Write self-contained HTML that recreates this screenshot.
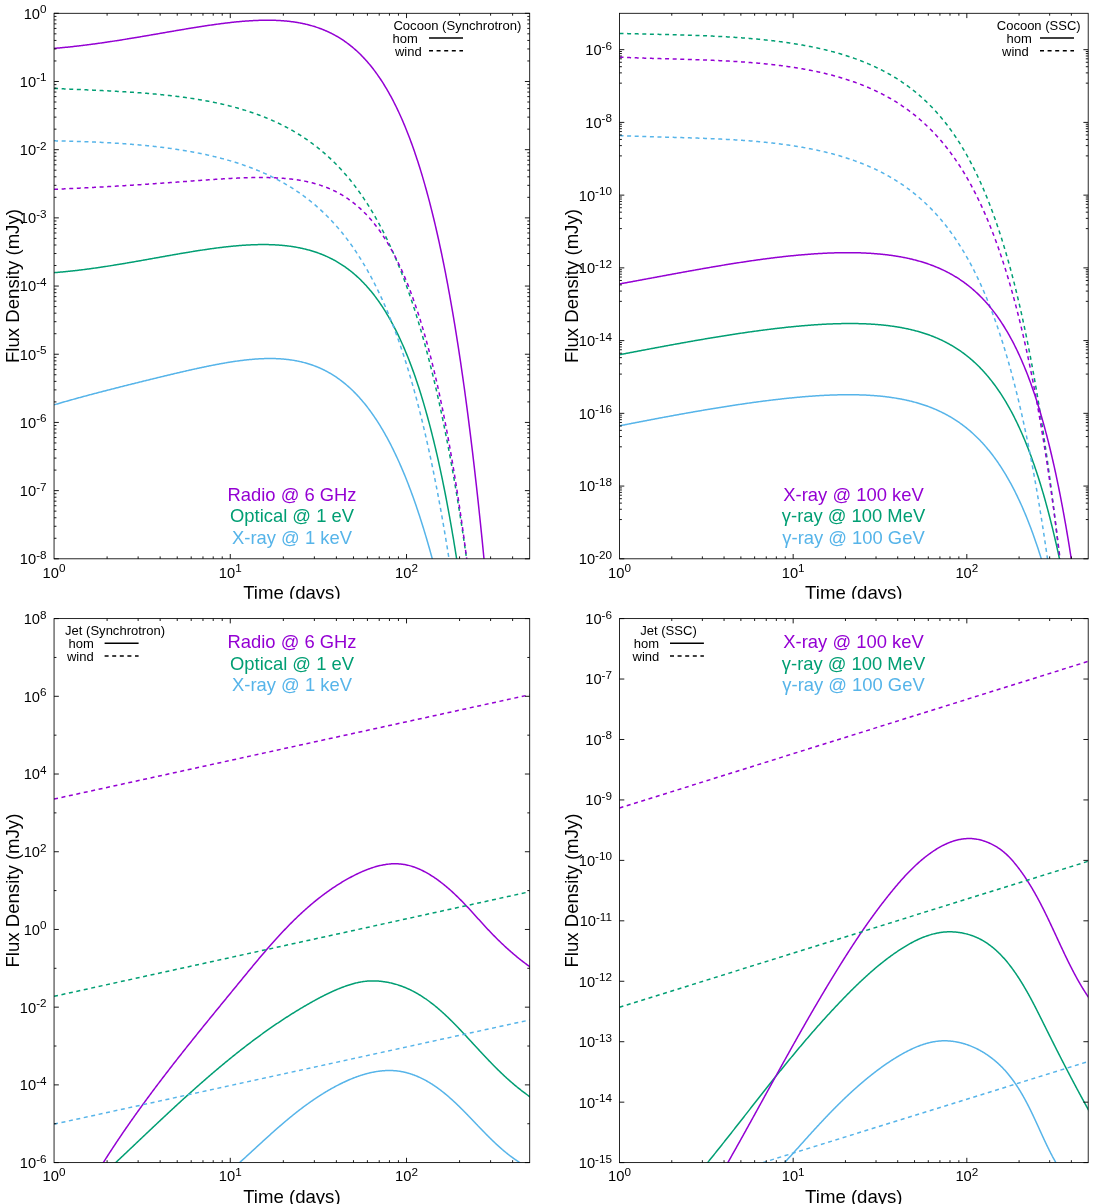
<!DOCTYPE html>
<html><head><meta charset="utf-8"><title>Light curves</title>
<style>
html,body{margin:0;padding:0;background:#fff;}
svg{display:block;font-family:"Liberation Sans",sans-serif;will-change:transform;}

</style></head><body>
<svg width="1110" height="1204" viewBox="0 0 1110 1204">
<rect width="1110" height="1204" fill="#fff"/>
<defs><clipPath id="top"><rect x="0" y="0" width="1110" height="601.5"/></clipPath></defs>
<clipPath id="clipTL"><rect x="54.05" y="13.3" width="475.65" height="545.5"/></clipPath>
<g clip-path="url(#clipTL)" fill="none" stroke-width="1.5" stroke-linejoin="round">
<path d="M54.05 404.86 L54.84 404.62 L55.64 404.39 L56.43 404.15 L57.23 403.92 L58.02 403.68 L58.81 403.45 L59.61 403.22 L60.4 402.99 L61.2 402.76 L61.99 402.53 L62.78 402.3 L63.58 402.07 L64.37 401.84 L65.17 401.61 L65.96 401.39 L66.76 401.16 L67.55 400.93 L68.34 400.71 L69.14 400.49 L69.93 400.26 L70.73 400.04 L71.52 399.82 L72.31 399.6 L73.11 399.37 L73.9 399.15 L74.7 398.93 L75.49 398.71 L76.28 398.49 L77.08 398.28 L77.87 398.06 L78.67 397.84 L79.46 397.62 L80.25 397.41 L81.05 397.19 L81.84 396.98 L82.64 396.76 L83.43 396.55 L84.22 396.33 L85.02 396.12 L85.81 395.91 L86.61 395.69 L87.4 395.48 L88.2 395.27 L88.99 395.06 L89.78 394.84 L90.58 394.63 L91.37 394.42 L92.17 394.21 L92.96 394 L93.75 393.79 L94.55 393.59 L95.34 393.38 L96.14 393.17 L96.93 392.96 L97.72 392.75 L98.52 392.54 L99.31 392.34 L100.11 392.13 L100.9 391.92 L101.69 391.72 L102.49 391.51 L103.28 391.31 L104.08 391.1 L104.87 390.9 L105.66 390.69 L106.46 390.49 L107.25 390.28 L108.05 390.08 L108.84 389.87 L109.64 389.67 L110.43 389.47 L111.22 389.26 L112.02 389.06 L112.81 388.86 L113.61 388.66 L114.4 388.45 L115.19 388.25 L115.99 388.05 L116.78 387.85 L117.58 387.65 L118.37 387.44 L119.16 387.24 L119.96 387.04 L120.75 386.84 L121.55 386.64 L122.34 386.44 L123.13 386.24 L123.93 386.04 L124.72 385.84 L125.52 385.64 L126.31 385.44 L127.1 385.24 L127.9 385.04 L128.69 384.84 L129.49 384.64 L130.28 384.44 L131.08 384.25 L131.87 384.05 L132.66 383.85 L133.46 383.65 L134.25 383.45 L135.05 383.25 L135.84 383.06 L136.63 382.86 L137.43 382.66 L138.22 382.46 L139.02 382.27 L139.81 382.07 L140.6 381.87 L141.4 381.68 L142.19 381.48 L142.99 381.28 L143.78 381.09 L144.57 380.89 L145.37 380.69 L146.16 380.5 L146.96 380.3 L147.75 380.11 L148.54 379.91 L149.34 379.72 L150.13 379.52 L150.93 379.33 L151.72 379.13 L152.52 378.94 L153.31 378.74 L154.1 378.55 L154.9 378.36 L155.69 378.16 L156.49 377.97 L157.28 377.77 L158.07 377.58 L158.87 377.39 L159.66 377.2 L160.46 377 L161.25 376.81 L162.04 376.62 L162.84 376.43 L163.63 376.24 L164.43 376.04 L165.22 375.85 L166.01 375.66 L166.81 375.47 L167.6 375.28 L168.4 375.09 L169.19 374.9 L169.98 374.71 L170.78 374.52 L171.57 374.33 L172.37 374.15 L173.16 373.96 L173.96 373.77 L174.75 373.58 L175.54 373.39 L176.34 373.21 L177.13 373.02 L177.93 372.84 L178.72 372.65 L179.51 372.46 L180.31 372.28 L181.1 372.09 L181.9 371.91 L182.69 371.73 L183.48 371.54 L184.28 371.36 L185.07 371.18 L185.87 371 L186.66 370.82 L187.45 370.64 L188.25 370.46 L189.04 370.28 L189.84 370.1 L190.63 369.92 L191.42 369.74 L192.22 369.56 L193.01 369.39 L193.81 369.21 L194.6 369.03 L195.4 368.86 L196.19 368.69 L196.98 368.51 L197.78 368.34 L198.57 368.17 L199.37 368 L200.16 367.83 L200.95 367.66 L201.75 367.49 L202.54 367.32 L203.34 367.15 L204.13 366.98 L204.92 366.82 L205.72 366.65 L206.51 366.49 L207.31 366.33 L208.1 366.16 L208.89 366 L209.69 365.84 L210.48 365.68 L211.28 365.53 L212.07 365.37 L212.86 365.21 L213.66 365.06 L214.45 364.9 L215.25 364.75 L216.04 364.6 L216.84 364.45 L217.63 364.3 L218.42 364.15 L219.22 364 L220.01 363.86 L220.81 363.71 L221.6 363.57 L222.39 363.43 L223.19 363.29 L223.98 363.15 L224.78 363.01 L225.57 362.87 L226.36 362.74 L227.16 362.61 L227.95 362.47 L228.75 362.34 L229.54 362.22 L230.33 362.09 L231.13 361.96 L231.92 361.84 L232.72 361.72 L233.51 361.6 L234.3 361.48 L235.1 361.36 L235.89 361.25 L236.69 361.13 L237.48 361.02 L238.28 360.91 L239.07 360.8 L239.86 360.7 L240.66 360.6 L241.45 360.49 L242.25 360.39 L243.04 360.3 L243.83 360.2 L244.63 360.11 L245.42 360.02 L246.22 359.93 L247.01 359.84 L247.8 359.76 L248.6 359.68 L249.39 359.6 L250.19 359.52 L250.98 359.45 L251.77 359.38 L252.57 359.31 L253.36 359.24 L254.16 359.18 L254.95 359.11 L255.74 359.06 L256.54 359 L257.33 358.95 L258.13 358.9 L258.92 358.85 L259.72 358.81 L260.51 358.76 L261.3 358.73 L262.1 358.69 L262.89 358.66 L263.69 358.63 L264.48 358.6 L265.27 358.58 L266.07 358.56 L266.86 358.55 L267.66 358.53 L268.45 358.53 L269.24 358.52 L270.04 358.52 L270.83 358.52 L271.63 358.52 L272.42 358.53 L273.21 358.55 L274.01 358.56 L274.8 358.58 L275.6 358.61 L276.39 358.64 L277.18 358.67 L277.98 358.71 L278.77 358.75 L279.57 358.79 L280.36 358.84 L281.16 358.89 L281.95 358.95 L282.74 359.01 L283.54 359.08 L284.33 359.15 L285.13 359.23 L285.92 359.31 L286.71 359.39 L287.51 359.48 L288.3 359.58 L289.1 359.68 L289.89 359.78 L290.68 359.89 L291.48 360.01 L292.27 360.13 L293.07 360.25 L293.86 360.38 L294.65 360.52 L295.45 360.66 L296.24 360.81 L297.04 360.96 L297.83 361.12 L298.62 361.28 L299.42 361.45 L300.21 361.63 L301.01 361.81 L301.8 362 L302.59 362.19 L303.39 362.39 L304.18 362.6 L304.98 362.81 L305.77 363.03 L306.57 363.25 L307.36 363.49 L308.15 363.72 L308.95 363.97 L309.74 364.22 L310.54 364.48 L311.33 364.75 L312.12 365.02 L312.92 365.3 L313.71 365.59 L314.51 365.88 L315.3 366.19 L316.09 366.5 L316.89 366.81 L317.68 367.14 L318.48 367.47 L319.27 367.81 L320.06 368.16 L320.86 368.52 L321.65 368.88 L322.45 369.25 L323.24 369.64 L324.03 370.03 L324.83 370.42 L325.62 370.83 L326.42 371.25 L327.21 371.67 L328.01 372.1 L328.8 372.55 L329.59 373 L330.39 373.46 L331.18 373.93 L331.98 374.41 L332.77 374.9 L333.56 375.39 L334.36 375.9 L335.15 376.42 L335.95 376.95 L336.74 377.49 L337.53 378.03 L338.33 378.59 L339.12 379.16 L339.92 379.74 L340.71 380.33 L341.5 380.93 L342.3 381.54 L343.09 382.17 L343.89 382.8 L344.68 383.44 L345.47 384.1 L346.27 384.77 L347.06 385.45 L347.86 386.14 L348.65 386.84 L349.45 387.56 L350.24 388.28 L351.03 389.02 L351.83 389.77 L352.62 390.54 L353.42 391.31 L354.21 392.1 L355 392.9 L355.8 393.72 L356.59 394.55 L357.39 395.39 L358.18 396.24 L358.97 397.11 L359.77 397.99 L360.56 398.89 L361.36 399.8 L362.15 400.72 L362.94 401.66 L363.74 402.62 L364.53 403.58 L365.33 404.56 L366.12 405.56 L366.91 406.57 L367.71 407.6 L368.5 408.64 L369.3 409.7 L370.09 410.77 L370.89 411.86 L371.68 412.97 L372.47 414.09 L373.27 415.23 L374.06 416.38 L374.86 417.55 L375.65 418.74 L376.44 419.94 L377.24 421.16 L378.03 422.4 L378.83 423.66 L379.62 424.93 L380.41 426.22 L381.21 427.53 L382 428.86 L382.8 430.21 L383.59 431.57 L384.38 432.95 L385.18 434.35 L385.97 435.78 L386.77 437.22 L387.56 438.67 L388.35 440.15 L389.15 441.65 L389.94 443.17 L390.74 444.71 L391.53 446.27 L392.33 447.85 L393.12 449.45 L393.91 451.07 L394.71 452.71 L395.5 454.38 L396.3 456.06 L397.09 457.77 L397.88 459.5 L398.68 461.25 L399.47 463.03 L400.27 464.82 L401.06 466.64 L401.85 468.48 L402.65 470.35 L403.44 472.24 L404.24 474.15 L405.03 476.09 L405.82 478.05 L406.62 480.04 L407.41 482.04 L408.21 484.08 L409 486.14 L409.79 488.22 L410.59 490.33 L411.38 492.47 L412.18 494.63 L412.97 496.82 L413.77 499.04 L414.56 501.28 L415.35 503.55 L416.15 505.84 L416.94 508.17 L417.74 510.52 L418.53 512.9 L419.32 515.3 L420.12 517.74 L420.91 520.2 L421.71 522.7 L422.5 525.22 L423.29 527.77 L424.09 530.35 L424.88 532.97 L425.68 535.61 L426.47 538.28 L427.26 540.99 L428.06 543.72 L428.85 546.49 L429.65 549.29 L430.44 552.12 L431.23 554.98 L432.03 557.88 L432.82 560.8 L433.62 563.76 L434.41 566.76 L435.21 569.79 L436 572.85 L436.79 575.95 L437.59 579.08 L438.38 582.25 L439.18 585.45 L439.97 588.69 L440.76 591.96 L441.56 595.27 L442.35 598.62 L443.15 602 L443.94 605.42 L444.73 608.88 L445.53 612.38 L446.32 615.91 L447.12 619.48 L447.91 623.1 L448.7 626.75 L449.5 630.44 L450.29 634.17 L451.09 637.94 L451.88 641.75 L452.67 645.6 L453.47 649.5 L454.26 653.43 L455.06 657.41 L455.85 661.43 L456.65 665.49 L457.44 669.6 L458.23 673.75 L459.03 677.94 L459.82 682.18 L460.62 686.46 L461.41 690.79 L462.2 695.16 L463 699.58 L463.79 704.05 L464.59 708.56 L465.38 713.12 L466.17 717.72 L466.97 722.38 L467.76 727.08 L468.56 731.83 L469.35 736.63 L470.14 741.48 L470.94 746.38 L471.73 751.32 L472.53 756.32 L473.32 761.38 L474.11 766.48 L474.91 771.63 L475.7 776.84 L476.5 782.1 L477.29 787.42 L478.09 792.78 L478.88 798.2 L479.67 803.68 L480.47 809.21 L481.26 814.8 L482.06 820.44 L482.85 826.14 L483.64 831.9 L484.44 837.72 L485.23 843.59 L486.03 849.52 L486.82 855.51 L487.61 861.56 L488.41 867.67 L489.2 873.84 L490 880.07 L490.79 886.36 L491.58 892.72 L492.38 899.14 L493.17 905.62 L493.97 912.16 L494.76 918.77 L495.55 925.44 L496.35 932.18 L497.14 938.98 L497.94 945.85 L498.73 952.79 L499.53 959.8 L500.32 966.87 L501.11 974.01 L501.91 981.22 L502.7 988.5 L503.5 995.85 L504.29 1003.27 L505.08 1010.76 L505.88 1018.32 L506.67 1025.96 L507.47 1033.67 L508.26 1041.45 L509.05 1049.31 L509.85 1057.24 L510.64 1065.25 L511.44 1073.33 L512.23 1081.49 L513.02 1089.73 L513.82 1098.04 L514.61 1106.44 L515.41 1114.91 L516.2 1123.47 L516.99 1132.1 L517.79 1140.81 L518.58 1149.61 L519.38 1158.49 L520.17 1167.46 L520.97 1176.5 L521.76 1185.63 L522.55 1194.85 L523.35 1204.15 L524.14 1213.54 L524.94 1223.02 L525.73 1232.59 L526.52 1242.24 L527.32 1251.98 L528.11 1261.82 L528.91 1271.74 L529.7 1281.76" stroke="#56b4e9"/>
<path d="M54.05 272.65 L54.84 272.59 L55.64 272.53 L56.43 272.46 L57.23 272.4 L58.02 272.33 L58.81 272.26 L59.61 272.19 L60.4 272.12 L61.2 272.05 L61.99 271.98 L62.78 271.9 L63.58 271.83 L64.37 271.75 L65.17 271.68 L65.96 271.6 L66.76 271.52 L67.55 271.44 L68.34 271.36 L69.14 271.28 L69.93 271.19 L70.73 271.11 L71.52 271.02 L72.31 270.93 L73.11 270.85 L73.9 270.76 L74.7 270.67 L75.49 270.58 L76.28 270.49 L77.08 270.39 L77.87 270.3 L78.67 270.21 L79.46 270.11 L80.25 270.01 L81.05 269.92 L81.84 269.82 L82.64 269.72 L83.43 269.62 L84.22 269.52 L85.02 269.42 L85.81 269.31 L86.61 269.21 L87.4 269.11 L88.2 269 L88.99 268.89 L89.78 268.79 L90.58 268.68 L91.37 268.57 L92.17 268.46 L92.96 268.35 L93.75 268.24 L94.55 268.13 L95.34 268.02 L96.14 267.9 L96.93 267.79 L97.72 267.67 L98.52 267.56 L99.31 267.44 L100.11 267.33 L100.9 267.21 L101.69 267.09 L102.49 266.97 L103.28 266.85 L104.08 266.73 L104.87 266.61 L105.66 266.49 L106.46 266.37 L107.25 266.24 L108.05 266.12 L108.84 266 L109.64 265.87 L110.43 265.75 L111.22 265.62 L112.02 265.49 L112.81 265.37 L113.61 265.24 L114.4 265.11 L115.19 264.98 L115.99 264.85 L116.78 264.72 L117.58 264.59 L118.37 264.46 L119.16 264.33 L119.96 264.2 L120.75 264.07 L121.55 263.94 L122.34 263.8 L123.13 263.67 L123.93 263.54 L124.72 263.4 L125.52 263.27 L126.31 263.13 L127.1 263 L127.9 262.86 L128.69 262.73 L129.49 262.59 L130.28 262.45 L131.08 262.32 L131.87 262.18 L132.66 262.04 L133.46 261.9 L134.25 261.76 L135.05 261.62 L135.84 261.49 L136.63 261.35 L137.43 261.21 L138.22 261.07 L139.02 260.93 L139.81 260.79 L140.6 260.65 L141.4 260.51 L142.19 260.37 L142.99 260.23 L143.78 260.08 L144.57 259.94 L145.37 259.8 L146.16 259.66 L146.96 259.52 L147.75 259.38 L148.54 259.24 L149.34 259.09 L150.13 258.95 L150.93 258.81 L151.72 258.67 L152.52 258.53 L153.31 258.38 L154.1 258.24 L154.9 258.1 L155.69 257.96 L156.49 257.81 L157.28 257.67 L158.07 257.53 L158.87 257.39 L159.66 257.25 L160.46 257.1 L161.25 256.96 L162.04 256.82 L162.84 256.68 L163.63 256.54 L164.43 256.39 L165.22 256.25 L166.01 256.11 L166.81 255.97 L167.6 255.83 L168.4 255.69 L169.19 255.55 L169.98 255.41 L170.78 255.27 L171.57 255.13 L172.37 254.99 L173.16 254.85 L173.96 254.71 L174.75 254.57 L175.54 254.43 L176.34 254.3 L177.13 254.16 L177.93 254.02 L178.72 253.88 L179.51 253.75 L180.31 253.61 L181.1 253.47 L181.9 253.34 L182.69 253.2 L183.48 253.07 L184.28 252.93 L185.07 252.8 L185.87 252.67 L186.66 252.53 L187.45 252.4 L188.25 252.27 L189.04 252.14 L189.84 252.01 L190.63 251.88 L191.42 251.75 L192.22 251.62 L193.01 251.49 L193.81 251.36 L194.6 251.23 L195.4 251.11 L196.19 250.98 L196.98 250.86 L197.78 250.73 L198.57 250.61 L199.37 250.48 L200.16 250.36 L200.95 250.24 L201.75 250.12 L202.54 250 L203.34 249.88 L204.13 249.76 L204.92 249.64 L205.72 249.53 L206.51 249.41 L207.31 249.29 L208.1 249.18 L208.89 249.07 L209.69 248.95 L210.48 248.84 L211.28 248.73 L212.07 248.62 L212.86 248.51 L213.66 248.41 L214.45 248.3 L215.25 248.19 L216.04 248.09 L216.84 247.99 L217.63 247.88 L218.42 247.78 L219.22 247.68 L220.01 247.58 L220.81 247.49 L221.6 247.39 L222.39 247.29 L223.19 247.2 L223.98 247.11 L224.78 247.01 L225.57 246.92 L226.36 246.84 L227.16 246.75 L227.95 246.66 L228.75 246.58 L229.54 246.49 L230.33 246.41 L231.13 246.33 L231.92 246.25 L232.72 246.17 L233.51 246.1 L234.3 246.02 L235.1 245.95 L235.89 245.88 L236.69 245.81 L237.48 245.74 L238.28 245.67 L239.07 245.61 L239.86 245.55 L240.66 245.48 L241.45 245.42 L242.25 245.37 L243.04 245.31 L243.83 245.26 L244.63 245.2 L245.42 245.15 L246.22 245.1 L247.01 245.06 L247.8 245.01 L248.6 244.97 L249.39 244.93 L250.19 244.89 L250.98 244.85 L251.77 244.82 L252.57 244.78 L253.36 244.75 L254.16 244.72 L254.95 244.7 L255.74 244.67 L256.54 244.65 L257.33 244.63 L258.13 244.62 L258.92 244.6 L259.72 244.59 L260.51 244.58 L261.3 244.57 L262.1 244.57 L262.89 244.56 L263.69 244.56 L264.48 244.57 L265.27 244.57 L266.07 244.58 L266.86 244.59 L267.66 244.6 L268.45 244.62 L269.24 244.64 L270.04 244.66 L270.83 244.68 L271.63 244.71 L272.42 244.74 L273.21 244.77 L274.01 244.81 L274.8 244.85 L275.6 244.89 L276.39 244.94 L277.18 244.99 L277.98 245.04 L278.77 245.09 L279.57 245.15 L280.36 245.21 L281.16 245.28 L281.95 245.35 L282.74 245.42 L283.54 245.5 L284.33 245.57 L285.13 245.66 L285.92 245.74 L286.71 245.83 L287.51 245.93 L288.3 246.03 L289.1 246.13 L289.89 246.23 L290.68 246.34 L291.48 246.46 L292.27 246.57 L293.07 246.7 L293.86 246.82 L294.65 246.95 L295.45 247.09 L296.24 247.22 L297.04 247.37 L297.83 247.51 L298.62 247.67 L299.42 247.82 L300.21 247.98 L301.01 248.15 L301.8 248.32 L302.59 248.5 L303.39 248.68 L304.18 248.86 L304.98 249.05 L305.77 249.25 L306.57 249.45 L307.36 249.65 L308.15 249.86 L308.95 250.08 L309.74 250.3 L310.54 250.53 L311.33 250.76 L312.12 251 L312.92 251.24 L313.71 251.49 L314.51 251.75 L315.3 252.01 L316.09 252.27 L316.89 252.55 L317.68 252.83 L318.48 253.11 L319.27 253.41 L320.06 253.7 L320.86 254.01 L321.65 254.32 L322.45 254.64 L323.24 254.96 L324.03 255.3 L324.83 255.63 L325.62 255.98 L326.42 256.33 L327.21 256.69 L328.01 257.06 L328.8 257.44 L329.59 257.82 L330.39 258.21 L331.18 258.61 L331.98 259.01 L332.77 259.42 L333.56 259.85 L334.36 260.28 L335.15 260.71 L335.95 261.16 L336.74 261.61 L337.53 262.08 L338.33 262.55 L339.12 263.03 L339.92 263.52 L340.71 264.02 L341.5 264.53 L342.3 265.04 L343.09 265.57 L343.89 266.11 L344.68 266.65 L345.47 267.21 L346.27 267.78 L347.06 268.35 L347.86 268.94 L348.65 269.53 L349.45 270.14 L350.24 270.76 L351.03 271.39 L351.83 272.03 L352.62 272.68 L353.42 273.34 L354.21 274.01 L355 274.7 L355.8 275.4 L356.59 276.1 L357.39 276.83 L358.18 277.56 L358.97 278.3 L359.77 279.06 L360.56 279.83 L361.36 280.62 L362.15 281.41 L362.94 282.22 L363.74 283.05 L364.53 283.89 L365.33 284.74 L366.12 285.6 L366.91 286.48 L367.71 287.38 L368.5 288.29 L369.3 289.21 L370.09 290.15 L370.89 291.1 L371.68 292.07 L372.47 293.06 L373.27 294.06 L374.06 295.08 L374.86 296.11 L375.65 297.16 L376.44 298.23 L377.24 299.32 L378.03 300.42 L378.83 301.54 L379.62 302.68 L380.41 303.83 L381.21 305.01 L382 306.2 L382.8 307.41 L383.59 308.64 L384.38 309.89 L385.18 311.16 L385.97 312.45 L386.77 313.77 L387.56 315.1 L388.35 316.45 L389.15 317.82 L389.94 319.22 L390.74 320.64 L391.53 322.08 L392.33 323.54 L393.12 325.02 L393.91 326.53 L394.71 328.06 L395.5 329.62 L396.3 331.2 L397.09 332.8 L397.88 334.43 L398.68 336.08 L399.47 337.76 L400.27 339.47 L401.06 341.2 L401.85 342.96 L402.65 344.75 L403.44 346.56 L404.24 348.4 L405.03 350.27 L405.82 352.17 L406.62 354.1 L407.41 356.06 L408.21 358.04 L409 360.06 L409.79 362.11 L410.59 364.19 L411.38 366.31 L412.18 368.45 L412.97 370.63 L413.77 372.84 L414.56 375.09 L415.35 377.36 L416.15 379.68 L416.94 382.03 L417.74 384.41 L418.53 386.84 L419.32 389.29 L420.12 391.79 L420.91 394.33 L421.71 396.9 L422.5 399.51 L423.29 402.16 L424.09 404.86 L424.88 407.59 L425.68 410.36 L426.47 413.18 L427.26 416.04 L428.06 418.94 L428.85 421.89 L429.65 424.89 L430.44 427.92 L431.23 431.01 L432.03 434.14 L432.82 437.32 L433.62 440.54 L434.41 443.82 L435.21 447.15 L436 450.52 L436.79 453.95 L437.59 457.43 L438.38 460.96 L439.18 464.55 L439.97 468.19 L440.76 471.88 L441.56 475.63 L442.35 479.44 L443.15 483.31 L443.94 487.23 L444.73 491.22 L445.53 495.26 L446.32 499.37 L447.12 503.54 L447.91 507.77 L448.7 512.06 L449.5 516.42 L450.29 520.85 L451.09 525.34 L451.88 529.91 L452.67 534.54 L453.47 539.24 L454.26 544.01 L455.06 548.86 L455.85 553.78 L456.65 558.77 L457.44 563.84 L458.23 568.98 L459.03 574.21 L459.82 579.51 L460.62 584.89 L461.41 590.36 L462.2 595.91 L463 601.54 L463.79 607.26 L464.59 613.06 L465.38 618.96 L466.17 624.94 L466.97 631.01 L467.76 637.18 L468.56 643.44 L469.35 649.79 L470.14 656.24 L470.94 662.79 L471.73 669.44 L472.53 676.19 L473.32 683.04 L474.11 690 L474.91 697.06 L475.7 704.23 L476.5 711.51 L477.29 718.89 L478.09 726.4 L478.88 734.01 L479.67 741.74 L480.47 749.59 L481.26 757.56 L482.06 765.65 L482.85 773.86 L483.64 782.2 L484.44 790.66 L485.23 799.26 L486.03 807.98 L486.82 816.84 L487.61 825.83 L488.41 834.96 L489.2 844.23 L490 853.64 L490.79 863.2 L491.58 872.9 L492.38 882.75 L493.17 892.74 L493.97 902.89 L494.76 913.2 L495.55 923.66 L496.35 934.28 L497.14 945.07 L497.94 956.02 L498.73 967.14 L499.53 978.42 L500.32 989.88 L501.11 1001.52 L501.91 1013.33 L502.7 1025.32 L503.5 1037.5 L504.29 1049.86 L505.08 1062.41 L505.88 1075.16 L506.67 1088.1 L507.47 1101.23 L508.26 1114.57 L509.05 1128.12 L509.85 1141.87 L510.64 1155.83 L511.44 1170 L512.23 1184.39 L513.02 1199.01 L513.82 1213.84 L514.61 1228.91 L515.41 1244.2 L516.2 1259.73 L516.99 1275.5 L517.79 1291.51 L518.58 1307.77 L519.38 1324.27 L520.17 1341.03 L520.97 1358.05 L521.76 1375.33 L522.55 1392.87 L523.35 1410.68 L524.14 1428.77 L524.94 1447.14 L525.73 1465.78 L526.52 1484.72 L527.32 1503.94 L528.11 1523.46 L528.91 1543.29 L529.7 1563.41" stroke="#009e73"/>
<path d="M54.05 140.84 L54.84 140.86 L55.64 140.87 L56.43 140.89 L57.23 140.91 L58.02 140.93 L58.81 140.94 L59.61 140.96 L60.4 140.98 L61.2 141 L61.99 141.02 L62.78 141.04 L63.58 141.06 L64.37 141.08 L65.17 141.1 L65.96 141.12 L66.76 141.14 L67.55 141.16 L68.34 141.18 L69.14 141.2 L69.93 141.22 L70.73 141.24 L71.52 141.27 L72.31 141.29 L73.11 141.31 L73.9 141.34 L74.7 141.36 L75.49 141.38 L76.28 141.41 L77.08 141.43 L77.87 141.46 L78.67 141.48 L79.46 141.51 L80.25 141.54 L81.05 141.56 L81.84 141.59 L82.64 141.62 L83.43 141.65 L84.22 141.67 L85.02 141.7 L85.81 141.73 L86.61 141.76 L87.4 141.79 L88.2 141.82 L88.99 141.85 L89.78 141.88 L90.58 141.92 L91.37 141.95 L92.17 141.98 L92.96 142.01 L93.75 142.05 L94.55 142.08 L95.34 142.12 L96.14 142.15 L96.93 142.19 L97.72 142.22 L98.52 142.26 L99.31 142.3 L100.11 142.33 L100.9 142.37 L101.69 142.41 L102.49 142.45 L103.28 142.49 L104.08 142.53 L104.87 142.57 L105.66 142.61 L106.46 142.65 L107.25 142.69 L108.05 142.74 L108.84 142.78 L109.64 142.83 L110.43 142.87 L111.22 142.92 L112.02 142.96 L112.81 143.01 L113.61 143.05 L114.4 143.1 L115.19 143.15 L115.99 143.2 L116.78 143.25 L117.58 143.3 L118.37 143.35 L119.16 143.4 L119.96 143.45 L120.75 143.51 L121.55 143.56 L122.34 143.61 L123.13 143.67 L123.93 143.72 L124.72 143.78 L125.52 143.84 L126.31 143.9 L127.1 143.95 L127.9 144.01 L128.69 144.07 L129.49 144.13 L130.28 144.19 L131.08 144.26 L131.87 144.32 L132.66 144.38 L133.46 144.45 L134.25 144.51 L135.05 144.58 L135.84 144.65 L136.63 144.71 L137.43 144.78 L138.22 144.85 L139.02 144.92 L139.81 144.99 L140.6 145.06 L141.4 145.13 L142.19 145.21 L142.99 145.28 L143.78 145.36 L144.57 145.43 L145.37 145.51 L146.16 145.59 L146.96 145.67 L147.75 145.75 L148.54 145.83 L149.34 145.91 L150.13 145.99 L150.93 146.07 L151.72 146.16 L152.52 146.24 L153.31 146.33 L154.1 146.41 L154.9 146.5 L155.69 146.59 L156.49 146.68 L157.28 146.77 L158.07 146.86 L158.87 146.96 L159.66 147.05 L160.46 147.15 L161.25 147.24 L162.04 147.34 L162.84 147.44 L163.63 147.54 L164.43 147.64 L165.22 147.74 L166.01 147.84 L166.81 147.95 L167.6 148.05 L168.4 148.16 L169.19 148.26 L169.98 148.37 L170.78 148.48 L171.57 148.59 L172.37 148.7 L173.16 148.82 L173.96 148.93 L174.75 149.04 L175.54 149.16 L176.34 149.28 L177.13 149.4 L177.93 149.52 L178.72 149.64 L179.51 149.76 L180.31 149.89 L181.1 150.01 L181.9 150.14 L182.69 150.27 L183.48 150.4 L184.28 150.53 L185.07 150.66 L185.87 150.79 L186.66 150.93 L187.45 151.06 L188.25 151.2 L189.04 151.34 L189.84 151.48 L190.63 151.62 L191.42 151.76 L192.22 151.91 L193.01 152.06 L193.81 152.2 L194.6 152.35 L195.4 152.5 L196.19 152.65 L196.98 152.81 L197.78 152.96 L198.57 153.12 L199.37 153.28 L200.16 153.44 L200.95 153.6 L201.75 153.76 L202.54 153.93 L203.34 154.09 L204.13 154.26 L204.92 154.43 L205.72 154.6 L206.51 154.78 L207.31 154.95 L208.1 155.13 L208.89 155.31 L209.69 155.49 L210.48 155.67 L211.28 155.85 L212.07 156.04 L212.86 156.23 L213.66 156.42 L214.45 156.61 L215.25 156.8 L216.04 157 L216.84 157.19 L217.63 157.39 L218.42 157.59 L219.22 157.8 L220.01 158 L220.81 158.21 L221.6 158.42 L222.39 158.63 L223.19 158.84 L223.98 159.05 L224.78 159.27 L225.57 159.49 L226.36 159.71 L227.16 159.94 L227.95 160.16 L228.75 160.39 L229.54 160.62 L230.33 160.85 L231.13 161.09 L231.92 161.32 L232.72 161.56 L233.51 161.81 L234.3 162.05 L235.1 162.3 L235.89 162.54 L236.69 162.8 L237.48 163.05 L238.28 163.31 L239.07 163.56 L239.86 163.83 L240.66 164.09 L241.45 164.36 L242.25 164.62 L243.04 164.9 L243.83 165.17 L244.63 165.45 L245.42 165.73 L246.22 166.01 L247.01 166.29 L247.8 166.58 L248.6 166.87 L249.39 167.17 L250.19 167.46 L250.98 167.76 L251.77 168.06 L252.57 168.37 L253.36 168.68 L254.16 168.99 L254.95 169.3 L255.74 169.62 L256.54 169.94 L257.33 170.27 L258.13 170.59 L258.92 170.92 L259.72 171.26 L260.51 171.59 L261.3 171.93 L262.1 172.27 L262.89 172.62 L263.69 172.97 L264.48 173.32 L265.27 173.68 L266.07 174.04 L266.86 174.41 L267.66 174.77 L268.45 175.14 L269.24 175.52 L270.04 175.9 L270.83 176.28 L271.63 176.67 L272.42 177.06 L273.21 177.45 L274.01 177.85 L274.8 178.25 L275.6 178.66 L276.39 179.07 L277.18 179.48 L277.98 179.9 L278.77 180.32 L279.57 180.75 L280.36 181.18 L281.16 181.61 L281.95 182.05 L282.74 182.5 L283.54 182.94 L284.33 183.4 L285.13 183.85 L285.92 184.32 L286.71 184.78 L287.51 185.25 L288.3 185.73 L289.1 186.21 L289.89 186.7 L290.68 187.19 L291.48 187.68 L292.27 188.19 L293.07 188.69 L293.86 189.2 L294.65 189.72 L295.45 190.24 L296.24 190.77 L297.04 191.3 L297.83 191.84 L298.62 192.38 L299.42 192.93 L300.21 193.49 L301.01 194.05 L301.8 194.61 L302.59 195.18 L303.39 195.76 L304.18 196.35 L304.98 196.94 L305.77 197.53 L306.57 198.14 L307.36 198.74 L308.15 199.36 L308.95 199.98 L309.74 200.61 L310.54 201.24 L311.33 201.88 L312.12 202.53 L312.92 203.19 L313.71 203.85 L314.51 204.52 L315.3 205.19 L316.09 205.88 L316.89 206.57 L317.68 207.27 L318.48 207.97 L319.27 208.68 L320.06 209.4 L320.86 210.13 L321.65 210.87 L322.45 211.61 L323.24 212.36 L324.03 213.12 L324.83 213.89 L325.62 214.67 L326.42 215.45 L327.21 216.24 L328.01 217.04 L328.8 217.85 L329.59 218.67 L330.39 219.5 L331.18 220.34 L331.98 221.18 L332.77 222.04 L333.56 222.9 L334.36 223.78 L335.15 224.66 L335.95 225.56 L336.74 226.46 L337.53 227.37 L338.33 228.3 L339.12 229.23 L339.92 230.17 L340.71 231.13 L341.5 232.09 L342.3 233.07 L343.09 234.05 L343.89 235.05 L344.68 236.06 L345.47 237.08 L346.27 238.11 L347.06 239.16 L347.86 240.21 L348.65 241.28 L349.45 242.36 L350.24 243.45 L351.03 244.55 L351.83 245.67 L352.62 246.79 L353.42 247.94 L354.21 249.09 L355 250.26 L355.8 251.44 L356.59 252.63 L357.39 253.84 L358.18 255.06 L358.97 256.3 L359.77 257.55 L360.56 258.81 L361.36 260.09 L362.15 261.38 L362.94 262.69 L363.74 264.02 L364.53 265.36 L365.33 266.71 L366.12 268.08 L366.91 269.47 L367.71 270.87 L368.5 272.29 L369.3 273.73 L370.09 275.18 L370.89 276.65 L371.68 278.14 L372.47 279.64 L373.27 281.16 L374.06 282.7 L374.86 284.26 L375.65 285.84 L376.44 287.43 L377.24 289.05 L378.03 290.68 L378.83 292.34 L379.62 294.01 L380.41 295.7 L381.21 297.42 L382 299.15 L382.8 300.9 L383.59 302.68 L384.38 304.48 L385.18 306.3 L385.97 308.14 L386.77 310 L387.56 311.88 L388.35 313.79 L389.15 315.72 L389.94 317.68 L390.74 319.66 L391.53 321.66 L392.33 323.69 L393.12 325.74 L393.91 327.81 L394.71 329.92 L395.5 332.04 L396.3 334.2 L397.09 336.38 L397.88 338.59 L398.68 340.82 L399.47 343.08 L400.27 345.37 L401.06 347.69 L401.85 350.04 L402.65 352.42 L403.44 354.82 L404.24 357.26 L405.03 359.72 L405.82 362.22 L406.62 364.75 L407.41 367.31 L408.21 369.9 L409 372.52 L409.79 375.18 L410.59 377.87 L411.38 380.59 L412.18 383.35 L412.97 386.14 L413.77 388.97 L414.56 391.83 L415.35 394.73 L416.15 397.67 L416.94 400.64 L417.74 403.65 L418.53 406.7 L419.32 409.79 L420.12 412.92 L420.91 416.08 L421.71 419.29 L422.5 422.54 L423.29 425.83 L424.09 429.16 L424.88 432.54 L425.68 435.95 L426.47 439.41 L427.26 442.92 L428.06 446.47 L428.85 450.07 L429.65 453.71 L430.44 457.4 L431.23 461.14 L432.03 464.92 L432.82 468.76 L433.62 472.64 L434.41 476.58 L435.21 480.56 L436 484.6 L436.79 488.69 L437.59 492.83 L438.38 497.03 L439.18 501.28 L439.97 505.59 L440.76 509.95 L441.56 514.37 L442.35 518.85 L443.15 523.39 L443.94 527.98 L444.73 532.64 L445.53 537.36 L446.32 542.14 L447.12 546.98 L447.91 551.89 L448.7 556.86 L449.5 561.89 L450.29 566.99 L451.09 572.16 L451.88 577.4 L452.67 582.71 L453.47 588.09 L454.26 593.54 L455.06 599.06 L455.85 604.65 L456.65 610.32 L457.44 616.06 L458.23 621.88 L459.03 627.78 L459.82 633.76 L460.62 639.81 L461.41 645.95 L462.2 652.17 L463 658.47 L463.79 664.86 L464.59 671.33 L465.38 677.88 L466.17 684.53 L466.97 691.27 L467.76 698.09 L468.56 705.01 L469.35 712.02 L470.14 719.12 L470.94 726.32 L471.73 733.62 L472.53 741.01 L473.32 748.51 L474.11 756.1 L474.91 763.8 L475.7 771.6 L476.5 779.51 L477.29 787.52 L478.09 795.65 L478.88 803.88 L479.67 812.22 L480.47 820.68 L481.26 829.25 L482.06 837.94 L482.85 846.75 L483.64 855.67 L484.44 864.72 L485.23 873.89 L486.03 883.19 L486.82 892.61 L487.61 902.16 L488.41 911.84 L489.2 921.66 L490 931.6 L490.79 941.69 L491.58 951.91 L492.38 962.27 L493.17 972.77 L493.97 983.42 L494.76 994.21 L495.55 1005.15 L496.35 1016.24 L497.14 1027.48 L497.94 1038.88 L498.73 1050.43 L499.53 1062.15 L500.32 1074.02 L501.11 1086.06 L501.91 1098.26 L502.7 1110.63 L503.5 1123.17 L504.29 1135.88 L505.08 1148.77 L505.88 1161.84 L506.67 1175.09 L507.47 1188.52 L508.26 1202.13 L509.05 1215.94 L509.85 1229.93 L510.64 1244.12 L511.44 1258.5 L512.23 1273.09 L513.02 1287.87 L513.82 1302.86 L514.61 1318.06 L515.41 1333.47 L516.2 1349.09 L516.99 1364.93 L517.79 1380.99 L518.58 1397.28 L519.38 1413.79 L520.17 1430.53 L520.97 1447.5 L521.76 1464.71 L522.55 1482.15 L523.35 1499.85 L524.14 1517.78 L524.94 1535.97 L525.73 1554.41 L526.52 1573.11 L527.32 1592.07 L528.11 1611.29 L528.91 1630.78 L529.7 1650.54" stroke="#56b4e9" stroke-dasharray="4 3.6"/>
<path d="M54.05 88.42 L54.84 88.45 L55.64 88.49 L56.43 88.53 L57.23 88.56 L58.02 88.6 L58.81 88.64 L59.61 88.67 L60.4 88.71 L61.2 88.74 L61.99 88.78 L62.78 88.82 L63.58 88.85 L64.37 88.89 L65.17 88.92 L65.96 88.96 L66.76 88.99 L67.55 89.03 L68.34 89.06 L69.14 89.1 L69.93 89.13 L70.73 89.17 L71.52 89.2 L72.31 89.24 L73.11 89.27 L73.9 89.31 L74.7 89.34 L75.49 89.38 L76.28 89.41 L77.08 89.44 L77.87 89.48 L78.67 89.51 L79.46 89.55 L80.25 89.58 L81.05 89.62 L81.84 89.65 L82.64 89.69 L83.43 89.72 L84.22 89.76 L85.02 89.79 L85.81 89.83 L86.61 89.86 L87.4 89.9 L88.2 89.93 L88.99 89.97 L89.78 90 L90.58 90.04 L91.37 90.08 L92.17 90.11 L92.96 90.15 L93.75 90.18 L94.55 90.22 L95.34 90.26 L96.14 90.29 L96.93 90.33 L97.72 90.37 L98.52 90.41 L99.31 90.44 L100.11 90.48 L100.9 90.52 L101.69 90.56 L102.49 90.6 L103.28 90.63 L104.08 90.67 L104.87 90.71 L105.66 90.75 L106.46 90.79 L107.25 90.83 L108.05 90.87 L108.84 90.91 L109.64 90.95 L110.43 90.99 L111.22 91.04 L112.02 91.08 L112.81 91.12 L113.61 91.16 L114.4 91.2 L115.19 91.25 L115.99 91.29 L116.78 91.33 L117.58 91.38 L118.37 91.42 L119.16 91.47 L119.96 91.51 L120.75 91.56 L121.55 91.61 L122.34 91.65 L123.13 91.7 L123.93 91.75 L124.72 91.8 L125.52 91.84 L126.31 91.89 L127.1 91.94 L127.9 91.99 L128.69 92.04 L129.49 92.09 L130.28 92.14 L131.08 92.2 L131.87 92.25 L132.66 92.3 L133.46 92.36 L134.25 92.41 L135.05 92.46 L135.84 92.52 L136.63 92.58 L137.43 92.63 L138.22 92.69 L139.02 92.75 L139.81 92.8 L140.6 92.86 L141.4 92.92 L142.19 92.98 L142.99 93.04 L143.78 93.1 L144.57 93.17 L145.37 93.23 L146.16 93.29 L146.96 93.36 L147.75 93.42 L148.54 93.49 L149.34 93.55 L150.13 93.62 L150.93 93.69 L151.72 93.76 L152.52 93.83 L153.31 93.9 L154.1 93.97 L154.9 94.04 L155.69 94.11 L156.49 94.18 L157.28 94.26 L158.07 94.33 L158.87 94.41 L159.66 94.48 L160.46 94.56 L161.25 94.64 L162.04 94.72 L162.84 94.8 L163.63 94.88 L164.43 94.96 L165.22 95.04 L166.01 95.13 L166.81 95.21 L167.6 95.3 L168.4 95.39 L169.19 95.47 L169.98 95.56 L170.78 95.65 L171.57 95.74 L172.37 95.83 L173.16 95.93 L173.96 96.02 L174.75 96.11 L175.54 96.21 L176.34 96.31 L177.13 96.4 L177.93 96.5 L178.72 96.6 L179.51 96.7 L180.31 96.81 L181.1 96.91 L181.9 97.01 L182.69 97.12 L183.48 97.23 L184.28 97.34 L185.07 97.45 L185.87 97.56 L186.66 97.67 L187.45 97.78 L188.25 97.89 L189.04 98.01 L189.84 98.13 L190.63 98.25 L191.42 98.37 L192.22 98.49 L193.01 98.61 L193.81 98.73 L194.6 98.86 L195.4 98.98 L196.19 99.11 L196.98 99.24 L197.78 99.37 L198.57 99.5 L199.37 99.64 L200.16 99.77 L200.95 99.91 L201.75 100.04 L202.54 100.18 L203.34 100.32 L204.13 100.47 L204.92 100.61 L205.72 100.76 L206.51 100.9 L207.31 101.05 L208.1 101.2 L208.89 101.35 L209.69 101.51 L210.48 101.66 L211.28 101.82 L212.07 101.98 L212.86 102.14 L213.66 102.3 L214.45 102.46 L215.25 102.63 L216.04 102.8 L216.84 102.96 L217.63 103.13 L218.42 103.31 L219.22 103.48 L220.01 103.66 L220.81 103.84 L221.6 104.02 L222.39 104.2 L223.19 104.38 L223.98 104.57 L224.78 104.76 L225.57 104.95 L226.36 105.14 L227.16 105.33 L227.95 105.53 L228.75 105.73 L229.54 105.93 L230.33 106.13 L231.13 106.33 L231.92 106.54 L232.72 106.75 L233.51 106.96 L234.3 107.17 L235.1 107.39 L235.89 107.6 L236.69 107.82 L237.48 108.05 L238.28 108.27 L239.07 108.5 L239.86 108.73 L240.66 108.96 L241.45 109.19 L242.25 109.43 L243.04 109.67 L243.83 109.91 L244.63 110.15 L245.42 110.4 L246.22 110.65 L247.01 110.9 L247.8 111.15 L248.6 111.41 L249.39 111.67 L250.19 111.93 L250.98 112.2 L251.77 112.46 L252.57 112.73 L253.36 113.01 L254.16 113.28 L254.95 113.56 L255.74 113.84 L256.54 114.13 L257.33 114.41 L258.13 114.7 L258.92 115 L259.72 115.29 L260.51 115.59 L261.3 115.9 L262.1 116.2 L262.89 116.51 L263.69 116.82 L264.48 117.14 L265.27 117.46 L266.07 117.78 L266.86 118.1 L267.66 118.43 L268.45 118.76 L269.24 119.1 L270.04 119.44 L270.83 119.78 L271.63 120.12 L272.42 120.47 L273.21 120.83 L274.01 121.18 L274.8 121.54 L275.6 121.91 L276.39 122.27 L277.18 122.64 L277.98 123.02 L278.77 123.4 L279.57 123.78 L280.36 124.17 L281.16 124.56 L281.95 124.95 L282.74 125.35 L283.54 125.76 L284.33 126.16 L285.13 126.57 L285.92 126.99 L286.71 127.41 L287.51 127.83 L288.3 128.26 L289.1 128.69 L289.89 129.13 L290.68 129.57 L291.48 130.02 L292.27 130.47 L293.07 130.93 L293.86 131.39 L294.65 131.85 L295.45 132.32 L296.24 132.8 L297.04 133.27 L297.83 133.76 L298.62 134.25 L299.42 134.74 L300.21 135.24 L301.01 135.75 L301.8 136.26 L302.59 136.77 L303.39 137.29 L304.18 137.82 L304.98 138.35 L305.77 138.89 L306.57 139.43 L307.36 139.98 L308.15 140.54 L308.95 141.1 L309.74 141.66 L310.54 142.23 L311.33 142.81 L312.12 143.39 L312.92 143.98 L313.71 144.58 L314.51 145.18 L315.3 145.79 L316.09 146.41 L316.89 147.03 L317.68 147.66 L318.48 148.29 L319.27 148.93 L320.06 149.58 L320.86 150.23 L321.65 150.9 L322.45 151.56 L323.24 152.24 L324.03 152.92 L324.83 153.61 L325.62 154.31 L326.42 155.02 L327.21 155.73 L328.01 156.45 L328.8 157.18 L329.59 157.91 L330.39 158.66 L331.18 159.41 L331.98 160.17 L332.77 160.93 L333.56 161.71 L334.36 162.49 L335.15 163.29 L335.95 164.09 L336.74 164.9 L337.53 165.71 L338.33 166.54 L339.12 167.38 L339.92 168.22 L340.71 169.08 L341.5 169.94 L342.3 170.81 L343.09 171.69 L343.89 172.58 L344.68 173.49 L345.47 174.4 L346.27 175.32 L347.06 176.25 L347.86 177.19 L348.65 178.14 L349.45 179.1 L350.24 180.08 L351.03 181.06 L351.83 182.05 L352.62 183.06 L353.42 184.07 L354.21 185.1 L355 186.14 L355.8 187.19 L356.59 188.25 L357.39 189.32 L358.18 190.41 L358.97 191.51 L359.77 192.62 L360.56 193.74 L361.36 194.87 L362.15 196.02 L362.94 197.18 L363.74 198.35 L364.53 199.54 L365.33 200.73 L366.12 201.95 L366.91 203.17 L367.71 204.41 L368.5 205.67 L369.3 206.93 L370.09 208.22 L370.89 209.51 L371.68 210.82 L372.47 212.15 L373.27 213.49 L374.06 214.85 L374.86 216.22 L375.65 217.61 L376.44 219.01 L377.24 220.43 L378.03 221.87 L378.83 223.32 L379.62 224.79 L380.41 226.27 L381.21 227.77 L382 229.29 L382.8 230.83 L383.59 232.38 L384.38 233.96 L385.18 235.55 L385.97 237.16 L386.77 238.79 L387.56 240.43 L388.35 242.1 L389.15 243.78 L389.94 245.49 L390.74 247.21 L391.53 248.96 L392.33 250.72 L393.12 252.51 L393.91 254.32 L394.71 256.14 L395.5 257.99 L396.3 259.87 L397.09 261.76 L397.88 263.67 L398.68 265.61 L399.47 267.57 L400.27 269.56 L401.06 271.57 L401.85 273.6 L402.65 275.65 L403.44 277.73 L404.24 279.84 L405.03 281.97 L405.82 284.12 L406.62 286.3 L407.41 288.51 L408.21 290.74 L409 293 L409.79 295.29 L410.59 297.61 L411.38 299.95 L412.18 302.32 L412.97 304.72 L413.77 307.15 L414.56 309.6 L415.35 312.09 L416.15 314.61 L416.94 317.16 L417.74 319.74 L418.53 322.35 L419.32 324.99 L420.12 327.66 L420.91 330.37 L421.71 333.11 L422.5 335.88 L423.29 338.69 L424.09 341.53 L424.88 344.41 L425.68 347.32 L426.47 350.27 L427.26 353.25 L428.06 356.27 L428.85 359.33 L429.65 362.42 L430.44 365.56 L431.23 368.73 L432.03 371.94 L432.82 375.19 L433.62 378.49 L434.41 381.82 L435.21 385.19 L436 388.61 L436.79 392.07 L437.59 395.57 L438.38 399.12 L439.18 402.71 L439.97 406.34 L440.76 410.02 L441.56 413.75 L442.35 417.52 L443.15 421.34 L443.94 425.21 L444.73 429.13 L445.53 433.1 L446.32 437.11 L447.12 441.18 L447.91 445.3 L448.7 449.47 L449.5 453.69 L450.29 457.97 L451.09 462.3 L451.88 466.69 L452.67 471.13 L453.47 475.63 L454.26 480.19 L455.06 484.8 L455.85 489.48 L456.65 494.21 L457.44 499 L458.23 503.86 L459.03 508.77 L459.82 513.75 L460.62 518.8 L461.41 523.91 L462.2 529.08 L463 534.32 L463.79 539.63 L464.59 545 L465.38 550.45 L466.17 555.97 L466.97 561.55 L467.76 567.21 L468.56 572.95 L469.35 578.75 L470.14 584.64 L470.94 590.59 L471.73 596.63 L472.53 602.74 L473.32 608.94 L474.11 615.21 L474.91 621.57 L475.7 628.01 L476.5 634.53 L477.29 641.14 L478.09 647.83 L478.88 654.62 L479.67 661.49 L480.47 668.45 L481.26 675.5 L482.06 682.64 L482.85 689.88 L483.64 697.21 L484.44 704.64 L485.23 712.17 L486.03 719.8 L486.82 727.52 L487.61 735.35 L488.41 743.29 L489.2 751.32 L490 759.46 L490.79 767.72 L491.58 776.07 L492.38 784.54 L493.17 793.13 L493.97 801.82 L494.76 810.63 L495.55 819.56 L496.35 828.61 L497.14 837.78 L497.94 847.07 L498.73 856.48 L499.53 866.02 L500.32 875.68 L501.11 885.48 L501.91 895.4 L502.7 905.46 L503.5 915.65 L504.29 925.98 L505.08 936.44 L505.88 947.05 L506.67 957.8 L507.47 968.69 L508.26 979.72 L509.05 990.91 L509.85 1002.25 L510.64 1013.73 L511.44 1025.38 L512.23 1037.18 L513.02 1049.13 L513.82 1061.25 L514.61 1073.53 L515.41 1085.98 L516.2 1098.6 L516.99 1111.38 L517.79 1124.34 L518.58 1137.47 L519.38 1150.78 L520.17 1164.27 L520.97 1177.94 L521.76 1191.8 L522.55 1205.85 L523.35 1220.08 L524.14 1234.51 L524.94 1249.13 L525.73 1263.96 L526.52 1278.98 L527.32 1294.21 L528.11 1309.64 L528.91 1325.28 L529.7 1341.14" stroke="#009e73" stroke-dasharray="4 3.6"/>
<path d="M54.05 189.34 L54.84 189.31 L55.64 189.27 L56.43 189.23 L57.23 189.19 L58.02 189.16 L58.81 189.12 L59.61 189.08 L60.4 189.04 L61.2 189.01 L61.99 188.97 L62.78 188.93 L63.58 188.89 L64.37 188.86 L65.17 188.82 L65.96 188.78 L66.76 188.74 L67.55 188.71 L68.34 188.67 L69.14 188.63 L69.93 188.59 L70.73 188.55 L71.52 188.52 L72.31 188.48 L73.11 188.44 L73.9 188.4 L74.7 188.36 L75.49 188.32 L76.28 188.28 L77.08 188.24 L77.87 188.2 L78.67 188.17 L79.46 188.13 L80.25 188.09 L81.05 188.05 L81.84 188.01 L82.64 187.97 L83.43 187.93 L84.22 187.89 L85.02 187.85 L85.81 187.81 L86.61 187.77 L87.4 187.73 L88.2 187.69 L88.99 187.64 L89.78 187.6 L90.58 187.56 L91.37 187.52 L92.17 187.48 L92.96 187.44 L93.75 187.4 L94.55 187.35 L95.34 187.31 L96.14 187.27 L96.93 187.23 L97.72 187.19 L98.52 187.14 L99.31 187.1 L100.11 187.06 L100.9 187.01 L101.69 186.97 L102.49 186.93 L103.28 186.88 L104.08 186.84 L104.87 186.8 L105.66 186.75 L106.46 186.71 L107.25 186.66 L108.05 186.62 L108.84 186.57 L109.64 186.53 L110.43 186.48 L111.22 186.44 L112.02 186.39 L112.81 186.35 L113.61 186.3 L114.4 186.26 L115.19 186.21 L115.99 186.16 L116.78 186.12 L117.58 186.07 L118.37 186.02 L119.16 185.98 L119.96 185.93 L120.75 185.88 L121.55 185.83 L122.34 185.79 L123.13 185.74 L123.93 185.69 L124.72 185.64 L125.52 185.59 L126.31 185.54 L127.1 185.49 L127.9 185.45 L128.69 185.4 L129.49 185.35 L130.28 185.3 L131.08 185.25 L131.87 185.2 L132.66 185.15 L133.46 185.1 L134.25 185.05 L135.05 184.99 L135.84 184.94 L136.63 184.89 L137.43 184.84 L138.22 184.79 L139.02 184.74 L139.81 184.69 L140.6 184.63 L141.4 184.58 L142.19 184.53 L142.99 184.48 L143.78 184.42 L144.57 184.37 L145.37 184.32 L146.16 184.26 L146.96 184.21 L147.75 184.16 L148.54 184.1 L149.34 184.05 L150.13 184 L150.93 183.94 L151.72 183.89 L152.52 183.83 L153.31 183.78 L154.1 183.72 L154.9 183.67 L155.69 183.61 L156.49 183.56 L157.28 183.5 L158.07 183.45 L158.87 183.39 L159.66 183.33 L160.46 183.28 L161.25 183.22 L162.04 183.17 L162.84 183.11 L163.63 183.05 L164.43 183 L165.22 182.94 L166.01 182.88 L166.81 182.83 L167.6 182.77 L168.4 182.71 L169.19 182.65 L169.98 182.6 L170.78 182.54 L171.57 182.48 L172.37 182.42 L173.16 182.37 L173.96 182.31 L174.75 182.25 L175.54 182.19 L176.34 182.13 L177.13 182.08 L177.93 182.02 L178.72 181.96 L179.51 181.9 L180.31 181.84 L181.1 181.79 L181.9 181.73 L182.69 181.67 L183.48 181.61 L184.28 181.55 L185.07 181.49 L185.87 181.44 L186.66 181.38 L187.45 181.32 L188.25 181.26 L189.04 181.2 L189.84 181.14 L190.63 181.09 L191.42 181.03 L192.22 180.97 L193.01 180.91 L193.81 180.86 L194.6 180.8 L195.4 180.74 L196.19 180.68 L196.98 180.62 L197.78 180.57 L198.57 180.51 L199.37 180.45 L200.16 180.4 L200.95 180.34 L201.75 180.28 L202.54 180.23 L203.34 180.17 L204.13 180.11 L204.92 180.06 L205.72 180 L206.51 179.95 L207.31 179.89 L208.1 179.84 L208.89 179.78 L209.69 179.73 L210.48 179.68 L211.28 179.62 L212.07 179.57 L212.86 179.51 L213.66 179.46 L214.45 179.41 L215.25 179.36 L216.04 179.31 L216.84 179.25 L217.63 179.2 L218.42 179.15 L219.22 179.1 L220.01 179.05 L220.81 179 L221.6 178.96 L222.39 178.91 L223.19 178.86 L223.98 178.81 L224.78 178.77 L225.57 178.72 L226.36 178.67 L227.16 178.63 L227.95 178.58 L228.75 178.54 L229.54 178.5 L230.33 178.45 L231.13 178.41 L231.92 178.37 L232.72 178.33 L233.51 178.29 L234.3 178.25 L235.1 178.21 L235.89 178.18 L236.69 178.14 L237.48 178.1 L238.28 178.07 L239.07 178.03 L239.86 178 L240.66 177.97 L241.45 177.94 L242.25 177.91 L243.04 177.88 L243.83 177.85 L244.63 177.82 L245.42 177.8 L246.22 177.77 L247.01 177.75 L247.8 177.72 L248.6 177.7 L249.39 177.68 L250.19 177.66 L250.98 177.64 L251.77 177.62 L252.57 177.61 L253.36 177.59 L254.16 177.58 L254.95 177.57 L255.74 177.56 L256.54 177.55 L257.33 177.54 L258.13 177.54 L258.92 177.53 L259.72 177.53 L260.51 177.53 L261.3 177.53 L262.1 177.53 L262.89 177.53 L263.69 177.54 L264.48 177.54 L265.27 177.55 L266.07 177.56 L266.86 177.58 L267.66 177.59 L268.45 177.61 L269.24 177.63 L270.04 177.65 L270.83 177.67 L271.63 177.69 L272.42 177.72 L273.21 177.75 L274.01 177.78 L274.8 177.81 L275.6 177.85 L276.39 177.88 L277.18 177.92 L277.98 177.97 L278.77 178.01 L279.57 178.06 L280.36 178.11 L281.16 178.16 L281.95 178.22 L282.74 178.28 L283.54 178.34 L284.33 178.4 L285.13 178.47 L285.92 178.54 L286.71 178.61 L287.51 178.68 L288.3 178.76 L289.1 178.84 L289.89 178.93 L290.68 179.02 L291.48 179.11 L292.27 179.2 L293.07 179.3 L293.86 179.4 L294.65 179.51 L295.45 179.62 L296.24 179.73 L297.04 179.85 L297.83 179.97 L298.62 180.09 L299.42 180.22 L300.21 180.35 L301.01 180.48 L301.8 180.62 L302.59 180.77 L303.39 180.92 L304.18 181.07 L304.98 181.22 L305.77 181.39 L306.57 181.55 L307.36 181.72 L308.15 181.9 L308.95 182.08 L309.74 182.26 L310.54 182.45 L311.33 182.65 L312.12 182.85 L312.92 183.05 L313.71 183.26 L314.51 183.48 L315.3 183.7 L316.09 183.93 L316.89 184.16 L317.68 184.4 L318.48 184.64 L319.27 184.89 L320.06 185.15 L320.86 185.41 L321.65 185.68 L322.45 185.95 L323.24 186.23 L324.03 186.52 L324.83 186.81 L325.62 187.11 L326.42 187.42 L327.21 187.74 L328.01 188.06 L328.8 188.39 L329.59 188.72 L330.39 189.07 L331.18 189.42 L331.98 189.77 L332.77 190.14 L333.56 190.51 L334.36 190.9 L335.15 191.29 L335.95 191.68 L336.74 192.09 L337.53 192.51 L338.33 192.93 L339.12 193.36 L339.92 193.8 L340.71 194.25 L341.5 194.71 L342.3 195.18 L343.09 195.66 L343.89 196.15 L344.68 196.64 L345.47 197.15 L346.27 197.67 L347.06 198.19 L347.86 198.73 L348.65 199.28 L349.45 199.84 L350.24 200.41 L351.03 200.99 L351.83 201.58 L352.62 202.18 L353.42 202.8 L354.21 203.42 L355 204.06 L355.8 204.71 L356.59 205.37 L357.39 206.05 L358.18 206.74 L358.97 207.44 L359.77 208.15 L360.56 208.87 L361.36 209.61 L362.15 210.37 L362.94 211.13 L363.74 211.91 L364.53 212.71 L365.33 213.52 L366.12 214.34 L366.91 215.18 L367.71 216.03 L368.5 216.9 L369.3 217.78 L370.09 218.68 L370.89 219.6 L371.68 220.53 L372.47 221.48 L373.27 222.44 L374.06 223.42 L374.86 224.42 L375.65 225.44 L376.44 226.47 L377.24 227.52 L378.03 228.59 L378.83 229.68 L379.62 230.79 L380.41 231.91 L381.21 233.06 L382 234.22 L382.8 235.4 L383.59 236.61 L384.38 237.83 L385.18 239.08 L385.97 240.34 L386.77 241.63 L387.56 242.94 L388.35 244.27 L389.15 245.62 L389.94 247 L390.74 248.39 L391.53 249.82 L392.33 251.26 L393.12 252.73 L393.91 254.22 L394.71 255.74 L395.5 257.28 L396.3 258.85 L397.09 260.44 L397.88 262.06 L398.68 263.71 L399.47 265.38 L400.27 267.08 L401.06 268.8 L401.85 270.56 L402.65 272.34 L403.44 274.15 L404.24 275.99 L405.03 277.86 L405.82 279.76 L406.62 281.69 L407.41 283.65 L408.21 285.65 L409 287.67 L409.79 289.73 L410.59 291.81 L411.38 293.94 L412.18 296.09 L412.97 298.28 L413.77 300.51 L414.56 302.76 L415.35 305.06 L416.15 307.39 L416.94 309.76 L417.74 312.16 L418.53 314.6 L419.32 317.08 L420.12 319.6 L420.91 322.15 L421.71 324.75 L422.5 327.39 L423.29 330.07 L424.09 332.79 L424.88 335.55 L425.68 338.35 L426.47 341.2 L427.26 344.09 L428.06 347.02 L428.85 350 L429.65 353.03 L430.44 356.1 L431.23 359.22 L432.03 362.39 L432.82 365.6 L433.62 368.87 L434.41 372.18 L435.21 375.54 L436 378.96 L436.79 382.43 L437.59 385.95 L438.38 389.52 L439.18 393.14 L439.97 396.83 L440.76 400.56 L441.56 404.36 L442.35 408.21 L443.15 412.11 L443.94 416.08 L444.73 420.11 L445.53 424.19 L446.32 428.34 L447.12 432.55 L447.91 436.82 L448.7 441.16 L449.5 445.56 L450.29 450.03 L451.09 454.56 L451.88 459.16 L452.67 463.83 L453.47 468.57 L454.26 473.37 L455.06 478.25 L455.85 483.2 L456.65 488.23 L457.44 493.33 L458.23 498.5 L459.03 503.75 L459.82 509.08 L460.62 514.49 L461.41 519.97 L462.2 525.54 L463 531.19 L463.79 536.92 L464.59 542.74 L465.38 548.64 L466.17 554.62 L466.97 560.7 L467.76 566.86 L468.56 573.12 L469.35 579.46 L470.14 585.9 L470.94 592.43 L471.73 599.05 L472.53 605.78 L473.32 612.6 L474.11 619.52 L474.91 626.54 L475.7 633.66 L476.5 640.89 L477.29 648.22 L478.09 655.65 L478.88 663.2 L479.67 670.85 L480.47 678.61 L481.26 686.49 L482.06 694.48 L482.85 702.59 L483.64 710.81 L484.44 719.15 L485.23 727.61 L486.03 736.19 L486.82 744.9 L487.61 753.73 L488.41 762.69 L489.2 771.77 L490 780.99 L490.79 790.34 L491.58 799.83 L492.38 809.44 L493.17 819.2 L493.97 829.1 L494.76 839.14 L495.55 849.32 L496.35 859.65 L497.14 870.12 L497.94 880.75 L498.73 891.52 L499.53 902.45 L500.32 913.54 L501.11 924.78 L501.91 936.19 L502.7 947.75 L503.5 959.49 L504.29 971.38 L505.08 983.45 L505.88 995.69 L506.67 1008.1 L507.47 1020.69 L508.26 1033.46 L509.05 1046.41 L509.85 1059.54 L510.64 1072.85 L511.44 1086.36 L512.23 1100.06 L513.02 1113.95 L513.82 1128.04 L514.61 1142.33 L515.41 1156.81 L516.2 1171.51 L516.99 1186.41 L517.79 1201.52 L518.58 1216.85 L519.38 1232.39 L520.17 1248.15 L520.97 1264.13 L521.76 1280.34 L522.55 1296.77 L523.35 1313.44 L524.14 1330.34 L524.94 1347.48 L525.73 1364.86 L526.52 1382.49 L527.32 1400.36 L528.11 1418.49 L528.91 1436.87 L529.7 1455.5" stroke="#9400d3" stroke-dasharray="4 3.6"/>
<path d="M54.05 48.4 L54.84 48.33 L55.64 48.26 L56.43 48.19 L57.23 48.12 L58.02 48.05 L58.81 47.98 L59.61 47.91 L60.4 47.83 L61.2 47.76 L61.99 47.69 L62.78 47.61 L63.58 47.53 L64.37 47.45 L65.17 47.37 L65.96 47.29 L66.76 47.21 L67.55 47.13 L68.34 47.05 L69.14 46.97 L69.93 46.88 L70.73 46.8 L71.52 46.71 L72.31 46.63 L73.11 46.54 L73.9 46.45 L74.7 46.36 L75.49 46.27 L76.28 46.18 L77.08 46.09 L77.87 46 L78.67 45.9 L79.46 45.81 L80.25 45.72 L81.05 45.62 L81.84 45.52 L82.64 45.43 L83.43 45.33 L84.22 45.23 L85.02 45.13 L85.81 45.03 L86.61 44.93 L87.4 44.83 L88.2 44.73 L88.99 44.63 L89.78 44.52 L90.58 44.42 L91.37 44.31 L92.17 44.21 L92.96 44.1 L93.75 44 L94.55 43.89 L95.34 43.78 L96.14 43.67 L96.93 43.56 L97.72 43.45 L98.52 43.34 L99.31 43.23 L100.11 43.12 L100.9 43.01 L101.69 42.89 L102.49 42.78 L103.28 42.66 L104.08 42.55 L104.87 42.43 L105.66 42.32 L106.46 42.2 L107.25 42.08 L108.05 41.97 L108.84 41.85 L109.64 41.73 L110.43 41.61 L111.22 41.49 L112.02 41.37 L112.81 41.25 L113.61 41.13 L114.4 41.01 L115.19 40.88 L115.99 40.76 L116.78 40.64 L117.58 40.51 L118.37 40.39 L119.16 40.26 L119.96 40.14 L120.75 40.01 L121.55 39.89 L122.34 39.76 L123.13 39.63 L123.93 39.51 L124.72 39.38 L125.52 39.25 L126.31 39.12 L127.1 38.99 L127.9 38.86 L128.69 38.73 L129.49 38.6 L130.28 38.47 L131.08 38.34 L131.87 38.21 L132.66 38.08 L133.46 37.95 L134.25 37.82 L135.05 37.69 L135.84 37.55 L136.63 37.42 L137.43 37.29 L138.22 37.15 L139.02 37.02 L139.81 36.89 L140.6 36.75 L141.4 36.62 L142.19 36.48 L142.99 36.35 L143.78 36.21 L144.57 36.08 L145.37 35.94 L146.16 35.81 L146.96 35.67 L147.75 35.54 L148.54 35.4 L149.34 35.26 L150.13 35.13 L150.93 34.99 L151.72 34.85 L152.52 34.72 L153.31 34.58 L154.1 34.44 L154.9 34.31 L155.69 34.17 L156.49 34.03 L157.28 33.89 L158.07 33.76 L158.87 33.62 L159.66 33.48 L160.46 33.34 L161.25 33.21 L162.04 33.07 L162.84 32.93 L163.63 32.79 L164.43 32.66 L165.22 32.52 L166.01 32.38 L166.81 32.24 L167.6 32.11 L168.4 31.97 L169.19 31.83 L169.98 31.7 L170.78 31.56 L171.57 31.42 L172.37 31.29 L173.16 31.15 L173.96 31.01 L174.75 30.88 L175.54 30.74 L176.34 30.61 L177.13 30.47 L177.93 30.33 L178.72 30.2 L179.51 30.06 L180.31 29.93 L181.1 29.8 L181.9 29.66 L182.69 29.53 L183.48 29.39 L184.28 29.26 L185.07 29.13 L185.87 28.99 L186.66 28.86 L187.45 28.73 L188.25 28.6 L189.04 28.47 L189.84 28.34 L190.63 28.21 L191.42 28.08 L192.22 27.95 L193.01 27.82 L193.81 27.69 L194.6 27.56 L195.4 27.43 L196.19 27.31 L196.98 27.18 L197.78 27.05 L198.57 26.93 L199.37 26.8 L200.16 26.68 L200.95 26.56 L201.75 26.43 L202.54 26.31 L203.34 26.19 L204.13 26.07 L204.92 25.95 L205.72 25.83 L206.51 25.71 L207.31 25.59 L208.1 25.47 L208.89 25.35 L209.69 25.24 L210.48 25.12 L211.28 25.01 L212.07 24.89 L212.86 24.78 L213.66 24.67 L214.45 24.56 L215.25 24.45 L216.04 24.34 L216.84 24.23 L217.63 24.12 L218.42 24.01 L219.22 23.91 L220.01 23.8 L220.81 23.7 L221.6 23.6 L222.39 23.5 L223.19 23.4 L223.98 23.3 L224.78 23.2 L225.57 23.1 L226.36 23 L227.16 22.91 L227.95 22.82 L228.75 22.72 L229.54 22.63 L230.33 22.54 L231.13 22.45 L231.92 22.37 L232.72 22.28 L233.51 22.2 L234.3 22.11 L235.1 22.03 L235.89 21.95 L236.69 21.87 L237.48 21.8 L238.28 21.72 L239.07 21.64 L239.86 21.57 L240.66 21.5 L241.45 21.43 L242.25 21.36 L243.04 21.3 L243.83 21.23 L244.63 21.17 L245.42 21.11 L246.22 21.05 L247.01 20.99 L247.8 20.93 L248.6 20.88 L249.39 20.83 L250.19 20.78 L250.98 20.73 L251.77 20.68 L252.57 20.64 L253.36 20.6 L254.16 20.56 L254.95 20.52 L255.74 20.48 L256.54 20.45 L257.33 20.42 L258.13 20.39 L258.92 20.36 L259.72 20.33 L260.51 20.31 L261.3 20.29 L262.1 20.27 L262.89 20.26 L263.69 20.24 L264.48 20.23 L265.27 20.23 L266.07 20.22 L266.86 20.22 L267.66 20.22 L268.45 20.22 L269.24 20.22 L270.04 20.23 L270.83 20.24 L271.63 20.26 L272.42 20.27 L273.21 20.29 L274.01 20.32 L274.8 20.34 L275.6 20.37 L276.39 20.4 L277.18 20.44 L277.98 20.47 L278.77 20.51 L279.57 20.56 L280.36 20.61 L281.16 20.66 L281.95 20.71 L282.74 20.77 L283.54 20.83 L284.33 20.9 L285.13 20.97 L285.92 21.04 L286.71 21.11 L287.51 21.19 L288.3 21.28 L289.1 21.36 L289.89 21.46 L290.68 21.55 L291.48 21.65 L292.27 21.76 L293.07 21.86 L293.86 21.98 L294.65 22.09 L295.45 22.21 L296.24 22.34 L297.04 22.47 L297.83 22.6 L298.62 22.74 L299.42 22.88 L300.21 23.03 L301.01 23.18 L301.8 23.34 L302.59 23.5 L303.39 23.67 L304.18 23.84 L304.98 24.02 L305.77 24.2 L306.57 24.39 L307.36 24.59 L308.15 24.78 L308.95 24.99 L309.74 25.2 L310.54 25.41 L311.33 25.64 L312.12 25.86 L312.92 26.1 L313.71 26.33 L314.51 26.58 L315.3 26.83 L316.09 27.09 L316.89 27.35 L317.68 27.62 L318.48 27.9 L319.27 28.18 L320.06 28.47 L320.86 28.77 L321.65 29.07 L322.45 29.38 L323.24 29.7 L324.03 30.02 L324.83 30.35 L325.62 30.69 L326.42 31.04 L327.21 31.39 L328.01 31.75 L328.8 32.12 L329.59 32.5 L330.39 32.88 L331.18 33.27 L331.98 33.67 L332.77 34.08 L333.56 34.5 L334.36 34.93 L335.15 35.36 L335.95 35.8 L336.74 36.26 L337.53 36.72 L338.33 37.19 L339.12 37.67 L339.92 38.15 L340.71 38.65 L341.5 39.16 L342.3 39.68 L343.09 40.21 L343.89 40.74 L344.68 41.29 L345.47 41.85 L346.27 42.42 L347.06 42.99 L347.86 43.58 L348.65 44.18 L349.45 44.79 L350.24 45.42 L351.03 46.05 L351.83 46.7 L352.62 47.35 L353.42 48.02 L354.21 48.7 L355 49.39 L355.8 50.1 L356.59 50.81 L357.39 51.54 L358.18 52.29 L358.97 53.04 L359.77 53.81 L360.56 54.59 L361.36 55.39 L362.15 56.2 L362.94 57.02 L363.74 57.86 L364.53 58.71 L365.33 59.57 L366.12 60.45 L366.91 61.35 L367.71 62.26 L368.5 63.18 L369.3 64.12 L370.09 65.08 L370.89 66.05 L371.68 67.04 L372.47 68.05 L373.27 69.07 L374.06 70.11 L374.86 71.16 L375.65 72.23 L376.44 73.32 L377.24 74.43 L378.03 75.56 L378.83 76.7 L379.62 77.86 L380.41 79.04 L381.21 80.24 L382 81.46 L382.8 82.7 L383.59 83.96 L384.38 85.24 L385.18 86.54 L385.97 87.86 L386.77 89.2 L387.56 90.56 L388.35 91.94 L389.15 93.35 L389.94 94.77 L390.74 96.22 L391.53 97.7 L392.33 99.19 L393.12 100.71 L393.91 102.25 L394.71 103.82 L395.5 105.41 L396.3 107.02 L397.09 108.66 L397.88 110.33 L398.68 112.02 L399.47 113.74 L400.27 115.48 L401.06 117.25 L401.85 119.05 L402.65 120.87 L403.44 122.73 L404.24 124.61 L405.03 126.52 L405.82 128.46 L406.62 130.42 L407.41 132.42 L408.21 134.45 L409 136.51 L409.79 138.6 L410.59 140.72 L411.38 142.88 L412.18 145.06 L412.97 147.28 L413.77 149.54 L414.56 151.82 L415.35 154.15 L416.15 156.5 L416.94 158.89 L417.74 161.32 L418.53 163.78 L419.32 166.28 L420.12 168.82 L420.91 171.4 L421.71 174.01 L422.5 176.66 L423.29 179.36 L424.09 182.09 L424.88 184.86 L425.68 187.67 L426.47 190.53 L427.26 193.43 L428.06 196.37 L428.85 199.35 L429.65 202.38 L430.44 205.45 L431.23 208.57 L432.03 211.74 L432.82 214.95 L433.62 218.2 L434.41 221.51 L435.21 224.86 L436 228.27 L436.79 231.72 L437.59 235.23 L438.38 238.78 L439.18 242.39 L439.97 246.05 L440.76 249.76 L441.56 253.53 L442.35 257.36 L443.15 261.23 L443.94 265.17 L444.73 269.16 L445.53 273.21 L446.32 277.33 L447.12 281.5 L447.91 285.73 L448.7 290.02 L449.5 294.37 L450.29 298.79 L451.09 303.27 L451.88 307.82 L452.67 312.44 L453.47 317.12 L454.26 321.86 L455.06 326.68 L455.85 331.57 L456.65 336.53 L457.44 341.55 L458.23 346.66 L459.03 351.83 L459.82 357.08 L460.62 362.41 L461.41 367.81 L462.2 373.3 L463 378.86 L463.79 384.5 L464.59 390.22 L465.38 396.02 L466.17 401.91 L466.97 407.89 L467.76 413.95 L468.56 420.09 L469.35 426.33 L470.14 432.65 L470.94 439.07 L471.73 445.58 L472.53 452.18 L473.32 458.88 L474.11 465.67 L474.91 472.56 L475.7 479.55 L476.5 486.64 L477.29 493.83 L478.09 501.13 L478.88 508.53 L479.67 516.03 L480.47 523.65 L481.26 531.37 L482.06 539.2 L482.85 547.15 L483.64 555.21 L484.44 563.38 L485.23 571.68 L486.03 580.09 L486.82 588.62 L487.61 597.27 L488.41 606.05 L489.2 614.95 L490 623.98 L490.79 633.14 L491.58 642.44 L492.38 651.86 L493.17 661.42 L493.97 671.11 L494.76 680.95 L495.55 690.92 L496.35 701.04 L497.14 711.3 L497.94 721.71 L498.73 732.27 L499.53 742.97 L500.32 753.84 L501.11 764.85 L501.91 776.02 L502.7 787.36 L503.5 798.85 L504.29 810.51 L505.08 822.34 L505.88 834.33 L506.67 846.5 L507.47 858.83 L508.26 871.35 L509.05 884.04 L509.85 896.92 L510.64 909.97 L511.44 923.22 L512.23 936.65 L513.02 950.28 L513.82 964.09 L514.61 978.11 L515.41 992.33 L516.2 1006.74 L516.99 1021.37 L517.79 1036.2 L518.58 1051.24 L519.38 1066.5 L520.17 1081.98 L520.97 1097.67 L521.76 1113.59 L522.55 1129.74 L523.35 1146.12 L524.14 1162.73 L524.94 1179.57 L525.73 1196.66 L526.52 1213.99 L527.32 1231.57 L528.11 1249.39 L528.91 1267.47 L529.7 1285.81" stroke="#9400d3"/>
</g>
<path d="M107.1 558.8 v-2.4 M107.1 13.3 v2.4 M138.13 558.8 v-2.4 M138.13 13.3 v2.4 M160.15 558.8 v-2.4 M160.15 13.3 v2.4 M177.23 558.8 v-2.4 M177.23 13.3 v2.4 M191.19 558.8 v-2.4 M191.19 13.3 v2.4 M202.98 558.8 v-2.4 M202.98 13.3 v2.4 M213.21 558.8 v-2.4 M213.21 13.3 v2.4 M222.22 558.8 v-2.4 M222.22 13.3 v2.4 M230.28 558.8 v-4.8 M230.28 13.3 v4.8 M283.34 558.8 v-2.4 M283.34 13.3 v2.4 M314.37 558.8 v-2.4 M314.37 13.3 v2.4 M336.39 558.8 v-2.4 M336.39 13.3 v2.4 M353.47 558.8 v-2.4 M353.47 13.3 v2.4 M367.42 558.8 v-2.4 M367.42 13.3 v2.4 M379.22 558.8 v-2.4 M379.22 13.3 v2.4 M389.44 558.8 v-2.4 M389.44 13.3 v2.4 M398.45 558.8 v-2.4 M398.45 13.3 v2.4 M406.52 558.8 v-4.8 M406.52 13.3 v4.8 M459.57 558.8 v-2.4 M459.57 13.3 v2.4 M490.6 558.8 v-2.4 M490.6 13.3 v2.4 M512.62 558.8 v-2.4 M512.62 13.3 v2.4 M54.05 558.8 h4.8 M529.7 558.8 h-4.8 M54.05 490.61 h4.8 M529.7 490.61 h-4.8 M54.05 422.43 h4.8 M529.7 422.43 h-4.8 M54.05 354.24 h4.8 M529.7 354.24 h-4.8 M54.05 286.05 h4.8 M529.7 286.05 h-4.8 M54.05 217.86 h4.8 M529.7 217.86 h-4.8 M54.05 149.68 h4.8 M529.7 149.68 h-4.8 M54.05 81.49 h4.8 M529.7 81.49 h-4.8 M54.05 13.3 h4.8 M529.7 13.3 h-4.8 M54.05 538.27 h2.4 M529.7 538.27 h-2.4 M54.05 526.27 h2.4 M529.7 526.27 h-2.4 M54.05 517.75 h2.4 M529.7 517.75 h-2.4 M54.05 511.14 h2.4 M529.7 511.14 h-2.4 M54.05 505.74 h2.4 M529.7 505.74 h-2.4 M54.05 501.17 h2.4 M529.7 501.17 h-2.4 M54.05 497.22 h2.4 M529.7 497.22 h-2.4 M54.05 493.73 h2.4 M529.7 493.73 h-2.4 M54.05 470.09 h2.4 M529.7 470.09 h-2.4 M54.05 458.08 h2.4 M529.7 458.08 h-2.4 M54.05 449.56 h2.4 M529.7 449.56 h-2.4 M54.05 442.95 h2.4 M529.7 442.95 h-2.4 M54.05 437.55 h2.4 M529.7 437.55 h-2.4 M54.05 432.99 h2.4 M529.7 432.99 h-2.4 M54.05 429.03 h2.4 M529.7 429.03 h-2.4 M54.05 425.55 h2.4 M529.7 425.55 h-2.4 M54.05 401.9 h2.4 M529.7 401.9 h-2.4 M54.05 389.89 h2.4 M529.7 389.89 h-2.4 M54.05 381.37 h2.4 M529.7 381.37 h-2.4 M54.05 374.76 h2.4 M529.7 374.76 h-2.4 M54.05 369.36 h2.4 M529.7 369.36 h-2.4 M54.05 364.8 h2.4 M529.7 364.8 h-2.4 M54.05 360.85 h2.4 M529.7 360.85 h-2.4 M54.05 357.36 h2.4 M529.7 357.36 h-2.4 M54.05 333.71 h2.4 M529.7 333.71 h-2.4 M54.05 321.7 h2.4 M529.7 321.7 h-2.4 M54.05 313.18 h2.4 M529.7 313.18 h-2.4 M54.05 306.58 h2.4 M529.7 306.58 h-2.4 M54.05 301.18 h2.4 M529.7 301.18 h-2.4 M54.05 296.61 h2.4 M529.7 296.61 h-2.4 M54.05 292.66 h2.4 M529.7 292.66 h-2.4 M54.05 289.17 h2.4 M529.7 289.17 h-2.4 M54.05 265.52 h2.4 M529.7 265.52 h-2.4 M54.05 253.52 h2.4 M529.7 253.52 h-2.4 M54.05 245 h2.4 M529.7 245 h-2.4 M54.05 238.39 h2.4 M529.7 238.39 h-2.4 M54.05 232.99 h2.4 M529.7 232.99 h-2.4 M54.05 228.42 h2.4 M529.7 228.42 h-2.4 M54.05 224.47 h2.4 M529.7 224.47 h-2.4 M54.05 220.98 h2.4 M529.7 220.98 h-2.4 M54.05 197.34 h2.4 M529.7 197.34 h-2.4 M54.05 185.33 h2.4 M529.7 185.33 h-2.4 M54.05 176.81 h2.4 M529.7 176.81 h-2.4 M54.05 170.2 h2.4 M529.7 170.2 h-2.4 M54.05 164.8 h2.4 M529.7 164.8 h-2.4 M54.05 160.24 h2.4 M529.7 160.24 h-2.4 M54.05 156.28 h2.4 M529.7 156.28 h-2.4 M54.05 152.8 h2.4 M529.7 152.8 h-2.4 M54.05 129.15 h2.4 M529.7 129.15 h-2.4 M54.05 117.14 h2.4 M529.7 117.14 h-2.4 M54.05 108.62 h2.4 M529.7 108.62 h-2.4 M54.05 102.01 h2.4 M529.7 102.01 h-2.4 M54.05 96.61 h2.4 M529.7 96.61 h-2.4 M54.05 92.05 h2.4 M529.7 92.05 h-2.4 M54.05 88.1 h2.4 M529.7 88.1 h-2.4 M54.05 84.61 h2.4 M529.7 84.61 h-2.4 M54.05 60.96 h2.4 M529.7 60.96 h-2.4 M54.05 48.95 h2.4 M529.7 48.95 h-2.4 M54.05 40.43 h2.4 M529.7 40.43 h-2.4 M54.05 33.83 h2.4 M529.7 33.83 h-2.4 M54.05 28.43 h2.4 M529.7 28.43 h-2.4 M54.05 23.86 h2.4 M529.7 23.86 h-2.4 M54.05 19.91 h2.4 M529.7 19.91 h-2.4 M54.05 16.42 h2.4 M529.7 16.42 h-2.4" stroke="#000" stroke-width="0.9" fill="none"/>
<rect x="54.05" y="13.3" width="475.65" height="545.5" fill="none" stroke="#000" stroke-width="0.85"/>
<text x="46.55" y="564.2" text-anchor="end" font-size="14.7">10<tspan dy="-5.4" font-size="11.7">-8</tspan></text>
<text x="46.55" y="496.01" text-anchor="end" font-size="14.7">10<tspan dy="-5.4" font-size="11.7">-7</tspan></text>
<text x="46.55" y="427.82" text-anchor="end" font-size="14.7">10<tspan dy="-5.4" font-size="11.7">-6</tspan></text>
<text x="46.55" y="359.64" text-anchor="end" font-size="14.7">10<tspan dy="-5.4" font-size="11.7">-5</tspan></text>
<text x="46.55" y="291.45" text-anchor="end" font-size="14.7">10<tspan dy="-5.4" font-size="11.7">-4</tspan></text>
<text x="46.55" y="223.26" text-anchor="end" font-size="14.7">10<tspan dy="-5.4" font-size="11.7">-3</tspan></text>
<text x="46.55" y="155.08" text-anchor="end" font-size="14.7">10<tspan dy="-5.4" font-size="11.7">-2</tspan></text>
<text x="46.55" y="86.89" text-anchor="end" font-size="14.7">10<tspan dy="-5.4" font-size="11.7">-1</tspan></text>
<text x="46.55" y="18.7" text-anchor="end" font-size="14.7">10<tspan dy="-5.4" font-size="11.7">0</tspan></text>
<text x="54.05" y="577.6" text-anchor="middle" font-size="14.7">10<tspan dy="-5.4" font-size="11.7">0</tspan></text>
<text x="230.28" y="577.6" text-anchor="middle" font-size="14.7">10<tspan dy="-5.4" font-size="11.7">1</tspan></text>
<text x="406.52" y="577.6" text-anchor="middle" font-size="14.7">10<tspan dy="-5.4" font-size="11.7">2</tspan></text>
<text x="291.88" y="599.2" text-anchor="middle" font-size="18.6">Time (days)</text>
<text transform="translate(18.75 286.05) rotate(-90)" text-anchor="middle" font-size="18.6">Flux Density (mJy)</text>
<text x="457.35" y="29.7" text-anchor="middle" font-size="13.0" textLength="127.9" lengthAdjust="spacingAndGlyphs">Cocoon (Synchrotron)</text>
<text x="405.1" y="42.9" text-anchor="middle" font-size="13.0">hom</text>
<text x="408.25" y="55.5" text-anchor="middle" font-size="13.0">wind</text>
<path d="M429 37.9 H463" stroke="#000" stroke-width="1.5"/>
<path d="M429 50.7 H463" stroke="#000" stroke-width="1.5" stroke-dasharray="4 3.6"/>
<text x="292" y="500.5" text-anchor="middle" font-size="18.4" fill="#9400d3">Radio @ 6 GHz</text>
<text x="292" y="522.15" text-anchor="middle" font-size="18.4" fill="#009e73">Optical @ 1 eV</text>
<text x="292" y="543.8" text-anchor="middle" font-size="18.4" fill="#56b4e9">X-ray @ 1 keV</text>
<clipPath id="clipTR"><rect x="619.5" y="13.3" width="468.7" height="545.5"/></clipPath>
<g clip-path="url(#clipTR)" fill="none" stroke-width="1.5" stroke-linejoin="round">
<path d="M619.5 425.81 L620.28 425.66 L621.06 425.5 L621.85 425.35 L622.63 425.2 L623.41 425.04 L624.19 424.89 L624.98 424.73 L625.76 424.58 L626.54 424.43 L627.32 424.27 L628.11 424.12 L628.89 423.97 L629.67 423.82 L630.45 423.66 L631.24 423.51 L632.02 423.36 L632.8 423.21 L633.58 423.05 L634.37 422.9 L635.15 422.75 L635.93 422.6 L636.71 422.45 L637.5 422.29 L638.28 422.14 L639.06 421.99 L639.84 421.84 L640.63 421.69 L641.41 421.54 L642.19 421.39 L642.97 421.24 L643.76 421.09 L644.54 420.94 L645.32 420.79 L646.1 420.64 L646.89 420.49 L647.67 420.34 L648.45 420.19 L649.23 420.04 L650.02 419.89 L650.8 419.74 L651.58 419.59 L652.36 419.44 L653.15 419.3 L653.93 419.15 L654.71 419 L655.49 418.85 L656.28 418.7 L657.06 418.56 L657.84 418.41 L658.62 418.26 L659.41 418.11 L660.19 417.97 L660.97 417.82 L661.75 417.67 L662.54 417.53 L663.32 417.38 L664.1 417.24 L664.88 417.09 L665.67 416.95 L666.45 416.8 L667.23 416.66 L668.01 416.51 L668.8 416.37 L669.58 416.22 L670.36 416.08 L671.14 415.93 L671.93 415.79 L672.71 415.65 L673.49 415.5 L674.27 415.36 L675.06 415.22 L675.84 415.07 L676.62 414.93 L677.4 414.79 L678.19 414.65 L678.97 414.51 L679.75 414.36 L680.53 414.22 L681.32 414.08 L682.1 413.94 L682.88 413.8 L683.66 413.66 L684.45 413.52 L685.23 413.38 L686.01 413.24 L686.79 413.1 L687.57 412.96 L688.36 412.83 L689.14 412.69 L689.92 412.55 L690.7 412.41 L691.49 412.27 L692.27 412.14 L693.05 412 L693.83 411.86 L694.62 411.73 L695.4 411.59 L696.18 411.45 L696.96 411.32 L697.75 411.18 L698.53 411.05 L699.31 410.91 L700.09 410.78 L700.88 410.64 L701.66 410.51 L702.44 410.38 L703.22 410.24 L704.01 410.11 L704.79 409.98 L705.57 409.85 L706.35 409.71 L707.14 409.58 L707.92 409.45 L708.7 409.32 L709.48 409.19 L710.27 409.06 L711.05 408.93 L711.83 408.8 L712.61 408.67 L713.4 408.54 L714.18 408.41 L714.96 408.28 L715.74 408.15 L716.53 408.03 L717.31 407.9 L718.09 407.77 L718.87 407.65 L719.66 407.52 L720.44 407.39 L721.22 407.27 L722 407.14 L722.79 407.02 L723.57 406.89 L724.35 406.77 L725.13 406.65 L725.92 406.52 L726.7 406.4 L727.48 406.28 L728.26 406.16 L729.05 406.03 L729.83 405.91 L730.61 405.79 L731.39 405.67 L732.18 405.55 L732.96 405.43 L733.74 405.31 L734.52 405.19 L735.31 405.07 L736.09 404.96 L736.87 404.84 L737.65 404.72 L738.44 404.6 L739.22 404.49 L740 404.37 L740.78 404.26 L741.57 404.14 L742.35 404.03 L743.13 403.91 L743.91 403.8 L744.7 403.69 L745.48 403.57 L746.26 403.46 L747.04 403.35 L747.83 403.24 L748.61 403.13 L749.39 403.02 L750.17 402.91 L750.96 402.8 L751.74 402.69 L752.52 402.58 L753.3 402.47 L754.08 402.36 L754.87 402.26 L755.65 402.15 L756.43 402.04 L757.21 401.94 L758 401.83 L758.78 401.73 L759.56 401.63 L760.34 401.52 L761.13 401.42 L761.91 401.32 L762.69 401.22 L763.47 401.11 L764.26 401.01 L765.04 400.91 L765.82 400.81 L766.6 400.72 L767.39 400.62 L768.17 400.52 L768.95 400.42 L769.73 400.33 L770.52 400.23 L771.3 400.13 L772.08 400.04 L772.86 399.95 L773.65 399.85 L774.43 399.76 L775.21 399.67 L775.99 399.57 L776.78 399.48 L777.56 399.39 L778.34 399.3 L779.12 399.21 L779.91 399.13 L780.69 399.04 L781.47 398.95 L782.25 398.86 L783.04 398.78 L783.82 398.69 L784.6 398.61 L785.38 398.53 L786.17 398.44 L786.95 398.36 L787.73 398.28 L788.51 398.2 L789.3 398.12 L790.08 398.04 L790.86 397.96 L791.64 397.88 L792.43 397.8 L793.21 397.73 L793.99 397.65 L794.77 397.58 L795.56 397.5 L796.34 397.43 L797.12 397.36 L797.9 397.28 L798.69 397.21 L799.47 397.14 L800.25 397.07 L801.03 397 L801.82 396.94 L802.6 396.87 L803.38 396.8 L804.16 396.74 L804.95 396.67 L805.73 396.61 L806.51 396.55 L807.29 396.49 L808.08 396.43 L808.86 396.37 L809.64 396.31 L810.42 396.25 L811.21 396.19 L811.99 396.13 L812.77 396.08 L813.55 396.02 L814.34 395.97 L815.12 395.92 L815.9 395.87 L816.68 395.82 L817.47 395.77 L818.25 395.72 L819.03 395.67 L819.81 395.62 L820.59 395.58 L821.38 395.53 L822.16 395.49 L822.94 395.45 L823.72 395.41 L824.51 395.37 L825.29 395.33 L826.07 395.29 L826.85 395.25 L827.64 395.22 L828.42 395.18 L829.2 395.15 L829.98 395.12 L830.77 395.09 L831.55 395.06 L832.33 395.03 L833.11 395 L833.9 394.97 L834.68 394.95 L835.46 394.93 L836.24 394.9 L837.03 394.88 L837.81 394.86 L838.59 394.84 L839.37 394.83 L840.16 394.81 L840.94 394.8 L841.72 394.78 L842.5 394.77 L843.29 394.76 L844.07 394.75 L844.85 394.74 L845.63 394.74 L846.42 394.73 L847.2 394.73 L847.98 394.72 L848.76 394.72 L849.55 394.73 L850.33 394.73 L851.11 394.73 L851.89 394.74 L852.68 394.74 L853.46 394.75 L854.24 394.76 L855.02 394.77 L855.81 394.79 L856.59 394.8 L857.37 394.82 L858.15 394.84 L858.94 394.86 L859.72 394.88 L860.5 394.9 L861.28 394.93 L862.07 394.96 L862.85 394.99 L863.63 395.02 L864.41 395.05 L865.2 395.08 L865.98 395.12 L866.76 395.16 L867.54 395.2 L868.33 395.24 L869.11 395.28 L869.89 395.33 L870.67 395.38 L871.46 395.43 L872.24 395.48 L873.02 395.53 L873.8 395.59 L874.59 395.65 L875.37 395.71 L876.15 395.77 L876.93 395.84 L877.72 395.91 L878.5 395.97 L879.28 396.05 L880.06 396.12 L880.85 396.2 L881.63 396.28 L882.41 396.36 L883.19 396.44 L883.98 396.53 L884.76 396.61 L885.54 396.71 L886.32 396.8 L887.11 396.89 L887.89 396.99 L888.67 397.09 L889.45 397.2 L890.23 397.31 L891.02 397.41 L891.8 397.53 L892.58 397.64 L893.36 397.76 L894.15 397.88 L894.93 398 L895.71 398.13 L896.49 398.26 L897.28 398.39 L898.06 398.53 L898.84 398.66 L899.62 398.81 L900.41 398.95 L901.19 399.1 L901.97 399.25 L902.75 399.4 L903.54 399.56 L904.32 399.72 L905.1 399.89 L905.88 400.05 L906.67 400.22 L907.45 400.4 L908.23 400.58 L909.01 400.76 L909.8 400.94 L910.58 401.13 L911.36 401.33 L912.14 401.52 L912.93 401.72 L913.71 401.93 L914.49 402.13 L915.27 402.35 L916.06 402.56 L916.84 402.78 L917.62 403.01 L918.4 403.24 L919.19 403.47 L919.97 403.71 L920.75 403.95 L921.53 404.19 L922.32 404.44 L923.1 404.7 L923.88 404.96 L924.66 405.22 L925.45 405.49 L926.23 405.76 L927.01 406.04 L927.79 406.32 L928.58 406.61 L929.36 406.9 L930.14 407.2 L930.92 407.5 L931.71 407.81 L932.49 408.13 L933.27 408.44 L934.05 408.77 L934.84 409.1 L935.62 409.43 L936.4 409.77 L937.18 410.12 L937.97 410.47 L938.75 410.83 L939.53 411.2 L940.31 411.56 L941.1 411.94 L941.88 412.32 L942.66 412.71 L943.44 413.11 L944.23 413.51 L945.01 413.91 L945.79 414.33 L946.57 414.75 L947.36 415.18 L948.14 415.61 L948.92 416.05 L949.7 416.5 L950.49 416.96 L951.27 417.42 L952.05 417.89 L952.83 418.37 L953.62 418.85 L954.4 419.34 L955.18 419.84 L955.96 420.35 L956.74 420.87 L957.53 421.39 L958.31 421.92 L959.09 422.46 L959.87 423.01 L960.66 423.57 L961.44 424.13 L962.22 424.71 L963 425.29 L963.79 425.88 L964.57 426.48 L965.35 427.09 L966.13 427.71 L966.92 428.34 L967.7 428.98 L968.48 429.63 L969.26 430.29 L970.05 430.95 L970.83 431.63 L971.61 432.32 L972.39 433.02 L973.18 433.73 L973.96 434.45 L974.74 435.18 L975.52 435.92 L976.31 436.67 L977.09 437.43 L977.87 438.21 L978.65 439 L979.44 439.79 L980.22 440.6 L981 441.43 L981.78 442.26 L982.57 443.11 L983.35 443.97 L984.13 444.84 L984.91 445.72 L985.7 446.62 L986.48 447.53 L987.26 448.46 L988.04 449.4 L988.83 450.35 L989.61 451.32 L990.39 452.3 L991.17 453.29 L991.96 454.3 L992.74 455.32 L993.52 456.36 L994.3 457.42 L995.09 458.49 L995.87 459.57 L996.65 460.67 L997.43 461.79 L998.22 462.93 L999 464.08 L999.78 465.24 L1000.56 466.43 L1001.35 467.63 L1002.13 468.85 L1002.91 470.08 L1003.69 471.34 L1004.48 472.61 L1005.26 473.9 L1006.04 475.21 L1006.82 476.54 L1007.61 477.89 L1008.39 479.26 L1009.17 480.65 L1009.95 482.05 L1010.74 483.48 L1011.52 484.93 L1012.3 486.4 L1013.08 487.89 L1013.87 489.4 L1014.65 490.94 L1015.43 492.5 L1016.21 494.08 L1017 495.68 L1017.78 497.3 L1018.56 498.95 L1019.34 500.62 L1020.13 502.32 L1020.91 504.04 L1021.69 505.79 L1022.47 507.56 L1023.25 509.35 L1024.04 511.18 L1024.82 513.03 L1025.6 514.9 L1026.38 516.8 L1027.17 518.73 L1027.95 520.69 L1028.73 522.68 L1029.51 524.69 L1030.3 526.74 L1031.08 528.81 L1031.86 530.91 L1032.64 533.04 L1033.43 535.21 L1034.21 537.4 L1034.99 539.63 L1035.77 541.89 L1036.56 544.18 L1037.34 546.5 L1038.12 548.86 L1038.9 551.25 L1039.69 553.67 L1040.47 556.13 L1041.25 558.63 L1042.03 561.16 L1042.82 563.73 L1043.6 566.33 L1044.38 568.97 L1045.16 571.65 L1045.95 574.37 L1046.73 577.13 L1047.51 579.93 L1048.29 582.76 L1049.08 585.64 L1049.86 588.56 L1050.64 591.52 L1051.42 594.53 L1052.21 597.57 L1052.99 600.66 L1053.77 603.8 L1054.55 606.98 L1055.34 610.21 L1056.12 613.48 L1056.9 616.8 L1057.68 620.16 L1058.47 623.58 L1059.25 627.04 L1060.03 630.56 L1060.81 634.12 L1061.6 637.74 L1062.38 641.4 L1063.16 645.12 L1063.94 648.9 L1064.73 652.72 L1065.51 656.61 L1066.29 660.55 L1067.07 664.54 L1067.86 668.59 L1068.64 672.7 L1069.42 676.87 L1070.2 681.1 L1070.99 685.39 L1071.77 689.74 L1072.55 694.16 L1073.33 698.64 L1074.12 703.18 L1074.9 707.79 L1075.68 712.46 L1076.46 717.2 L1077.25 722.01 L1078.03 726.89 L1078.81 731.84 L1079.59 736.86 L1080.38 741.95 L1081.16 747.11 L1081.94 752.35 L1082.72 757.67 L1083.51 763.06 L1084.29 768.53 L1085.07 774.07 L1085.85 779.7 L1086.64 785.41 L1087.42 791.2 L1088.2 797.07" stroke="#56b4e9"/>
<path d="M619.5 354.7 L620.28 354.55 L621.06 354.4 L621.85 354.25 L622.63 354.1 L623.41 353.95 L624.19 353.8 L624.98 353.65 L625.76 353.5 L626.54 353.35 L627.32 353.2 L628.11 353.05 L628.89 352.9 L629.67 352.75 L630.45 352.6 L631.24 352.45 L632.02 352.3 L632.8 352.15 L633.58 352 L634.37 351.85 L635.15 351.7 L635.93 351.55 L636.71 351.4 L637.5 351.25 L638.28 351.1 L639.06 350.95 L639.84 350.8 L640.63 350.66 L641.41 350.51 L642.19 350.36 L642.97 350.21 L643.76 350.06 L644.54 349.91 L645.32 349.76 L646.1 349.62 L646.89 349.47 L647.67 349.32 L648.45 349.17 L649.23 349.03 L650.02 348.88 L650.8 348.73 L651.58 348.58 L652.36 348.44 L653.15 348.29 L653.93 348.14 L654.71 348 L655.49 347.85 L656.28 347.7 L657.06 347.56 L657.84 347.41 L658.62 347.26 L659.41 347.12 L660.19 346.97 L660.97 346.83 L661.75 346.68 L662.54 346.54 L663.32 346.39 L664.1 346.25 L664.88 346.1 L665.67 345.96 L666.45 345.81 L667.23 345.67 L668.01 345.52 L668.8 345.38 L669.58 345.24 L670.36 345.09 L671.14 344.95 L671.93 344.81 L672.71 344.66 L673.49 344.52 L674.27 344.38 L675.06 344.24 L675.84 344.09 L676.62 343.95 L677.4 343.81 L678.19 343.67 L678.97 343.53 L679.75 343.39 L680.53 343.25 L681.32 343.1 L682.1 342.96 L682.88 342.82 L683.66 342.68 L684.45 342.54 L685.23 342.4 L686.01 342.26 L686.79 342.13 L687.57 341.99 L688.36 341.85 L689.14 341.71 L689.92 341.57 L690.7 341.43 L691.49 341.3 L692.27 341.16 L693.05 341.02 L693.83 340.88 L694.62 340.75 L695.4 340.61 L696.18 340.47 L696.96 340.34 L697.75 340.2 L698.53 340.07 L699.31 339.93 L700.09 339.8 L700.88 339.66 L701.66 339.53 L702.44 339.4 L703.22 339.26 L704.01 339.13 L704.79 338.99 L705.57 338.86 L706.35 338.73 L707.14 338.6 L707.92 338.47 L708.7 338.33 L709.48 338.2 L710.27 338.07 L711.05 337.94 L711.83 337.81 L712.61 337.68 L713.4 337.55 L714.18 337.42 L714.96 337.29 L715.74 337.16 L716.53 337.04 L717.31 336.91 L718.09 336.78 L718.87 336.65 L719.66 336.53 L720.44 336.4 L721.22 336.27 L722 336.15 L722.79 336.02 L723.57 335.9 L724.35 335.77 L725.13 335.65 L725.92 335.52 L726.7 335.4 L727.48 335.28 L728.26 335.15 L729.05 335.03 L729.83 334.91 L730.61 334.79 L731.39 334.67 L732.18 334.54 L732.96 334.42 L733.74 334.3 L734.52 334.18 L735.31 334.06 L736.09 333.95 L736.87 333.83 L737.65 333.71 L738.44 333.59 L739.22 333.47 L740 333.36 L740.78 333.24 L741.57 333.12 L742.35 333.01 L743.13 332.89 L743.91 332.78 L744.7 332.67 L745.48 332.55 L746.26 332.44 L747.04 332.33 L747.83 332.21 L748.61 332.1 L749.39 331.99 L750.17 331.88 L750.96 331.77 L751.74 331.66 L752.52 331.55 L753.3 331.44 L754.08 331.33 L754.87 331.22 L755.65 331.12 L756.43 331.01 L757.21 330.9 L758 330.8 L758.78 330.69 L759.56 330.59 L760.34 330.48 L761.13 330.38 L761.91 330.28 L762.69 330.17 L763.47 330.07 L764.26 329.97 L765.04 329.87 L765.82 329.77 L766.6 329.67 L767.39 329.57 L768.17 329.47 L768.95 329.37 L769.73 329.28 L770.52 329.18 L771.3 329.08 L772.08 328.99 L772.86 328.89 L773.65 328.8 L774.43 328.7 L775.21 328.61 L775.99 328.52 L776.78 328.43 L777.56 328.33 L778.34 328.24 L779.12 328.15 L779.91 328.06 L780.69 327.97 L781.47 327.89 L782.25 327.8 L783.04 327.71 L783.82 327.63 L784.6 327.54 L785.38 327.46 L786.17 327.37 L786.95 327.29 L787.73 327.21 L788.51 327.12 L789.3 327.04 L790.08 326.96 L790.86 326.88 L791.64 326.8 L792.43 326.72 L793.21 326.65 L793.99 326.57 L794.77 326.49 L795.56 326.42 L796.34 326.34 L797.12 326.27 L797.9 326.2 L798.69 326.13 L799.47 326.05 L800.25 325.98 L801.03 325.91 L801.82 325.84 L802.6 325.78 L803.38 325.71 L804.16 325.64 L804.95 325.58 L805.73 325.51 L806.51 325.45 L807.29 325.39 L808.08 325.32 L808.86 325.26 L809.64 325.2 L810.42 325.14 L811.21 325.08 L811.99 325.03 L812.77 324.97 L813.55 324.91 L814.34 324.86 L815.12 324.81 L815.9 324.75 L816.68 324.7 L817.47 324.65 L818.25 324.6 L819.03 324.55 L819.81 324.5 L820.59 324.46 L821.38 324.41 L822.16 324.37 L822.94 324.32 L823.72 324.28 L824.51 324.24 L825.29 324.2 L826.07 324.16 L826.85 324.12 L827.64 324.08 L828.42 324.05 L829.2 324.01 L829.98 323.98 L830.77 323.94 L831.55 323.91 L832.33 323.88 L833.11 323.85 L833.9 323.83 L834.68 323.8 L835.46 323.77 L836.24 323.75 L837.03 323.73 L837.81 323.7 L838.59 323.68 L839.37 323.66 L840.16 323.65 L840.94 323.63 L841.72 323.61 L842.5 323.6 L843.29 323.59 L844.07 323.57 L844.85 323.56 L845.63 323.56 L846.42 323.55 L847.2 323.54 L847.98 323.54 L848.76 323.53 L849.55 323.53 L850.33 323.53 L851.11 323.53 L851.89 323.54 L852.68 323.54 L853.46 323.55 L854.24 323.56 L855.02 323.56 L855.81 323.57 L856.59 323.59 L857.37 323.6 L858.15 323.62 L858.94 323.63 L859.72 323.65 L860.5 323.67 L861.28 323.7 L862.07 323.72 L862.85 323.74 L863.63 323.77 L864.41 323.8 L865.2 323.83 L865.98 323.86 L866.76 323.9 L867.54 323.94 L868.33 323.97 L869.11 324.01 L869.89 324.06 L870.67 324.1 L871.46 324.15 L872.24 324.2 L873.02 324.25 L873.8 324.3 L874.59 324.35 L875.37 324.41 L876.15 324.47 L876.93 324.53 L877.72 324.59 L878.5 324.65 L879.28 324.72 L880.06 324.79 L880.85 324.86 L881.63 324.94 L882.41 325.01 L883.19 325.09 L883.98 325.17 L884.76 325.25 L885.54 325.34 L886.32 325.43 L887.11 325.52 L887.89 325.61 L888.67 325.71 L889.45 325.81 L890.23 325.91 L891.02 326.01 L891.8 326.12 L892.58 326.22 L893.36 326.34 L894.15 326.45 L894.93 326.57 L895.71 326.69 L896.49 326.81 L897.28 326.93 L898.06 327.06 L898.84 327.19 L899.62 327.33 L900.41 327.47 L901.19 327.61 L901.97 327.75 L902.75 327.9 L903.54 328.05 L904.32 328.2 L905.1 328.36 L905.88 328.52 L906.67 328.68 L907.45 328.85 L908.23 329.02 L909.01 329.19 L909.8 329.37 L910.58 329.55 L911.36 329.73 L912.14 329.92 L912.93 330.11 L913.71 330.31 L914.49 330.5 L915.27 330.71 L916.06 330.91 L916.84 331.12 L917.62 331.34 L918.4 331.56 L919.19 331.78 L919.97 332.01 L920.75 332.24 L921.53 332.48 L922.32 332.72 L923.1 332.96 L923.88 333.21 L924.66 333.46 L925.45 333.72 L926.23 333.98 L927.01 334.25 L927.79 334.52 L928.58 334.8 L929.36 335.08 L930.14 335.37 L930.92 335.66 L931.71 335.95 L932.49 336.26 L933.27 336.56 L934.05 336.88 L934.84 337.19 L935.62 337.52 L936.4 337.84 L937.18 338.18 L937.97 338.52 L938.75 338.86 L939.53 339.22 L940.31 339.57 L941.1 339.94 L941.88 340.3 L942.66 340.68 L943.44 341.06 L944.23 341.45 L945.01 341.84 L945.79 342.24 L946.57 342.65 L947.36 343.07 L948.14 343.49 L948.92 343.91 L949.7 344.35 L950.49 344.79 L951.27 345.24 L952.05 345.69 L952.83 346.16 L953.62 346.63 L954.4 347.1 L955.18 347.59 L955.96 348.08 L956.74 348.59 L957.53 349.09 L958.31 349.61 L959.09 350.14 L959.87 350.67 L960.66 351.21 L961.44 351.76 L962.22 352.32 L963 352.89 L963.79 353.47 L964.57 354.06 L965.35 354.65 L966.13 355.26 L966.92 355.87 L967.7 356.49 L968.48 357.13 L969.26 357.77 L970.05 358.42 L970.83 359.09 L971.61 359.76 L972.39 360.44 L973.18 361.14 L973.96 361.84 L974.74 362.56 L975.52 363.29 L976.31 364.03 L977.09 364.77 L977.87 365.54 L978.65 366.31 L979.44 367.09 L980.22 367.89 L981 368.7 L981.78 369.52 L982.57 370.35 L983.35 371.2 L984.13 372.06 L984.91 372.93 L985.7 373.82 L986.48 374.72 L987.26 375.63 L988.04 376.56 L988.83 377.5 L989.61 378.46 L990.39 379.42 L991.17 380.41 L991.96 381.41 L992.74 382.42 L993.52 383.45 L994.3 384.5 L995.09 385.56 L995.87 386.64 L996.65 387.73 L997.43 388.84 L998.22 389.97 L999 391.11 L999.78 392.28 L1000.56 393.46 L1001.35 394.65 L1002.13 395.87 L1002.91 397.1 L1003.69 398.35 L1004.48 399.62 L1005.26 400.91 L1006.04 402.22 L1006.82 403.55 L1007.61 404.9 L1008.39 406.27 L1009.17 407.66 L1009.95 409.07 L1010.74 410.5 L1011.52 411.96 L1012.3 413.43 L1013.08 414.93 L1013.87 416.45 L1014.65 418 L1015.43 419.56 L1016.21 421.15 L1017 422.77 L1017.78 424.41 L1018.56 426.07 L1019.34 427.76 L1020.13 429.47 L1020.91 431.21 L1021.69 432.97 L1022.47 434.77 L1023.25 436.59 L1024.04 438.43 L1024.82 440.31 L1025.6 442.21 L1026.38 444.14 L1027.17 446.1 L1027.95 448.09 L1028.73 450.11 L1029.51 452.16 L1030.3 454.24 L1031.08 456.35 L1031.86 458.49 L1032.64 460.67 L1033.43 462.88 L1034.21 465.12 L1034.99 467.4 L1035.77 469.71 L1036.56 472.05 L1037.34 474.43 L1038.12 476.85 L1038.9 479.3 L1039.69 481.79 L1040.47 484.31 L1041.25 486.88 L1042.03 489.48 L1042.82 492.12 L1043.6 494.81 L1044.38 497.53 L1045.16 500.29 L1045.95 503.1 L1046.73 505.95 L1047.51 508.84 L1048.29 511.77 L1049.08 514.75 L1049.86 517.77 L1050.64 520.84 L1051.42 523.96 L1052.21 527.12 L1052.99 530.33 L1053.77 533.59 L1054.55 536.89 L1055.34 540.25 L1056.12 543.66 L1056.9 547.12 L1057.68 550.63 L1058.47 554.2 L1059.25 557.82 L1060.03 561.49 L1060.81 565.22 L1061.6 569 L1062.38 572.85 L1063.16 576.75 L1063.94 580.71 L1064.73 584.73 L1065.51 588.81 L1066.29 592.95 L1067.07 597.15 L1067.86 601.42 L1068.64 605.75 L1069.42 610.15 L1070.2 614.62 L1070.99 619.15 L1071.77 623.75 L1072.55 628.43 L1073.33 633.17 L1074.12 637.98 L1074.9 642.87 L1075.68 647.83 L1076.46 652.87 L1077.25 657.98 L1078.03 663.17 L1078.81 668.44 L1079.59 673.79 L1080.38 679.22 L1081.16 684.73 L1081.94 690.33 L1082.72 696.01 L1083.51 701.78 L1084.29 707.63 L1085.07 713.58 L1085.85 719.61 L1086.64 725.74 L1087.42 731.96 L1088.2 738.27" stroke="#009e73"/>
<path d="M619.5 135.58 L620.28 135.61 L621.06 135.65 L621.85 135.68 L622.63 135.71 L623.41 135.75 L624.19 135.78 L624.98 135.81 L625.76 135.84 L626.54 135.87 L627.32 135.9 L628.11 135.93 L628.89 135.96 L629.67 135.99 L630.45 136.02 L631.24 136.05 L632.02 136.08 L632.8 136.11 L633.58 136.14 L634.37 136.16 L635.15 136.19 L635.93 136.22 L636.71 136.25 L637.5 136.27 L638.28 136.3 L639.06 136.33 L639.84 136.35 L640.63 136.38 L641.41 136.4 L642.19 136.43 L642.97 136.46 L643.76 136.48 L644.54 136.51 L645.32 136.53 L646.1 136.56 L646.89 136.58 L647.67 136.6 L648.45 136.63 L649.23 136.65 L650.02 136.68 L650.8 136.7 L651.58 136.72 L652.36 136.75 L653.15 136.77 L653.93 136.79 L654.71 136.82 L655.49 136.84 L656.28 136.86 L657.06 136.89 L657.84 136.91 L658.62 136.93 L659.41 136.95 L660.19 136.98 L660.97 137 L661.75 137.02 L662.54 137.04 L663.32 137.07 L664.1 137.09 L664.88 137.11 L665.67 137.13 L666.45 137.16 L667.23 137.18 L668.01 137.2 L668.8 137.22 L669.58 137.25 L670.36 137.27 L671.14 137.29 L671.93 137.31 L672.71 137.33 L673.49 137.36 L674.27 137.38 L675.06 137.4 L675.84 137.43 L676.62 137.45 L677.4 137.47 L678.19 137.49 L678.97 137.52 L679.75 137.54 L680.53 137.56 L681.32 137.59 L682.1 137.61 L682.88 137.63 L683.66 137.66 L684.45 137.68 L685.23 137.71 L686.01 137.73 L686.79 137.75 L687.57 137.78 L688.36 137.8 L689.14 137.83 L689.92 137.85 L690.7 137.88 L691.49 137.9 L692.27 137.93 L693.05 137.96 L693.83 137.98 L694.62 138.01 L695.4 138.04 L696.18 138.06 L696.96 138.09 L697.75 138.12 L698.53 138.15 L699.31 138.17 L700.09 138.2 L700.88 138.23 L701.66 138.26 L702.44 138.29 L703.22 138.32 L704.01 138.35 L704.79 138.38 L705.57 138.41 L706.35 138.44 L707.14 138.47 L707.92 138.5 L708.7 138.53 L709.48 138.56 L710.27 138.6 L711.05 138.63 L711.83 138.66 L712.61 138.7 L713.4 138.73 L714.18 138.77 L714.96 138.8 L715.74 138.84 L716.53 138.87 L717.31 138.91 L718.09 138.94 L718.87 138.98 L719.66 139.02 L720.44 139.06 L721.22 139.1 L722 139.13 L722.79 139.17 L723.57 139.21 L724.35 139.25 L725.13 139.3 L725.92 139.34 L726.7 139.38 L727.48 139.42 L728.26 139.47 L729.05 139.51 L729.83 139.55 L730.61 139.6 L731.39 139.64 L732.18 139.69 L732.96 139.74 L733.74 139.78 L734.52 139.83 L735.31 139.88 L736.09 139.93 L736.87 139.98 L737.65 140.03 L738.44 140.08 L739.22 140.13 L740 140.18 L740.78 140.24 L741.57 140.29 L742.35 140.34 L743.13 140.4 L743.91 140.46 L744.7 140.51 L745.48 140.57 L746.26 140.63 L747.04 140.69 L747.83 140.75 L748.61 140.81 L749.39 140.87 L750.17 140.93 L750.96 140.99 L751.74 141.05 L752.52 141.12 L753.3 141.18 L754.08 141.25 L754.87 141.32 L755.65 141.38 L756.43 141.45 L757.21 141.52 L758 141.59 L758.78 141.66 L759.56 141.73 L760.34 141.81 L761.13 141.88 L761.91 141.95 L762.69 142.03 L763.47 142.11 L764.26 142.18 L765.04 142.26 L765.82 142.34 L766.6 142.42 L767.39 142.5 L768.17 142.58 L768.95 142.67 L769.73 142.75 L770.52 142.84 L771.3 142.92 L772.08 143.01 L772.86 143.1 L773.65 143.19 L774.43 143.28 L775.21 143.37 L775.99 143.46 L776.78 143.56 L777.56 143.65 L778.34 143.75 L779.12 143.85 L779.91 143.94 L780.69 144.04 L781.47 144.14 L782.25 144.25 L783.04 144.35 L783.82 144.45 L784.6 144.56 L785.38 144.67 L786.17 144.77 L786.95 144.88 L787.73 144.99 L788.51 145.11 L789.3 145.22 L790.08 145.33 L790.86 145.45 L791.64 145.57 L792.43 145.68 L793.21 145.8 L793.99 145.92 L794.77 146.05 L795.56 146.17 L796.34 146.3 L797.12 146.42 L797.9 146.55 L798.69 146.68 L799.47 146.81 L800.25 146.94 L801.03 147.08 L801.82 147.21 L802.6 147.35 L803.38 147.49 L804.16 147.63 L804.95 147.77 L805.73 147.92 L806.51 148.06 L807.29 148.21 L808.08 148.35 L808.86 148.5 L809.64 148.66 L810.42 148.81 L811.21 148.96 L811.99 149.12 L812.77 149.28 L813.55 149.44 L814.34 149.6 L815.12 149.76 L815.9 149.93 L816.68 150.1 L817.47 150.26 L818.25 150.44 L819.03 150.61 L819.81 150.78 L820.59 150.96 L821.38 151.14 L822.16 151.32 L822.94 151.5 L823.72 151.68 L824.51 151.87 L825.29 152.06 L826.07 152.25 L826.85 152.44 L827.64 152.63 L828.42 152.83 L829.2 153.03 L829.98 153.23 L830.77 153.43 L831.55 153.63 L832.33 153.84 L833.11 154.05 L833.9 154.26 L834.68 154.47 L835.46 154.69 L836.24 154.91 L837.03 155.13 L837.81 155.35 L838.59 155.58 L839.37 155.8 L840.16 156.03 L840.94 156.27 L841.72 156.5 L842.5 156.74 L843.29 156.98 L844.07 157.22 L844.85 157.46 L845.63 157.71 L846.42 157.96 L847.2 158.21 L847.98 158.47 L848.76 158.73 L849.55 158.99 L850.33 159.25 L851.11 159.52 L851.89 159.78 L852.68 160.06 L853.46 160.33 L854.24 160.61 L855.02 160.89 L855.81 161.17 L856.59 161.46 L857.37 161.75 L858.15 162.04 L858.94 162.33 L859.72 162.63 L860.5 162.93 L861.28 163.24 L862.07 163.55 L862.85 163.86 L863.63 164.17 L864.41 164.49 L865.2 164.81 L865.98 165.13 L866.76 165.46 L867.54 165.79 L868.33 166.13 L869.11 166.46 L869.89 166.81 L870.67 167.15 L871.46 167.5 L872.24 167.85 L873.02 168.21 L873.8 168.57 L874.59 168.93 L875.37 169.3 L876.15 169.67 L876.93 170.04 L877.72 170.42 L878.5 170.81 L879.28 171.19 L880.06 171.59 L880.85 171.98 L881.63 172.38 L882.41 172.78 L883.19 173.19 L883.98 173.6 L884.76 174.02 L885.54 174.44 L886.32 174.87 L887.11 175.3 L887.89 175.73 L888.67 176.17 L889.45 176.62 L890.23 177.07 L891.02 177.52 L891.8 177.98 L892.58 178.44 L893.36 178.91 L894.15 179.38 L894.93 179.86 L895.71 180.35 L896.49 180.83 L897.28 181.33 L898.06 181.83 L898.84 182.33 L899.62 182.84 L900.41 183.36 L901.19 183.88 L901.97 184.41 L902.75 184.94 L903.54 185.48 L904.32 186.02 L905.1 186.57 L905.88 187.13 L906.67 187.69 L907.45 188.26 L908.23 188.84 L909.01 189.42 L909.8 190 L910.58 190.6 L911.36 191.2 L912.14 191.81 L912.93 192.42 L913.71 193.04 L914.49 193.67 L915.27 194.3 L916.06 194.94 L916.84 195.59 L917.62 196.25 L918.4 196.91 L919.19 197.58 L919.97 198.26 L920.75 198.95 L921.53 199.64 L922.32 200.34 L923.1 201.05 L923.88 201.77 L924.66 202.49 L925.45 203.23 L926.23 203.97 L927.01 204.72 L927.79 205.48 L928.58 206.24 L929.36 207.02 L930.14 207.81 L930.92 208.6 L931.71 209.4 L932.49 210.21 L933.27 211.04 L934.05 211.87 L934.84 212.71 L935.62 213.56 L936.4 214.42 L937.18 215.29 L937.97 216.17 L938.75 217.06 L939.53 217.96 L940.31 218.87 L941.1 219.8 L941.88 220.73 L942.66 221.67 L943.44 222.63 L944.23 223.59 L945.01 224.57 L945.79 225.56 L946.57 226.56 L947.36 227.58 L948.14 228.6 L948.92 229.64 L949.7 230.69 L950.49 231.75 L951.27 232.83 L952.05 233.91 L952.83 235.02 L953.62 236.13 L954.4 237.26 L955.18 238.4 L955.96 239.55 L956.74 240.72 L957.53 241.91 L958.31 243.1 L959.09 244.32 L959.87 245.54 L960.66 246.79 L961.44 248.04 L962.22 249.32 L963 250.61 L963.79 251.91 L964.57 253.23 L965.35 254.57 L966.13 255.92 L966.92 257.29 L967.7 258.68 L968.48 260.09 L969.26 261.51 L970.05 262.95 L970.83 264.41 L971.61 265.88 L972.39 267.38 L973.18 268.89 L973.96 270.42 L974.74 271.98 L975.52 273.55 L976.31 275.14 L977.09 276.75 L977.87 278.39 L978.65 280.04 L979.44 281.71 L980.22 283.41 L981 285.13 L981.78 286.87 L982.57 288.63 L983.35 290.42 L984.13 292.22 L984.91 294.05 L985.7 295.91 L986.48 297.79 L987.26 299.69 L988.04 301.62 L988.83 303.57 L989.61 305.55 L990.39 307.56 L991.17 309.59 L991.96 311.65 L992.74 313.73 L993.52 315.84 L994.3 317.98 L995.09 320.15 L995.87 322.35 L996.65 324.58 L997.43 326.83 L998.22 329.12 L999 331.43 L999.78 333.78 L1000.56 336.16 L1001.35 338.57 L1002.13 341.01 L1002.91 343.49 L1003.69 346 L1004.48 348.54 L1005.26 351.11 L1006.04 353.73 L1006.82 356.37 L1007.61 359.06 L1008.39 361.77 L1009.17 364.53 L1009.95 367.32 L1010.74 370.15 L1011.52 373.02 L1012.3 375.93 L1013.08 378.88 L1013.87 381.87 L1014.65 384.9 L1015.43 387.97 L1016.21 391.09 L1017 394.24 L1017.78 397.44 L1018.56 400.69 L1019.34 403.98 L1020.13 407.31 L1020.91 410.7 L1021.69 414.12 L1022.47 417.6 L1023.25 421.12 L1024.04 424.7 L1024.82 428.32 L1025.6 431.99 L1026.38 435.72 L1027.17 439.5 L1027.95 443.33 L1028.73 447.21 L1029.51 451.15 L1030.3 455.15 L1031.08 459.2 L1031.86 463.31 L1032.64 467.47 L1033.43 471.7 L1034.21 475.98 L1034.99 480.33 L1035.77 484.73 L1036.56 489.2 L1037.34 493.74 L1038.12 498.34 L1038.9 503 L1039.69 507.73 L1040.47 512.53 L1041.25 517.4 L1042.03 522.33 L1042.82 527.34 L1043.6 532.42 L1044.38 537.57 L1045.16 542.8 L1045.95 548.1 L1046.73 553.48 L1047.51 558.94 L1048.29 564.47 L1049.08 570.09 L1049.86 575.78 L1050.64 581.56 L1051.42 587.42 L1052.21 593.37 L1052.99 599.41 L1053.77 605.53 L1054.55 611.74 L1055.34 618.04 L1056.12 624.44 L1056.9 630.93 L1057.68 637.51 L1058.47 644.19 L1059.25 650.97 L1060.03 657.84 L1060.81 664.82 L1061.6 671.9 L1062.38 679.08 L1063.16 686.37 L1063.94 693.77 L1064.73 701.28 L1065.51 708.89 L1066.29 716.62 L1067.07 724.47 L1067.86 732.43 L1068.64 740.51 L1069.42 748.71 L1070.2 757.02 L1070.99 765.47 L1071.77 774.04 L1072.55 782.73 L1073.33 791.56 L1074.12 800.52 L1074.9 809.61 L1075.68 818.83 L1076.46 828.2 L1077.25 837.7 L1078.03 847.35 L1078.81 857.14 L1079.59 867.07 L1080.38 877.16 L1081.16 887.4 L1081.94 897.79 L1082.72 908.33 L1083.51 919.04 L1084.29 929.91 L1085.07 940.94 L1085.85 952.13 L1086.64 963.5 L1087.42 975.03 L1088.2 986.74" stroke="#56b4e9" stroke-dasharray="4 3.6"/>
<path d="M619.5 33.4 L620.28 33.42 L621.06 33.45 L621.85 33.47 L622.63 33.49 L623.41 33.51 L624.19 33.53 L624.98 33.55 L625.76 33.57 L626.54 33.59 L627.32 33.61 L628.11 33.63 L628.89 33.65 L629.67 33.67 L630.45 33.69 L631.24 33.71 L632.02 33.73 L632.8 33.75 L633.58 33.77 L634.37 33.79 L635.15 33.81 L635.93 33.83 L636.71 33.85 L637.5 33.87 L638.28 33.88 L639.06 33.9 L639.84 33.92 L640.63 33.94 L641.41 33.96 L642.19 33.98 L642.97 34 L643.76 34.02 L644.54 34.03 L645.32 34.05 L646.1 34.07 L646.89 34.09 L647.67 34.11 L648.45 34.13 L649.23 34.14 L650.02 34.16 L650.8 34.18 L651.58 34.2 L652.36 34.22 L653.15 34.24 L653.93 34.25 L654.71 34.27 L655.49 34.29 L656.28 34.31 L657.06 34.33 L657.84 34.35 L658.62 34.37 L659.41 34.39 L660.19 34.4 L660.97 34.42 L661.75 34.44 L662.54 34.46 L663.32 34.48 L664.1 34.5 L664.88 34.52 L665.67 34.54 L666.45 34.56 L667.23 34.58 L668.01 34.6 L668.8 34.62 L669.58 34.64 L670.36 34.66 L671.14 34.68 L671.93 34.7 L672.71 34.72 L673.49 34.74 L674.27 34.76 L675.06 34.79 L675.84 34.81 L676.62 34.83 L677.4 34.85 L678.19 34.87 L678.97 34.89 L679.75 34.92 L680.53 34.94 L681.32 34.96 L682.1 34.99 L682.88 35.01 L683.66 35.03 L684.45 35.06 L685.23 35.08 L686.01 35.1 L686.79 35.13 L687.57 35.15 L688.36 35.18 L689.14 35.2 L689.92 35.23 L690.7 35.25 L691.49 35.28 L692.27 35.31 L693.05 35.33 L693.83 35.36 L694.62 35.39 L695.4 35.42 L696.18 35.44 L696.96 35.47 L697.75 35.5 L698.53 35.53 L699.31 35.56 L700.09 35.59 L700.88 35.62 L701.66 35.65 L702.44 35.68 L703.22 35.71 L704.01 35.74 L704.79 35.77 L705.57 35.81 L706.35 35.84 L707.14 35.87 L707.92 35.91 L708.7 35.94 L709.48 35.97 L710.27 36.01 L711.05 36.04 L711.83 36.08 L712.61 36.12 L713.4 36.15 L714.18 36.19 L714.96 36.23 L715.74 36.26 L716.53 36.3 L717.31 36.34 L718.09 36.38 L718.87 36.42 L719.66 36.46 L720.44 36.5 L721.22 36.54 L722 36.59 L722.79 36.63 L723.57 36.67 L724.35 36.71 L725.13 36.76 L725.92 36.8 L726.7 36.85 L727.48 36.89 L728.26 36.94 L729.05 36.99 L729.83 37.03 L730.61 37.08 L731.39 37.13 L732.18 37.18 L732.96 37.23 L733.74 37.28 L734.52 37.33 L735.31 37.38 L736.09 37.44 L736.87 37.49 L737.65 37.54 L738.44 37.6 L739.22 37.65 L740 37.71 L740.78 37.76 L741.57 37.82 L742.35 37.88 L743.13 37.94 L743.91 38 L744.7 38.06 L745.48 38.12 L746.26 38.18 L747.04 38.24 L747.83 38.3 L748.61 38.37 L749.39 38.43 L750.17 38.5 L750.96 38.56 L751.74 38.63 L752.52 38.7 L753.3 38.77 L754.08 38.83 L754.87 38.9 L755.65 38.98 L756.43 39.05 L757.21 39.12 L758 39.19 L758.78 39.27 L759.56 39.34 L760.34 39.42 L761.13 39.5 L761.91 39.57 L762.69 39.65 L763.47 39.73 L764.26 39.81 L765.04 39.89 L765.82 39.98 L766.6 40.06 L767.39 40.14 L768.17 40.23 L768.95 40.32 L769.73 40.4 L770.52 40.49 L771.3 40.58 L772.08 40.67 L772.86 40.76 L773.65 40.86 L774.43 40.95 L775.21 41.04 L775.99 41.14 L776.78 41.24 L777.56 41.33 L778.34 41.43 L779.12 41.53 L779.91 41.63 L780.69 41.74 L781.47 41.84 L782.25 41.94 L783.04 42.05 L783.82 42.16 L784.6 42.26 L785.38 42.37 L786.17 42.48 L786.95 42.6 L787.73 42.71 L788.51 42.82 L789.3 42.94 L790.08 43.06 L790.86 43.17 L791.64 43.29 L792.43 43.41 L793.21 43.54 L793.99 43.66 L794.77 43.78 L795.56 43.91 L796.34 44.04 L797.12 44.16 L797.9 44.29 L798.69 44.43 L799.47 44.56 L800.25 44.69 L801.03 44.83 L801.82 44.97 L802.6 45.1 L803.38 45.25 L804.16 45.39 L804.95 45.53 L805.73 45.67 L806.51 45.82 L807.29 45.97 L808.08 46.12 L808.86 46.27 L809.64 46.42 L810.42 46.58 L811.21 46.73 L811.99 46.89 L812.77 47.05 L813.55 47.21 L814.34 47.37 L815.12 47.54 L815.9 47.7 L816.68 47.87 L817.47 48.04 L818.25 48.21 L819.03 48.38 L819.81 48.56 L820.59 48.73 L821.38 48.91 L822.16 49.09 L822.94 49.27 L823.72 49.46 L824.51 49.64 L825.29 49.83 L826.07 50.02 L826.85 50.21 L827.64 50.41 L828.42 50.6 L829.2 50.8 L829.98 51 L830.77 51.2 L831.55 51.41 L832.33 51.62 L833.11 51.82 L833.9 52.03 L834.68 52.25 L835.46 52.46 L836.24 52.68 L837.03 52.9 L837.81 53.12 L838.59 53.35 L839.37 53.57 L840.16 53.8 L840.94 54.03 L841.72 54.27 L842.5 54.5 L843.29 54.74 L844.07 54.98 L844.85 55.22 L845.63 55.47 L846.42 55.72 L847.2 55.97 L847.98 56.22 L848.76 56.48 L849.55 56.74 L850.33 57 L851.11 57.26 L851.89 57.53 L852.68 57.8 L853.46 58.07 L854.24 58.35 L855.02 58.63 L855.81 58.91 L856.59 59.19 L857.37 59.48 L858.15 59.77 L858.94 60.06 L859.72 60.36 L860.5 60.66 L861.28 60.96 L862.07 61.27 L862.85 61.58 L863.63 61.89 L864.41 62.2 L865.2 62.52 L865.98 62.84 L866.76 63.17 L867.54 63.5 L868.33 63.83 L869.11 64.17 L869.89 64.51 L870.67 64.85 L871.46 65.19 L872.24 65.54 L873.02 65.9 L873.8 66.26 L874.59 66.62 L875.37 66.98 L876.15 67.35 L876.93 67.72 L877.72 68.1 L878.5 68.48 L879.28 68.87 L880.06 69.25 L880.85 69.65 L881.63 70.04 L882.41 70.45 L883.19 70.85 L883.98 71.26 L884.76 71.68 L885.54 72.1 L886.32 72.52 L887.11 72.95 L887.89 73.38 L888.67 73.82 L889.45 74.26 L890.23 74.7 L891.02 75.16 L891.8 75.61 L892.58 76.07 L893.36 76.54 L894.15 77.01 L894.93 77.49 L895.71 77.97 L896.49 78.46 L897.28 78.95 L898.06 79.45 L898.84 79.95 L899.62 80.46 L900.41 80.97 L901.19 81.49 L901.97 82.02 L902.75 82.55 L903.54 83.09 L904.32 83.63 L905.1 84.18 L905.88 84.73 L906.67 85.29 L907.45 85.86 L908.23 86.44 L909.01 87.02 L909.8 87.6 L910.58 88.2 L911.36 88.8 L912.14 89.4 L912.93 90.02 L913.71 90.64 L914.49 91.26 L915.27 91.9 L916.06 92.54 L916.84 93.19 L917.62 93.84 L918.4 94.51 L919.19 95.18 L919.97 95.86 L920.75 96.54 L921.53 97.24 L922.32 97.94 L923.1 98.65 L923.88 99.37 L924.66 100.1 L925.45 100.83 L926.23 101.58 L927.01 102.33 L927.79 103.09 L928.58 103.86 L929.36 104.64 L930.14 105.42 L930.92 106.22 L931.71 107.03 L932.49 107.84 L933.27 108.67 L934.05 109.5 L934.84 110.35 L935.62 111.2 L936.4 112.07 L937.18 112.94 L937.97 113.83 L938.75 114.72 L939.53 115.63 L940.31 116.55 L941.1 117.48 L941.88 118.41 L942.66 119.37 L943.44 120.33 L944.23 121.3 L945.01 122.29 L945.79 123.28 L946.57 124.29 L947.36 125.31 L948.14 126.35 L948.92 127.39 L949.7 128.45 L950.49 129.52 L951.27 130.61 L952.05 131.7 L952.83 132.81 L953.62 133.94 L954.4 135.08 L955.18 136.23 L955.96 137.4 L956.74 138.58 L957.53 139.77 L958.31 140.98 L959.09 142.21 L959.87 143.45 L960.66 144.7 L961.44 145.98 L962.22 147.26 L963 148.57 L963.79 149.89 L964.57 151.22 L965.35 152.58 L966.13 153.94 L966.92 155.33 L967.7 156.74 L968.48 158.16 L969.26 159.6 L970.05 161.06 L970.83 162.53 L971.61 164.03 L972.39 165.54 L973.18 167.08 L973.96 168.63 L974.74 170.21 L975.52 171.8 L976.31 173.41 L977.09 175.05 L977.87 176.7 L978.65 178.38 L979.44 180.08 L980.22 181.8 L981 183.54 L981.78 185.31 L982.57 187.1 L983.35 188.91 L984.13 190.74 L984.91 192.6 L985.7 194.49 L986.48 196.39 L987.26 198.33 L988.04 200.28 L988.83 202.27 L989.61 204.28 L990.39 206.32 L991.17 208.38 L991.96 210.47 L992.74 212.59 L993.52 214.73 L994.3 216.91 L995.09 219.11 L995.87 221.34 L996.65 223.61 L997.43 225.9 L998.22 228.22 L999 230.58 L999.78 232.96 L1000.56 235.38 L1001.35 237.83 L1002.13 240.31 L1002.91 242.83 L1003.69 245.38 L1004.48 247.97 L1005.26 250.59 L1006.04 253.24 L1006.82 255.93 L1007.61 258.66 L1008.39 261.43 L1009.17 264.23 L1009.95 267.07 L1010.74 269.95 L1011.52 272.87 L1012.3 275.82 L1013.08 278.82 L1013.87 281.86 L1014.65 284.94 L1015.43 288.07 L1016.21 291.23 L1017 294.45 L1017.78 297.7 L1018.56 301 L1019.34 304.34 L1020.13 307.74 L1020.91 311.17 L1021.69 314.66 L1022.47 318.19 L1023.25 321.78 L1024.04 325.41 L1024.82 329.09 L1025.6 332.83 L1026.38 336.62 L1027.17 340.45 L1027.95 344.35 L1028.73 348.3 L1029.51 352.3 L1030.3 356.36 L1031.08 360.48 L1031.86 364.65 L1032.64 368.88 L1033.43 373.17 L1034.21 377.53 L1034.99 381.94 L1035.77 386.42 L1036.56 390.96 L1037.34 395.56 L1038.12 400.23 L1038.9 404.97 L1039.69 409.77 L1040.47 414.64 L1041.25 419.58 L1042.03 424.59 L1042.82 429.67 L1043.6 434.83 L1044.38 440.06 L1045.16 445.36 L1045.95 450.74 L1046.73 456.19 L1047.51 461.72 L1048.29 467.34 L1049.08 473.03 L1049.86 478.8 L1050.64 484.66 L1051.42 490.6 L1052.21 496.63 L1052.99 502.74 L1053.77 508.95 L1054.55 515.24 L1055.34 521.62 L1056.12 528.1 L1056.9 534.66 L1057.68 541.33 L1058.47 548.09 L1059.25 554.95 L1060.03 561.9 L1060.81 568.96 L1061.6 576.12 L1062.38 583.39 L1063.16 590.76 L1063.94 598.24 L1064.73 605.82 L1065.51 613.52 L1066.29 621.33 L1067.07 629.25 L1067.86 637.29 L1068.64 645.45 L1069.42 653.73 L1070.2 662.12 L1070.99 670.65 L1071.77 679.29 L1072.55 688.06 L1073.33 696.96 L1074.12 706 L1074.9 715.16 L1075.68 724.46 L1076.46 733.9 L1077.25 743.47 L1078.03 753.19 L1078.81 763.05 L1079.59 773.05 L1080.38 783.21 L1081.16 793.51 L1081.94 803.96 L1082.72 814.57 L1083.51 825.34 L1084.29 836.27 L1085.07 847.35 L1085.85 858.61 L1086.64 870.02 L1087.42 881.61 L1088.2 893.37" stroke="#009e73" stroke-dasharray="4 3.6"/>
<path d="M619.5 57.2 L620.28 57.23 L621.06 57.27 L621.85 57.3 L622.63 57.33 L623.41 57.37 L624.19 57.4 L624.98 57.43 L625.76 57.46 L626.54 57.49 L627.32 57.53 L628.11 57.56 L628.89 57.59 L629.67 57.62 L630.45 57.65 L631.24 57.68 L632.02 57.7 L632.8 57.73 L633.58 57.76 L634.37 57.79 L635.15 57.82 L635.93 57.85 L636.71 57.87 L637.5 57.9 L638.28 57.93 L639.06 57.95 L639.84 57.98 L640.63 58.01 L641.41 58.03 L642.19 58.06 L642.97 58.09 L643.76 58.11 L644.54 58.14 L645.32 58.16 L646.1 58.19 L646.89 58.21 L647.67 58.23 L648.45 58.26 L649.23 58.28 L650.02 58.31 L650.8 58.33 L651.58 58.36 L652.36 58.38 L653.15 58.4 L653.93 58.43 L654.71 58.45 L655.49 58.47 L656.28 58.5 L657.06 58.52 L657.84 58.54 L658.62 58.56 L659.41 58.59 L660.19 58.61 L660.97 58.63 L661.75 58.65 L662.54 58.68 L663.32 58.7 L664.1 58.72 L664.88 58.74 L665.67 58.77 L666.45 58.79 L667.23 58.81 L668.01 58.83 L668.8 58.86 L669.58 58.88 L670.36 58.9 L671.14 58.92 L671.93 58.94 L672.71 58.97 L673.49 58.99 L674.27 59.01 L675.06 59.03 L675.84 59.06 L676.62 59.08 L677.4 59.1 L678.19 59.13 L678.97 59.15 L679.75 59.17 L680.53 59.19 L681.32 59.22 L682.1 59.24 L682.88 59.26 L683.66 59.29 L684.45 59.31 L685.23 59.34 L686.01 59.36 L686.79 59.38 L687.57 59.41 L688.36 59.43 L689.14 59.46 L689.92 59.48 L690.7 59.51 L691.49 59.53 L692.27 59.56 L693.05 59.58 L693.83 59.61 L694.62 59.64 L695.4 59.66 L696.18 59.69 L696.96 59.72 L697.75 59.74 L698.53 59.77 L699.31 59.8 L700.09 59.83 L700.88 59.85 L701.66 59.88 L702.44 59.91 L703.22 59.94 L704.01 59.97 L704.79 60 L705.57 60.03 L706.35 60.06 L707.14 60.09 L707.92 60.12 L708.7 60.15 L709.48 60.18 L710.27 60.22 L711.05 60.25 L711.83 60.28 L712.61 60.31 L713.4 60.35 L714.18 60.38 L714.96 60.42 L715.74 60.45 L716.53 60.49 L717.31 60.52 L718.09 60.56 L718.87 60.59 L719.66 60.63 L720.44 60.67 L721.22 60.71 L722 60.74 L722.79 60.78 L723.57 60.82 L724.35 60.86 L725.13 60.9 L725.92 60.94 L726.7 60.99 L727.48 61.03 L728.26 61.07 L729.05 61.11 L729.83 61.16 L730.61 61.2 L731.39 61.24 L732.18 61.29 L732.96 61.34 L733.74 61.38 L734.52 61.43 L735.31 61.48 L736.09 61.53 L736.87 61.57 L737.65 61.62 L738.44 61.67 L739.22 61.73 L740 61.78 L740.78 61.83 L741.57 61.88 L742.35 61.94 L743.13 61.99 L743.91 62.04 L744.7 62.1 L745.48 62.16 L746.26 62.21 L747.04 62.27 L747.83 62.33 L748.61 62.39 L749.39 62.45 L750.17 62.51 L750.96 62.57 L751.74 62.63 L752.52 62.7 L753.3 62.76 L754.08 62.83 L754.87 62.89 L755.65 62.96 L756.43 63.03 L757.21 63.09 L758 63.16 L758.78 63.23 L759.56 63.3 L760.34 63.38 L761.13 63.45 L761.91 63.52 L762.69 63.6 L763.47 63.67 L764.26 63.75 L765.04 63.82 L765.82 63.9 L766.6 63.98 L767.39 64.06 L768.17 64.14 L768.95 64.23 L769.73 64.31 L770.52 64.39 L771.3 64.48 L772.08 64.56 L772.86 64.65 L773.65 64.74 L774.43 64.83 L775.21 64.92 L775.99 65.01 L776.78 65.1 L777.56 65.2 L778.34 65.29 L779.12 65.39 L779.91 65.49 L780.69 65.59 L781.47 65.69 L782.25 65.79 L783.04 65.89 L783.82 65.99 L784.6 66.1 L785.38 66.2 L786.17 66.31 L786.95 66.42 L787.73 66.53 L788.51 66.64 L789.3 66.75 L790.08 66.86 L790.86 66.98 L791.64 67.09 L792.43 67.21 L793.21 67.33 L793.99 67.45 L794.77 67.57 L795.56 67.69 L796.34 67.82 L797.12 67.94 L797.9 68.07 L798.69 68.2 L799.47 68.33 L800.25 68.46 L801.03 68.59 L801.82 68.73 L802.6 68.86 L803.38 69 L804.16 69.14 L804.95 69.28 L805.73 69.42 L806.51 69.57 L807.29 69.71 L808.08 69.86 L808.86 70.01 L809.64 70.16 L810.42 70.31 L811.21 70.46 L811.99 70.62 L812.77 70.78 L813.55 70.93 L814.34 71.09 L815.12 71.26 L815.9 71.42 L816.68 71.59 L817.47 71.75 L818.25 71.92 L819.03 72.1 L819.81 72.27 L820.59 72.44 L821.38 72.62 L822.16 72.8 L822.94 72.98 L823.72 73.16 L824.51 73.35 L825.29 73.54 L826.07 73.72 L826.85 73.92 L827.64 74.11 L828.42 74.3 L829.2 74.5 L829.98 74.7 L830.77 74.9 L831.55 75.1 L832.33 75.31 L833.11 75.52 L833.9 75.73 L834.68 75.94 L835.46 76.16 L836.24 76.37 L837.03 76.59 L837.81 76.81 L838.59 77.04 L839.37 77.26 L840.16 77.49 L840.94 77.72 L841.72 77.96 L842.5 78.19 L843.29 78.43 L844.07 78.67 L844.85 78.92 L845.63 79.16 L846.42 79.41 L847.2 79.66 L847.98 79.92 L848.76 80.17 L849.55 80.43 L850.33 80.7 L851.11 80.96 L851.89 81.23 L852.68 81.5 L853.46 81.77 L854.24 82.05 L855.02 82.33 L855.81 82.61 L856.59 82.89 L857.37 83.18 L858.15 83.47 L858.94 83.77 L859.72 84.06 L860.5 84.36 L861.28 84.67 L862.07 84.97 L862.85 85.28 L863.63 85.6 L864.41 85.91 L865.2 86.23 L865.98 86.56 L866.76 86.88 L867.54 87.21 L868.33 87.55 L869.11 87.88 L869.89 88.22 L870.67 88.57 L871.46 88.92 L872.24 89.27 L873.02 89.62 L873.8 89.98 L874.59 90.34 L875.37 90.71 L876.15 91.08 L876.93 91.45 L877.72 91.83 L878.5 92.21 L879.28 92.6 L880.06 92.99 L880.85 93.38 L881.63 93.78 L882.41 94.18 L883.19 94.59 L883.98 95 L884.76 95.42 L885.54 95.83 L886.32 96.26 L887.11 96.69 L887.89 97.12 L888.67 97.56 L889.45 98 L890.23 98.45 L891.02 98.9 L891.8 99.36 L892.58 99.82 L893.36 100.28 L894.15 100.76 L894.93 101.23 L895.71 101.71 L896.49 102.2 L897.28 102.69 L898.06 103.19 L898.84 103.69 L899.62 104.2 L900.41 104.71 L901.19 105.23 L901.97 105.76 L902.75 106.29 L903.54 106.82 L904.32 107.36 L905.1 107.91 L905.88 108.46 L906.67 109.02 L907.45 109.59 L908.23 110.16 L909.01 110.74 L909.8 111.32 L910.58 111.91 L911.36 112.51 L912.14 113.11 L912.93 113.72 L913.71 114.34 L914.49 114.96 L915.27 115.59 L916.06 116.23 L916.84 116.88 L917.62 117.53 L918.4 118.19 L919.19 118.85 L919.97 119.52 L920.75 120.2 L921.53 120.89 L922.32 121.59 L923.1 122.29 L923.88 123 L924.66 123.72 L925.45 124.45 L926.23 125.19 L927.01 125.93 L927.79 126.68 L928.58 127.44 L929.36 128.21 L930.14 128.99 L930.92 129.77 L931.71 130.57 L932.49 131.37 L933.27 132.19 L934.05 133.01 L934.84 133.84 L935.62 134.68 L936.4 135.53 L937.18 136.39 L937.97 137.27 L938.75 138.15 L939.53 139.04 L940.31 139.94 L941.1 140.85 L941.88 141.77 L942.66 142.7 L943.44 143.65 L944.23 144.6 L945.01 145.56 L945.79 146.54 L946.57 147.53 L947.36 148.53 L948.14 149.54 L948.92 150.56 L949.7 151.6 L950.49 152.64 L951.27 153.7 L952.05 154.77 L952.83 155.86 L953.62 156.95 L954.4 158.06 L955.18 159.19 L955.96 160.32 L956.74 161.47 L957.53 162.64 L958.31 163.81 L959.09 165 L959.87 166.21 L960.66 167.43 L961.44 168.66 L962.22 169.91 L963 171.18 L963.79 172.46 L964.57 173.75 L965.35 175.06 L966.13 176.39 L966.92 177.73 L967.7 179.09 L968.48 180.47 L969.26 181.86 L970.05 183.27 L970.83 184.7 L971.61 186.14 L972.39 187.6 L973.18 189.08 L973.96 190.58 L974.74 192.1 L975.52 193.63 L976.31 195.18 L977.09 196.76 L977.87 198.35 L978.65 199.96 L979.44 201.59 L980.22 203.25 L981 204.92 L981.78 206.62 L982.57 208.33 L983.35 210.07 L984.13 211.83 L984.91 213.61 L985.7 215.41 L986.48 217.24 L987.26 219.09 L988.04 220.96 L988.83 222.86 L989.61 224.78 L990.39 226.72 L991.17 228.69 L991.96 230.69 L992.74 232.71 L993.52 234.75 L994.3 236.82 L995.09 238.92 L995.87 241.05 L996.65 243.2 L997.43 245.38 L998.22 247.59 L999 249.83 L999.78 252.1 L1000.56 254.39 L1001.35 256.72 L1002.13 259.07 L1002.91 261.46 L1003.69 263.88 L1004.48 266.33 L1005.26 268.81 L1006.04 271.32 L1006.82 273.87 L1007.61 276.45 L1008.39 279.06 L1009.17 281.71 L1009.95 284.39 L1010.74 287.11 L1011.52 289.87 L1012.3 292.66 L1013.08 295.48 L1013.87 298.35 L1014.65 301.25 L1015.43 304.19 L1016.21 307.18 L1017 310.2 L1017.78 313.26 L1018.56 316.36 L1019.34 319.51 L1020.13 322.69 L1020.91 325.92 L1021.69 329.19 L1022.47 332.51 L1023.25 335.87 L1024.04 339.28 L1024.82 342.73 L1025.6 346.23 L1026.38 349.77 L1027.17 353.37 L1027.95 357.01 L1028.73 360.7 L1029.51 364.45 L1030.3 368.24 L1031.08 372.09 L1031.86 375.99 L1032.64 379.94 L1033.43 383.94 L1034.21 388 L1034.99 392.12 L1035.77 396.29 L1036.56 400.52 L1037.34 404.81 L1038.12 409.16 L1038.9 413.57 L1039.69 418.03 L1040.47 422.56 L1041.25 427.16 L1042.03 431.81 L1042.82 436.54 L1043.6 441.32 L1044.38 446.18 L1045.16 451.1 L1045.95 456.09 L1046.73 461.14 L1047.51 466.27 L1048.29 471.47 L1049.08 476.75 L1049.86 482.1 L1050.64 487.52 L1051.42 493.02 L1052.21 498.59 L1052.99 504.25 L1053.77 509.98 L1054.55 515.8 L1055.34 521.69 L1056.12 527.67 L1056.9 533.74 L1057.68 539.89 L1058.47 546.12 L1059.25 552.45 L1060.03 558.86 L1060.81 565.37 L1061.6 571.97 L1062.38 578.66 L1063.16 585.45 L1063.94 592.33 L1064.73 599.31 L1065.51 606.4 L1066.29 613.58 L1067.07 620.86 L1067.86 628.25 L1068.64 635.75 L1069.42 643.35 L1070.2 651.06 L1070.99 658.88 L1071.77 666.82 L1072.55 674.87 L1073.33 683.03 L1074.12 691.31 L1074.9 699.71 L1075.68 708.24 L1076.46 716.88 L1077.25 725.65 L1078.03 734.55 L1078.81 743.57 L1079.59 752.73 L1080.38 762.02 L1081.16 771.44 L1081.94 781 L1082.72 790.69 L1083.51 800.53 L1084.29 810.51 L1085.07 820.64 L1085.85 830.92 L1086.64 841.34 L1087.42 851.91 L1088.2 862.64" stroke="#9400d3" stroke-dasharray="4 3.6"/>
<path d="M619.5 283.92 L620.28 283.78 L621.06 283.64 L621.85 283.5 L622.63 283.35 L623.41 283.21 L624.19 283.07 L624.98 282.93 L625.76 282.78 L626.54 282.64 L627.32 282.5 L628.11 282.35 L628.89 282.21 L629.67 282.07 L630.45 281.92 L631.24 281.78 L632.02 281.64 L632.8 281.49 L633.58 281.35 L634.37 281.2 L635.15 281.06 L635.93 280.91 L636.71 280.77 L637.5 280.62 L638.28 280.48 L639.06 280.34 L639.84 280.19 L640.63 280.05 L641.41 279.9 L642.19 279.76 L642.97 279.61 L643.76 279.47 L644.54 279.32 L645.32 279.18 L646.1 279.03 L646.89 278.88 L647.67 278.74 L648.45 278.59 L649.23 278.45 L650.02 278.3 L650.8 278.16 L651.58 278.01 L652.36 277.87 L653.15 277.72 L653.93 277.58 L654.71 277.43 L655.49 277.29 L656.28 277.14 L657.06 277 L657.84 276.85 L658.62 276.7 L659.41 276.56 L660.19 276.41 L660.97 276.27 L661.75 276.12 L662.54 275.98 L663.32 275.83 L664.1 275.69 L664.88 275.54 L665.67 275.4 L666.45 275.25 L667.23 275.11 L668.01 274.96 L668.8 274.82 L669.58 274.68 L670.36 274.53 L671.14 274.39 L671.93 274.24 L672.71 274.1 L673.49 273.95 L674.27 273.81 L675.06 273.67 L675.84 273.52 L676.62 273.38 L677.4 273.23 L678.19 273.09 L678.97 272.95 L679.75 272.81 L680.53 272.66 L681.32 272.52 L682.1 272.38 L682.88 272.23 L683.66 272.09 L684.45 271.95 L685.23 271.81 L686.01 271.67 L686.79 271.52 L687.57 271.38 L688.36 271.24 L689.14 271.1 L689.92 270.96 L690.7 270.82 L691.49 270.68 L692.27 270.54 L693.05 270.4 L693.83 270.26 L694.62 270.12 L695.4 269.98 L696.18 269.84 L696.96 269.7 L697.75 269.56 L698.53 269.42 L699.31 269.28 L700.09 269.14 L700.88 269 L701.66 268.87 L702.44 268.73 L703.22 268.59 L704.01 268.45 L704.79 268.32 L705.57 268.18 L706.35 268.04 L707.14 267.91 L707.92 267.77 L708.7 267.64 L709.48 267.5 L710.27 267.37 L711.05 267.23 L711.83 267.1 L712.61 266.96 L713.4 266.83 L714.18 266.7 L714.96 266.56 L715.74 266.43 L716.53 266.3 L717.31 266.17 L718.09 266.03 L718.87 265.9 L719.66 265.77 L720.44 265.64 L721.22 265.51 L722 265.38 L722.79 265.25 L723.57 265.12 L724.35 264.99 L725.13 264.86 L725.92 264.74 L726.7 264.61 L727.48 264.48 L728.26 264.35 L729.05 264.23 L729.83 264.1 L730.61 263.97 L731.39 263.85 L732.18 263.72 L732.96 263.6 L733.74 263.48 L734.52 263.35 L735.31 263.23 L736.09 263.11 L736.87 262.98 L737.65 262.86 L738.44 262.74 L739.22 262.62 L740 262.5 L740.78 262.38 L741.57 262.26 L742.35 262.14 L743.13 262.02 L743.91 261.9 L744.7 261.78 L745.48 261.67 L746.26 261.55 L747.04 261.43 L747.83 261.32 L748.61 261.2 L749.39 261.09 L750.17 260.97 L750.96 260.86 L751.74 260.74 L752.52 260.63 L753.3 260.52 L754.08 260.41 L754.87 260.3 L755.65 260.19 L756.43 260.08 L757.21 259.97 L758 259.86 L758.78 259.75 L759.56 259.64 L760.34 259.53 L761.13 259.43 L761.91 259.32 L762.69 259.22 L763.47 259.11 L764.26 259.01 L765.04 258.9 L765.82 258.8 L766.6 258.7 L767.39 258.6 L768.17 258.5 L768.95 258.4 L769.73 258.3 L770.52 258.2 L771.3 258.1 L772.08 258 L772.86 257.9 L773.65 257.81 L774.43 257.71 L775.21 257.62 L775.99 257.52 L776.78 257.43 L777.56 257.33 L778.34 257.24 L779.12 257.15 L779.91 257.06 L780.69 256.97 L781.47 256.88 L782.25 256.79 L783.04 256.7 L783.82 256.62 L784.6 256.53 L785.38 256.44 L786.17 256.36 L786.95 256.27 L787.73 256.19 L788.51 256.11 L789.3 256.03 L790.08 255.94 L790.86 255.86 L791.64 255.79 L792.43 255.71 L793.21 255.63 L793.99 255.55 L794.77 255.48 L795.56 255.4 L796.34 255.33 L797.12 255.25 L797.9 255.18 L798.69 255.11 L799.47 255.04 L800.25 254.97 L801.03 254.9 L801.82 254.83 L802.6 254.76 L803.38 254.69 L804.16 254.63 L804.95 254.56 L805.73 254.5 L806.51 254.44 L807.29 254.38 L808.08 254.31 L808.86 254.25 L809.64 254.2 L810.42 254.14 L811.21 254.08 L811.99 254.02 L812.77 253.97 L813.55 253.91 L814.34 253.86 L815.12 253.81 L815.9 253.76 L816.68 253.71 L817.47 253.66 L818.25 253.61 L819.03 253.57 L819.81 253.52 L820.59 253.47 L821.38 253.43 L822.16 253.39 L822.94 253.35 L823.72 253.31 L824.51 253.27 L825.29 253.23 L826.07 253.19 L826.85 253.16 L827.64 253.12 L828.42 253.09 L829.2 253.06 L829.98 253.03 L830.77 253 L831.55 252.97 L832.33 252.94 L833.11 252.92 L833.9 252.89 L834.68 252.87 L835.46 252.84 L836.24 252.82 L837.03 252.8 L837.81 252.79 L838.59 252.77 L839.37 252.75 L840.16 252.74 L840.94 252.73 L841.72 252.71 L842.5 252.7 L843.29 252.69 L844.07 252.69 L844.85 252.68 L845.63 252.68 L846.42 252.67 L847.2 252.67 L847.98 252.67 L848.76 252.67 L849.55 252.67 L850.33 252.68 L851.11 252.68 L851.89 252.69 L852.68 252.7 L853.46 252.71 L854.24 252.72 L855.02 252.73 L855.81 252.75 L856.59 252.77 L857.37 252.78 L858.15 252.8 L858.94 252.82 L859.72 252.85 L860.5 252.87 L861.28 252.9 L862.07 252.93 L862.85 252.96 L863.63 252.99 L864.41 253.02 L865.2 253.06 L865.98 253.1 L866.76 253.13 L867.54 253.17 L868.33 253.22 L869.11 253.26 L869.89 253.31 L870.67 253.36 L871.46 253.41 L872.24 253.46 L873.02 253.51 L873.8 253.57 L874.59 253.63 L875.37 253.69 L876.15 253.75 L876.93 253.81 L877.72 253.88 L878.5 253.95 L879.28 254.02 L880.06 254.09 L880.85 254.17 L881.63 254.25 L882.41 254.33 L883.19 254.41 L883.98 254.49 L884.76 254.58 L885.54 254.67 L886.32 254.76 L887.11 254.85 L887.89 254.95 L888.67 255.05 L889.45 255.15 L890.23 255.25 L891.02 255.36 L891.8 255.47 L892.58 255.58 L893.36 255.69 L894.15 255.81 L894.93 255.93 L895.71 256.05 L896.49 256.17 L897.28 256.3 L898.06 256.43 L898.84 256.56 L899.62 256.7 L900.41 256.84 L901.19 256.98 L901.97 257.12 L902.75 257.27 L903.54 257.42 L904.32 257.57 L905.1 257.73 L905.88 257.89 L906.67 258.05 L907.45 258.22 L908.23 258.39 L909.01 258.56 L909.8 258.74 L910.58 258.92 L911.36 259.1 L912.14 259.29 L912.93 259.48 L913.71 259.67 L914.49 259.87 L915.27 260.07 L916.06 260.27 L916.84 260.48 L917.62 260.7 L918.4 260.91 L919.19 261.13 L919.97 261.36 L920.75 261.58 L921.53 261.81 L922.32 262.05 L923.1 262.29 L923.88 262.54 L924.66 262.78 L925.45 263.04 L926.23 263.29 L927.01 263.56 L927.79 263.82 L928.58 264.09 L929.36 264.37 L930.14 264.65 L930.92 264.93 L931.71 265.22 L932.49 265.52 L933.27 265.82 L934.05 266.12 L934.84 266.43 L935.62 266.75 L936.4 267.07 L937.18 267.39 L937.97 267.72 L938.75 268.06 L939.53 268.4 L940.31 268.75 L941.1 269.1 L941.88 269.46 L942.66 269.82 L943.44 270.19 L944.23 270.57 L945.01 270.95 L945.79 271.34 L946.57 271.73 L947.36 272.13 L948.14 272.54 L948.92 272.96 L949.7 273.38 L950.49 273.8 L951.27 274.24 L952.05 274.68 L952.83 275.13 L953.62 275.58 L954.4 276.05 L955.18 276.52 L955.96 276.99 L956.74 277.48 L957.53 277.97 L958.31 278.47 L959.09 278.98 L959.87 279.5 L960.66 280.02 L961.44 280.55 L962.22 281.1 L963 281.64 L963.79 282.2 L964.57 282.77 L965.35 283.35 L966.13 283.93 L966.92 284.53 L967.7 285.13 L968.48 285.74 L969.26 286.36 L970.05 287 L970.83 287.64 L971.61 288.29 L972.39 288.95 L973.18 289.63 L973.96 290.31 L974.74 291 L975.52 291.71 L976.31 292.43 L977.09 293.15 L977.87 293.89 L978.65 294.64 L979.44 295.4 L980.22 296.18 L981 296.96 L981.78 297.76 L982.57 298.57 L983.35 299.4 L984.13 300.23 L984.91 301.08 L985.7 301.94 L986.48 302.82 L987.26 303.71 L988.04 304.61 L988.83 305.53 L989.61 306.47 L990.39 307.41 L991.17 308.38 L991.96 309.35 L992.74 310.34 L993.52 311.35 L994.3 312.38 L995.09 313.42 L995.87 314.47 L996.65 315.55 L997.43 316.64 L998.22 317.74 L999 318.87 L999.78 320.01 L1000.56 321.17 L1001.35 322.35 L1002.13 323.55 L1002.91 324.77 L1003.69 326 L1004.48 327.26 L1005.26 328.53 L1006.04 329.83 L1006.82 331.14 L1007.61 332.48 L1008.39 333.84 L1009.17 335.22 L1009.95 336.62 L1010.74 338.04 L1011.52 339.49 L1012.3 340.96 L1013.08 342.45 L1013.87 343.97 L1014.65 345.51 L1015.43 347.08 L1016.21 348.67 L1017 350.28 L1017.78 351.93 L1018.56 353.6 L1019.34 355.29 L1020.13 357.01 L1020.91 358.76 L1021.69 360.54 L1022.47 362.35 L1023.25 364.18 L1024.04 366.05 L1024.82 367.95 L1025.6 369.87 L1026.38 371.83 L1027.17 373.82 L1027.95 375.84 L1028.73 377.89 L1029.51 379.98 L1030.3 382.1 L1031.08 384.26 L1031.86 386.45 L1032.64 388.67 L1033.43 390.93 L1034.21 393.23 L1034.99 395.57 L1035.77 397.94 L1036.56 400.35 L1037.34 402.81 L1038.12 405.3 L1038.9 407.83 L1039.69 410.41 L1040.47 413.02 L1041.25 415.68 L1042.03 418.38 L1042.82 421.13 L1043.6 423.92 L1044.38 426.76 L1045.16 429.64 L1045.95 432.58 L1046.73 435.56 L1047.51 438.58 L1048.29 441.66 L1049.08 444.79 L1049.86 447.97 L1050.64 451.21 L1051.42 454.5 L1052.21 457.84 L1052.99 461.23 L1053.77 464.69 L1054.55 468.2 L1055.34 471.76 L1056.12 475.39 L1056.9 479.08 L1057.68 482.83 L1058.47 486.64 L1059.25 490.51 L1060.03 494.45 L1060.81 498.46 L1061.6 502.53 L1062.38 506.67 L1063.16 510.88 L1063.94 515.16 L1064.73 519.51 L1065.51 523.93 L1066.29 528.42 L1067.07 533 L1067.86 537.65 L1068.64 542.37 L1069.42 547.18 L1070.2 552.06 L1070.99 557.03 L1071.77 562.08 L1072.55 567.22 L1073.33 572.44 L1074.12 577.75 L1074.9 583.15 L1075.68 588.64 L1076.46 594.23 L1077.25 599.91 L1078.03 605.68 L1078.81 611.55 L1079.59 617.52 L1080.38 623.59 L1081.16 629.77 L1081.94 636.04 L1082.72 642.43 L1083.51 648.92 L1084.29 655.52 L1085.07 662.24 L1085.85 669.07 L1086.64 676.01 L1087.42 683.07 L1088.2 690.25" stroke="#9400d3"/>
</g>
<path d="M671.78 558.8 v-2.4 M671.78 13.3 v2.4 M702.36 558.8 v-2.4 M702.36 13.3 v2.4 M724.05 558.8 v-2.4 M724.05 13.3 v2.4 M740.88 558.8 v-2.4 M740.88 13.3 v2.4 M754.63 558.8 v-2.4 M754.63 13.3 v2.4 M766.26 558.8 v-2.4 M766.26 13.3 v2.4 M776.33 558.8 v-2.4 M776.33 13.3 v2.4 M785.21 558.8 v-2.4 M785.21 13.3 v2.4 M793.16 558.8 v-4.8 M793.16 13.3 v4.8 M845.44 558.8 v-2.4 M845.44 13.3 v2.4 M876.02 558.8 v-2.4 M876.02 13.3 v2.4 M897.71 558.8 v-2.4 M897.71 13.3 v2.4 M914.54 558.8 v-2.4 M914.54 13.3 v2.4 M928.29 558.8 v-2.4 M928.29 13.3 v2.4 M939.92 558.8 v-2.4 M939.92 13.3 v2.4 M949.99 558.8 v-2.4 M949.99 13.3 v2.4 M958.87 558.8 v-2.4 M958.87 13.3 v2.4 M966.82 558.8 v-4.8 M966.82 13.3 v4.8 M1019.09 558.8 v-2.4 M1019.09 13.3 v2.4 M1049.67 558.8 v-2.4 M1049.67 13.3 v2.4 M1071.37 558.8 v-2.4 M1071.37 13.3 v2.4 M619.5 558.8 h4.8 M1088.2 558.8 h-4.8 M619.5 486.07 h4.8 M1088.2 486.07 h-4.8 M619.5 413.33 h4.8 M1088.2 413.33 h-4.8 M619.5 340.6 h4.8 M1088.2 340.6 h-4.8 M619.5 267.87 h4.8 M1088.2 267.87 h-4.8 M619.5 195.13 h4.8 M1088.2 195.13 h-4.8 M619.5 122.4 h4.8 M1088.2 122.4 h-4.8 M619.5 49.67 h4.8 M1088.2 49.67 h-4.8 M619.5 519.55 h2.4 M1088.2 519.55 h-2.4 M619.5 509.28 h2.4 M1088.2 509.28 h-2.4 M619.5 503.11 h2.4 M1088.2 503.11 h-2.4 M619.5 498.68 h2.4 M1088.2 498.68 h-2.4 M619.5 495.22 h2.4 M1088.2 495.22 h-2.4 M619.5 492.39 h2.4 M1088.2 492.39 h-2.4 M619.5 489.99 h2.4 M1088.2 489.99 h-2.4 M619.5 487.91 h2.4 M1088.2 487.91 h-2.4 M619.5 446.82 h2.4 M1088.2 446.82 h-2.4 M619.5 436.55 h2.4 M1088.2 436.55 h-2.4 M619.5 430.37 h2.4 M1088.2 430.37 h-2.4 M619.5 425.94 h2.4 M1088.2 425.94 h-2.4 M619.5 422.49 h2.4 M1088.2 422.49 h-2.4 M619.5 419.66 h2.4 M1088.2 419.66 h-2.4 M619.5 417.26 h2.4 M1088.2 417.26 h-2.4 M619.5 415.17 h2.4 M1088.2 415.17 h-2.4 M619.5 374.09 h2.4 M1088.2 374.09 h-2.4 M619.5 363.81 h2.4 M1088.2 363.81 h-2.4 M619.5 357.64 h2.4 M1088.2 357.64 h-2.4 M619.5 353.21 h2.4 M1088.2 353.21 h-2.4 M619.5 349.76 h2.4 M1088.2 349.76 h-2.4 M619.5 346.93 h2.4 M1088.2 346.93 h-2.4 M619.5 344.52 h2.4 M1088.2 344.52 h-2.4 M619.5 342.44 h2.4 M1088.2 342.44 h-2.4 M619.5 301.35 h2.4 M1088.2 301.35 h-2.4 M619.5 291.08 h2.4 M1088.2 291.08 h-2.4 M619.5 284.91 h2.4 M1088.2 284.91 h-2.4 M619.5 280.48 h2.4 M1088.2 280.48 h-2.4 M619.5 277.02 h2.4 M1088.2 277.02 h-2.4 M619.5 274.19 h2.4 M1088.2 274.19 h-2.4 M619.5 271.79 h2.4 M1088.2 271.79 h-2.4 M619.5 269.71 h2.4 M1088.2 269.71 h-2.4 M619.5 228.62 h2.4 M1088.2 228.62 h-2.4 M619.5 218.35 h2.4 M1088.2 218.35 h-2.4 M619.5 212.17 h2.4 M1088.2 212.17 h-2.4 M619.5 207.74 h2.4 M1088.2 207.74 h-2.4 M619.5 204.29 h2.4 M1088.2 204.29 h-2.4 M619.5 201.46 h2.4 M1088.2 201.46 h-2.4 M619.5 199.06 h2.4 M1088.2 199.06 h-2.4 M619.5 196.97 h2.4 M1088.2 196.97 h-2.4 M619.5 155.89 h2.4 M1088.2 155.89 h-2.4 M619.5 145.61 h2.4 M1088.2 145.61 h-2.4 M619.5 139.44 h2.4 M1088.2 139.44 h-2.4 M619.5 135.01 h2.4 M1088.2 135.01 h-2.4 M619.5 131.56 h2.4 M1088.2 131.56 h-2.4 M619.5 128.73 h2.4 M1088.2 128.73 h-2.4 M619.5 126.32 h2.4 M1088.2 126.32 h-2.4 M619.5 124.24 h2.4 M1088.2 124.24 h-2.4 M619.5 83.15 h2.4 M1088.2 83.15 h-2.4 M619.5 72.88 h2.4 M1088.2 72.88 h-2.4 M619.5 66.71 h2.4 M1088.2 66.71 h-2.4 M619.5 62.28 h2.4 M1088.2 62.28 h-2.4 M619.5 58.82 h2.4 M1088.2 58.82 h-2.4 M619.5 55.99 h2.4 M1088.2 55.99 h-2.4 M619.5 53.59 h2.4 M1088.2 53.59 h-2.4 M619.5 51.51 h2.4 M1088.2 51.51 h-2.4" stroke="#000" stroke-width="0.9" fill="none"/>
<rect x="619.5" y="13.3" width="468.7" height="545.5" fill="none" stroke="#000" stroke-width="0.85"/>
<text x="612" y="564.2" text-anchor="end" font-size="14.7">10<tspan dy="-5.4" font-size="11.7">-20</tspan></text>
<text x="612" y="491.47" text-anchor="end" font-size="14.7">10<tspan dy="-5.4" font-size="11.7">-18</tspan></text>
<text x="612" y="418.73" text-anchor="end" font-size="14.7">10<tspan dy="-5.4" font-size="11.7">-16</tspan></text>
<text x="612" y="346" text-anchor="end" font-size="14.7">10<tspan dy="-5.4" font-size="11.7">-14</tspan></text>
<text x="612" y="273.27" text-anchor="end" font-size="14.7">10<tspan dy="-5.4" font-size="11.7">-12</tspan></text>
<text x="612" y="200.53" text-anchor="end" font-size="14.7">10<tspan dy="-5.4" font-size="11.7">-10</tspan></text>
<text x="612" y="127.8" text-anchor="end" font-size="14.7">10<tspan dy="-5.4" font-size="11.7">-8</tspan></text>
<text x="612" y="55.07" text-anchor="end" font-size="14.7">10<tspan dy="-5.4" font-size="11.7">-6</tspan></text>
<text x="619.5" y="577.6" text-anchor="middle" font-size="14.7">10<tspan dy="-5.4" font-size="11.7">0</tspan></text>
<text x="793.16" y="577.6" text-anchor="middle" font-size="14.7">10<tspan dy="-5.4" font-size="11.7">1</tspan></text>
<text x="966.82" y="577.6" text-anchor="middle" font-size="14.7">10<tspan dy="-5.4" font-size="11.7">2</tspan></text>
<text x="853.85" y="599.2" text-anchor="middle" font-size="18.6">Time (days)</text>
<text transform="translate(577.5 286.05) rotate(-90)" text-anchor="middle" font-size="18.6">Flux Density (mJy)</text>
<text x="1038.7" y="29.7" text-anchor="middle" font-size="13.0" textLength="83.8" lengthAdjust="spacingAndGlyphs">Cocoon (SSC)</text>
<text x="1019.2" y="42.9" text-anchor="middle" font-size="13.0">hom</text>
<text x="1015.45" y="55.5" text-anchor="middle" font-size="13.0">wind</text>
<path d="M1040 37.9 H1074" stroke="#000" stroke-width="1.5"/>
<path d="M1040 50.7 H1074" stroke="#000" stroke-width="1.5" stroke-dasharray="4 3.6"/>
<text x="853.5" y="500.5" text-anchor="middle" font-size="18.4" fill="#9400d3">X-ray @ 100 keV</text>
<text x="853.5" y="522.15" text-anchor="middle" font-size="18.4" fill="#009e73">γ-ray @ 100 MeV</text>
<text x="853.5" y="543.8" text-anchor="middle" font-size="18.4" fill="#56b4e9">γ-ray @ 100 GeV</text>
<clipPath id="clipBL"><rect x="54.05" y="618.6" width="475.65" height="544"/></clipPath>
<g clip-path="url(#clipBL)" fill="none" stroke-width="1.5" stroke-linejoin="round">
<path d="M235.42 1166.34 L239.88 1162.32 L240.31 1161.94 L240.73 1161.56 L241.16 1161.17 L241.58 1160.79 L242.01 1160.4 L242.43 1160.02 L242.85 1159.63 L243.28 1159.25 L243.7 1158.87 L244.12 1158.48 L244.55 1158.1 L244.97 1157.71 L245.39 1157.33 L245.81 1156.94 L246.24 1156.56 L246.66 1156.17 L247.08 1155.79 L247.5 1155.4 L247.92 1155.01 L248.34 1154.63 L248.76 1154.24 L249.18 1153.86 L249.6 1153.47 L250.02 1153.09 L250.44 1152.7 L250.86 1152.32 L251.28 1151.93 L251.7 1151.55 L252.12 1151.16 L252.54 1150.78 L252.96 1150.39 L253.38 1150 L253.8 1149.62 L254.22 1149.23 L254.64 1148.85 L255.06 1148.46 L255.48 1148.08 L255.9 1147.69 L256.31 1147.31 L256.73 1146.92 L257.15 1146.54 L257.57 1146.16 L257.99 1145.77 L258.41 1145.39 L258.83 1145 L259.24 1144.62 L259.66 1144.23 L260.08 1143.85 L260.5 1143.47 L260.92 1143.08 L261.34 1142.7 L261.76 1142.32 L262.18 1141.93 L262.59 1141.55 L263.01 1141.17 L263.43 1140.78 L263.85 1140.4 L264.27 1140.02 L264.69 1139.64 L265.11 1139.26 L265.53 1138.87 L265.95 1138.49 L266.37 1138.11 L266.79 1137.73 L267.21 1137.35 L267.63 1136.97 L268.05 1136.59 L268.47 1136.21 L268.89 1135.83 L269.31 1135.45 L269.73 1135.07 L270.15 1134.69 L270.57 1134.31 L271 1133.93 L271.42 1133.55 L271.84 1133.18 L272.26 1132.8 L272.68 1132.42 L273.11 1132.05 L273.53 1131.67 L273.95 1131.29 L274.38 1130.92 L274.8 1130.54 L275.22 1130.17 L275.65 1129.79 L276.07 1129.42 L276.5 1129.04 L276.92 1128.67 L277.35 1128.29 L277.77 1127.92 L278.2 1127.55 L278.63 1127.18 L279.05 1126.8 L279.48 1126.43 L279.91 1126.06 L280.34 1125.69 L280.77 1125.32 L281.19 1124.95 L281.62 1124.58 L282.05 1124.21 L282.48 1123.84 L282.91 1123.47 L283.34 1123.11 L283.77 1122.74 L284.21 1122.37 L284.64 1122 L285.07 1121.64 L285.5 1121.27 L285.94 1120.91 L286.37 1120.54 L286.8 1120.18 L287.24 1119.82 L287.67 1119.45 L288.11 1119.09 L288.55 1118.73 L288.98 1118.37 L289.42 1118.01 L289.86 1117.65 L290.3 1117.29 L290.74 1116.93 L291.18 1116.57 L291.62 1116.21 L292.06 1115.85 L292.5 1115.49 L292.94 1115.14 L293.38 1114.78 L293.82 1114.43 L294.27 1114.07 L294.71 1113.72 L295.16 1113.36 L295.6 1113.01 L296.05 1112.66 L296.49 1112.31 L296.94 1111.96 L297.39 1111.61 L297.84 1111.26 L298.29 1110.91 L298.74 1110.56 L299.19 1110.21 L299.64 1109.86 L300.09 1109.52 L300.54 1109.17 L301 1108.83 L301.45 1108.48 L301.9 1108.14 L302.36 1107.8 L302.82 1107.45 L303.27 1107.11 L303.73 1106.77 L304.19 1106.43 L304.65 1106.09 L305.11 1105.75 L305.57 1105.41 L306.03 1105.08 L306.49 1104.74 L306.96 1104.4 L307.42 1104.07 L307.89 1103.74 L308.35 1103.4 L308.82 1103.07 L309.28 1102.74 L309.75 1102.41 L310.22 1102.08 L310.69 1101.75 L311.16 1101.42 L311.63 1101.09 L312.11 1100.76 L312.58 1100.44 L313.05 1100.11 L313.53 1099.79 L314.01 1099.46 L314.48 1099.14 L314.96 1098.82 L315.44 1098.5 L315.92 1098.18 L316.4 1097.86 L316.88 1097.54 L317.36 1097.22 L317.85 1096.9 L318.33 1096.59 L318.82 1096.27 L319.3 1095.96 L319.79 1095.65 L320.28 1095.33 L320.77 1095.02 L321.26 1094.71 L321.75 1094.4 L322.24 1094.09 L322.74 1093.79 L323.23 1093.48 L323.73 1093.17 L324.23 1092.87 L324.72 1092.57 L325.22 1092.26 L325.72 1091.96 L326.22 1091.66 L326.73 1091.36 L327.23 1091.06 L327.73 1090.76 L328.24 1090.47 L328.75 1090.17 L329.25 1089.88 L329.76 1089.58 L330.27 1089.29 L330.78 1089 L331.29 1088.71 L331.81 1088.42 L332.32 1088.14 L332.84 1087.85 L333.35 1087.57 L333.87 1087.28 L334.38 1087 L334.9 1086.72 L335.42 1086.44 L335.94 1086.17 L336.46 1085.89 L336.98 1085.62 L337.51 1085.34 L338.03 1085.07 L338.56 1084.8 L339.08 1084.53 L339.61 1084.27 L340.13 1084 L340.66 1083.74 L341.19 1083.48 L341.72 1083.22 L342.25 1082.96 L342.78 1082.71 L343.31 1082.45 L343.84 1082.2 L344.37 1081.95 L344.91 1081.7 L345.44 1081.46 L345.97 1081.21 L346.51 1080.97 L347.05 1080.73 L347.58 1080.49 L348.12 1080.26 L348.66 1080.02 L349.19 1079.79 L349.73 1079.56 L350.27 1079.34 L350.81 1079.11 L351.35 1078.89 L351.89 1078.67 L352.44 1078.45 L352.98 1078.23 L353.52 1078.02 L354.06 1077.81 L354.61 1077.6 L355.15 1077.39 L355.69 1077.19 L356.24 1076.99 L356.78 1076.79 L357.33 1076.59 L357.88 1076.4 L358.42 1076.21 L358.97 1076.02 L359.52 1075.84 L360.06 1075.65 L360.61 1075.47 L361.16 1075.29 L361.71 1075.12 L362.26 1074.95 L362.8 1074.78 L363.35 1074.61 L363.9 1074.45 L364.45 1074.29 L365 1074.13 L365.55 1073.98 L366.1 1073.82 L366.65 1073.68 L367.2 1073.53 L367.76 1073.39 L368.31 1073.25 L368.86 1073.11 L369.41 1072.98 L369.96 1072.85 L370.51 1072.72 L371.06 1072.6 L371.62 1072.48 L372.17 1072.36 L372.72 1072.25 L373.27 1072.14 L373.82 1072.03 L374.38 1071.92 L374.93 1071.82 L375.48 1071.73 L376.03 1071.63 L376.58 1071.54 L377.14 1071.46 L377.69 1071.37 L378.24 1071.3 L378.79 1071.22 L379.34 1071.15 L379.9 1071.08 L380.45 1071.01 L381 1070.95 L381.55 1070.9 L382.1 1070.84 L382.65 1070.79 L383.2 1070.75 L383.76 1070.7 L384.31 1070.67 L384.86 1070.63 L385.41 1070.6 L385.96 1070.57 L386.51 1070.55 L387.06 1070.53 L387.61 1070.52 L388.15 1070.51 L388.7 1070.5 L389.25 1070.5 L389.8 1070.5 L390.35 1070.51 L390.9 1070.52 L391.44 1070.53 L391.99 1070.55 L392.54 1070.57 L393.08 1070.6 L393.63 1070.63 L394.17 1070.67 L394.72 1070.71 L395.26 1070.75 L395.81 1070.8 L396.35 1070.86 L396.89 1070.91 L397.44 1070.98 L397.98 1071.04 L398.52 1071.12 L399.06 1071.19 L399.6 1071.27 L400.14 1071.36 L400.68 1071.45 L401.22 1071.54 L401.76 1071.64 L402.3 1071.74 L402.84 1071.85 L403.37 1071.96 L403.91 1072.08 L404.44 1072.2 L404.98 1072.32 L405.51 1072.45 L406.05 1072.58 L406.58 1072.72 L407.11 1072.86 L407.64 1073.01 L408.17 1073.16 L408.7 1073.31 L409.23 1073.47 L409.76 1073.63 L410.29 1073.8 L410.81 1073.96 L411.34 1074.14 L411.86 1074.31 L412.39 1074.5 L412.91 1074.68 L413.43 1074.87 L413.96 1075.06 L414.48 1075.26 L415 1075.46 L415.52 1075.66 L416.03 1075.86 L416.55 1076.07 L417.07 1076.29 L417.58 1076.51 L418.1 1076.73 L418.61 1076.95 L419.12 1077.18 L419.63 1077.41 L420.14 1077.64 L420.65 1077.88 L421.16 1078.12 L421.67 1078.37 L422.17 1078.61 L422.68 1078.86 L423.18 1079.12 L423.68 1079.37 L424.18 1079.63 L424.68 1079.9 L425.18 1080.16 L425.68 1080.43 L426.18 1080.7 L426.67 1080.98 L427.16 1081.26 L427.66 1081.54 L428.15 1081.82 L428.64 1082.11 L429.13 1082.4 L429.61 1082.69 L430.1 1082.98 L430.59 1083.28 L431.07 1083.58 L431.55 1083.89 L432.03 1084.19 L432.51 1084.5 L432.99 1084.81 L433.47 1085.12 L433.94 1085.44 L434.42 1085.76 L434.89 1086.08 L435.36 1086.4 L435.83 1086.73 L436.3 1087.05 L436.77 1087.38 L437.24 1087.72 L437.7 1088.05 L438.17 1088.39 L438.63 1088.73 L439.09 1089.07 L439.56 1089.41 L440.02 1089.76 L440.47 1090.1 L440.93 1090.45 L441.39 1090.8 L441.84 1091.16 L442.3 1091.51 L442.75 1091.87 L443.2 1092.23 L443.65 1092.59 L444.1 1092.95 L444.55 1093.32 L445 1093.68 L445.45 1094.05 L445.89 1094.42 L446.34 1094.79 L446.78 1095.17 L447.22 1095.54 L447.67 1095.92 L448.11 1096.3 L448.55 1096.67 L448.99 1097.06 L449.42 1097.44 L449.86 1097.82 L450.3 1098.21 L450.73 1098.59 L451.16 1098.98 L451.6 1099.37 L452.03 1099.76 L452.46 1100.15 L452.89 1100.54 L453.32 1100.94 L453.75 1101.33 L454.18 1101.73 L454.6 1102.13 L455.03 1102.53 L455.45 1102.92 L455.88 1103.32 L456.3 1103.73 L456.72 1104.13 L457.15 1104.53 L457.57 1104.94 L457.99 1105.34 L458.41 1105.75 L458.83 1106.15 L459.24 1106.56 L459.66 1106.97 L460.08 1107.38 L460.49 1107.79 L460.91 1108.2 L461.32 1108.61 L461.74 1109.02 L462.15 1109.43 L462.56 1109.84 L462.97 1110.25 L463.38 1110.67 L463.79 1111.08 L464.2 1111.49 L464.61 1111.91 L465.02 1112.32 L465.43 1112.74 L465.84 1113.15 L466.24 1113.57 L466.65 1113.98 L467.05 1114.4 L467.46 1114.81 L467.86 1115.23 L468.27 1115.65 L468.67 1116.06 L469.07 1116.48 L469.48 1116.9 L469.88 1117.32 L470.28 1117.73 L470.68 1118.15 L471.08 1118.57 L471.48 1118.99 L471.88 1119.4 L472.28 1119.82 L472.68 1120.24 L473.08 1120.66 L473.48 1121.07 L473.88 1121.49 L474.28 1121.91 L474.68 1122.32 L475.08 1122.74 L475.48 1123.16 L475.87 1123.58 L476.27 1123.99 L476.67 1124.41 L477.07 1124.82 L477.47 1125.24 L477.86 1125.66 L478.26 1126.07 L478.66 1126.49 L479.06 1126.9 L479.46 1127.32 L479.85 1127.73 L480.25 1128.15 L480.65 1128.56 L481.05 1128.97 L481.45 1129.39 L481.84 1129.8 L482.24 1130.21 L482.64 1130.62 L483.04 1131.03 L483.44 1131.44 L483.84 1131.85 L484.24 1132.26 L484.64 1132.67 L485.04 1133.08 L485.44 1133.49 L485.84 1133.9 L486.24 1134.3 L486.64 1134.71 L487.04 1135.11 L487.44 1135.52 L487.84 1135.92 L488.25 1136.33 L488.65 1136.73 L489.05 1137.13 L489.46 1137.53 L489.86 1137.93 L490.27 1138.33 L490.67 1138.73 L491.08 1139.13 L491.49 1139.52 L491.89 1139.92 L492.3 1140.32 L492.71 1140.71 L493.12 1141.1 L493.53 1141.5 L493.94 1141.89 L494.35 1142.28 L494.76 1142.67 L495.17 1143.06 L495.58 1143.44 L496 1143.83 L496.41 1144.21 L496.83 1144.6 L497.24 1144.98 L497.66 1145.36 L498.08 1145.74 L498.5 1146.12 L498.92 1146.5 L499.34 1146.88 L499.76 1147.26 L500.18 1147.63 L500.6 1148 L501.03 1148.38 L501.45 1148.75 L501.88 1149.12 L502.3 1149.49 L502.73 1149.85 L503.16 1150.22 L503.59 1150.58 L504.02 1150.95 L504.45 1151.31 L504.89 1151.67 L505.32 1152.03 L505.76 1152.38 L506.19 1152.74 L506.63 1153.09 L507.07 1153.44 L507.51 1153.8 L507.95 1154.15 L508.4 1154.49 L508.84 1154.84 L509.29 1155.18 L509.73 1155.53 L510.18 1155.87 L510.63 1156.21 L511.08 1156.55 L511.53 1156.88 L511.99 1157.22 L512.44 1157.55 L512.9 1157.88 L513.35 1158.21 L513.81 1158.54 L514.27 1158.86 L514.74 1159.19 L515.2 1159.51 L515.66 1159.83 L516.13 1160.15 L516.6 1160.46 L517.07 1160.78 L517.54 1161.09 L518.01 1161.4 L518.49 1161.71 L518.97 1162.02 L524 1165.29" stroke="#56b4e9"/>
<path d="M111.4 1166.68 L115.76 1162.56 L116.4 1161.96 L117.04 1161.36 L117.68 1160.76 L118.31 1160.16 L118.95 1159.56 L119.59 1158.96 L120.22 1158.35 L120.86 1157.75 L121.5 1157.15 L122.13 1156.55 L122.77 1155.95 L123.4 1155.35 L124.04 1154.75 L124.67 1154.14 L125.31 1153.54 L125.94 1152.94 L126.58 1152.34 L127.21 1151.74 L127.85 1151.14 L128.48 1150.54 L129.11 1149.94 L129.75 1149.33 L130.38 1148.73 L131.02 1148.13 L131.65 1147.53 L132.28 1146.93 L132.92 1146.33 L133.55 1145.73 L134.18 1145.13 L134.82 1144.53 L135.45 1143.93 L136.08 1143.33 L136.71 1142.73 L137.35 1142.13 L137.98 1141.53 L138.61 1140.93 L139.24 1140.33 L139.88 1139.73 L140.51 1139.13 L141.14 1138.53 L141.77 1137.93 L142.4 1137.33 L143.04 1136.73 L143.67 1136.13 L144.3 1135.53 L144.93 1134.93 L145.56 1134.33 L146.2 1133.73 L146.83 1133.14 L147.46 1132.54 L148.09 1131.94 L148.72 1131.34 L149.36 1130.74 L149.99 1130.15 L150.62 1129.55 L151.25 1128.95 L151.88 1128.35 L152.51 1127.76 L153.15 1127.16 L153.78 1126.56 L154.41 1125.97 L155.04 1125.37 L155.68 1124.77 L156.31 1124.18 L156.94 1123.58 L157.57 1122.99 L158.21 1122.39 L158.84 1121.8 L159.47 1121.2 L160.1 1120.61 L160.74 1120.01 L161.37 1119.42 L162 1118.83 L162.64 1118.23 L163.27 1117.64 L163.9 1117.05 L164.54 1116.45 L165.17 1115.86 L165.8 1115.27 L166.44 1114.68 L167.07 1114.09 L167.71 1113.49 L168.34 1112.9 L168.98 1112.31 L169.61 1111.72 L170.25 1111.13 L170.88 1110.54 L171.52 1109.95 L172.15 1109.36 L172.79 1108.77 L173.42 1108.19 L174.06 1107.6 L174.7 1107.01 L175.33 1106.42 L175.97 1105.83 L176.61 1105.25 L177.24 1104.66 L177.88 1104.07 L178.52 1103.49 L179.16 1102.9 L179.8 1102.32 L180.43 1101.73 L181.07 1101.15 L181.71 1100.56 L182.35 1099.98 L182.99 1099.4 L183.63 1098.81 L184.27 1098.23 L184.91 1097.65 L185.55 1097.07 L186.19 1096.48 L186.83 1095.9 L187.48 1095.32 L188.12 1094.74 L188.76 1094.16 L189.4 1093.58 L190.04 1093 L190.69 1092.42 L191.33 1091.85 L191.98 1091.27 L192.62 1090.69 L193.26 1090.11 L193.91 1089.54 L194.55 1088.96 L195.2 1088.38 L195.85 1087.81 L196.49 1087.23 L197.14 1086.66 L197.79 1086.09 L198.43 1085.51 L199.08 1084.94 L199.73 1084.37 L200.38 1083.8 L201.03 1083.22 L201.68 1082.65 L202.33 1082.08 L202.98 1081.51 L203.63 1080.94 L204.28 1080.37 L204.93 1079.81 L205.58 1079.24 L206.23 1078.67 L206.89 1078.1 L207.54 1077.54 L208.2 1076.97 L208.85 1076.4 L209.5 1075.84 L210.16 1075.28 L210.82 1074.71 L211.47 1074.15 L212.13 1073.59 L212.79 1073.02 L213.44 1072.46 L214.1 1071.9 L214.76 1071.34 L215.42 1070.78 L216.08 1070.22 L216.74 1069.66 L217.4 1069.1 L218.06 1068.55 L218.72 1067.99 L219.39 1067.43 L220.05 1066.88 L220.71 1066.32 L221.38 1065.77 L222.04 1065.21 L222.71 1064.66 L223.37 1064.11 L224.04 1063.55 L224.71 1063 L225.37 1062.45 L226.04 1061.9 L226.71 1061.35 L227.38 1060.8 L228.05 1060.25 L228.72 1059.71 L229.39 1059.16 L230.07 1058.61 L230.74 1058.07 L231.41 1057.52 L232.08 1056.98 L232.76 1056.43 L233.43 1055.89 L234.11 1055.35 L234.79 1054.8 L235.46 1054.26 L236.14 1053.72 L236.82 1053.18 L237.5 1052.64 L238.18 1052.11 L238.86 1051.57 L239.54 1051.03 L240.22 1050.49 L240.9 1049.96 L241.59 1049.42 L242.27 1048.89 L242.96 1048.36 L243.64 1047.82 L244.33 1047.29 L245.01 1046.76 L245.7 1046.23 L246.39 1045.7 L247.08 1045.17 L247.77 1044.64 L248.46 1044.12 L249.15 1043.59 L249.84 1043.06 L250.54 1042.54 L251.23 1042.01 L251.92 1041.49 L252.62 1040.97 L253.32 1040.45 L254.01 1039.93 L254.71 1039.41 L255.41 1038.89 L256.11 1038.37 L256.81 1037.85 L257.51 1037.33 L258.21 1036.82 L258.91 1036.3 L259.61 1035.79 L260.32 1035.28 L261.02 1034.76 L261.73 1034.25 L262.43 1033.74 L263.14 1033.23 L263.85 1032.72 L264.56 1032.22 L265.27 1031.71 L265.98 1031.21 L266.69 1030.7 L267.4 1030.2 L268.11 1029.69 L268.83 1029.19 L269.54 1028.69 L270.26 1028.19 L270.97 1027.69 L271.69 1027.2 L272.41 1026.7 L273.13 1026.2 L273.85 1025.71 L274.57 1025.22 L275.29 1024.72 L276.01 1024.23 L276.73 1023.74 L277.46 1023.25 L278.18 1022.77 L278.91 1022.28 L279.63 1021.79 L280.36 1021.31 L281.09 1020.83 L281.82 1020.34 L282.55 1019.86 L283.28 1019.38 L284.01 1018.9 L284.75 1018.43 L285.48 1017.95 L286.22 1017.47 L286.95 1017 L287.69 1016.53 L288.43 1016.06 L289.16 1015.58 L289.9 1015.12 L290.64 1014.65 L291.38 1014.18 L292.13 1013.71 L292.87 1013.25 L293.61 1012.79 L294.36 1012.32 L295.11 1011.86 L295.85 1011.4 L296.6 1010.95 L297.35 1010.49 L298.1 1010.03 L298.85 1009.58 L299.6 1009.13 L300.36 1008.68 L301.11 1008.23 L301.86 1007.78 L302.62 1007.33 L303.38 1006.88 L304.13 1006.44 L304.89 1006 L305.65 1005.55 L306.41 1005.11 L307.18 1004.67 L307.94 1004.24 L308.7 1003.8 L309.47 1003.36 L310.23 1002.93 L311 1002.5 L311.77 1002.07 L312.54 1001.64 L313.31 1001.21 L314.08 1000.78 L314.85 1000.36 L315.62 999.94 L316.4 999.52 L317.17 999.1 L317.95 998.68 L318.73 998.26 L319.51 997.85 L320.28 997.44 L321.07 997.03 L321.85 996.63 L322.63 996.23 L323.41 995.82 L324.2 995.43 L324.98 995.03 L325.77 994.64 L326.56 994.25 L327.35 993.87 L328.14 993.48 L328.93 993.1 L329.72 992.73 L330.52 992.36 L331.31 991.99 L332.11 991.62 L332.9 991.26 L333.7 990.9 L334.5 990.55 L335.3 990.2 L336.1 989.86 L336.91 989.51 L337.71 989.18 L338.51 988.85 L339.32 988.52 L340.13 988.19 L340.94 987.87 L341.75 987.56 L342.56 987.25 L343.37 986.95 L344.18 986.65 L344.99 986.35 L345.81 986.06 L346.63 985.78 L347.44 985.5 L348.26 985.23 L349.08 984.96 L349.9 984.7 L350.73 984.45 L351.55 984.21 L352.37 983.97 L353.2 983.74 L354.03 983.51 L354.86 983.29 L355.68 983.09 L356.52 982.89 L357.35 982.69 L358.18 982.51 L359.01 982.34 L359.85 982.17 L360.69 982.01 L361.53 981.87 L362.36 981.73 L363.21 981.6 L364.05 981.48 L364.89 981.38 L365.73 981.28 L366.58 981.2 L367.43 981.12 L368.27 981.06 L369.12 981 L369.97 980.96 L370.82 980.93 L371.67 980.91 L372.52 980.89 L373.38 980.89 L374.23 980.9 L375.08 980.92 L375.94 980.95 L376.79 980.99 L377.64 981.03 L378.49 981.09 L379.35 981.16 L380.2 981.24 L381.05 981.32 L381.9 981.42 L382.76 981.52 L383.61 981.64 L384.46 981.76 L385.3 981.89 L386.15 982.03 L387 982.18 L387.85 982.34 L388.69 982.51 L389.53 982.69 L390.38 982.87 L391.22 983.07 L392.06 983.27 L392.89 983.48 L393.73 983.7 L394.56 983.92 L395.39 984.16 L396.22 984.4 L397.05 984.65 L397.87 984.91 L398.7 985.18 L399.52 985.45 L400.34 985.73 L401.15 986.02 L401.96 986.32 L402.77 986.62 L403.58 986.93 L404.38 987.25 L405.18 987.57 L405.98 987.91 L406.77 988.25 L407.56 988.59 L408.35 988.94 L409.14 989.3 L409.92 989.67 L410.69 990.04 L411.46 990.42 L412.23 990.81 L413 991.2 L413.76 991.6 L414.52 992 L415.28 992.41 L416.03 992.83 L416.78 993.25 L417.52 993.68 L418.26 994.11 L419 994.55 L419.74 995 L420.47 995.45 L421.2 995.9 L421.93 996.37 L422.65 996.83 L423.37 997.3 L424.09 997.78 L424.8 998.26 L425.51 998.75 L426.22 999.24 L426.93 999.74 L427.63 1000.24 L428.33 1000.75 L429.03 1001.26 L429.72 1001.77 L430.41 1002.29 L431.1 1002.81 L431.79 1003.34 L432.47 1003.87 L433.15 1004.41 L433.83 1004.95 L434.51 1005.49 L435.18 1006.04 L435.85 1006.59 L436.52 1007.14 L437.19 1007.7 L437.85 1008.26 L438.51 1008.83 L439.17 1009.4 L439.83 1009.97 L440.49 1010.54 L441.14 1011.12 L441.79 1011.7 L442.44 1012.29 L443.09 1012.87 L443.73 1013.46 L444.37 1014.06 L445.02 1014.65 L445.65 1015.25 L446.29 1015.85 L446.93 1016.45 L447.56 1017.05 L448.19 1017.66 L448.82 1018.27 L449.45 1018.88 L450.07 1019.49 L450.7 1020.11 L451.32 1020.72 L451.94 1021.34 L452.56 1021.96 L453.18 1022.58 L453.8 1023.21 L454.41 1023.83 L455.03 1024.45 L455.64 1025.08 L456.25 1025.71 L456.86 1026.34 L457.47 1026.97 L458.08 1027.6 L458.68 1028.23 L459.29 1028.86 L459.89 1029.49 L460.49 1030.13 L461.09 1030.76 L461.69 1031.4 L462.29 1032.03 L462.89 1032.67 L463.49 1033.3 L464.09 1033.94 L464.68 1034.57 L465.28 1035.21 L465.87 1035.85 L466.46 1036.49 L467.06 1037.12 L467.65 1037.76 L468.24 1038.4 L468.83 1039.04 L469.42 1039.68 L470.01 1040.32 L470.6 1040.95 L471.19 1041.59 L471.78 1042.23 L472.37 1042.87 L472.96 1043.51 L473.55 1044.15 L474.13 1044.78 L474.72 1045.42 L475.31 1046.06 L475.9 1046.7 L476.49 1047.34 L477.07 1047.97 L477.66 1048.61 L478.25 1049.25 L478.84 1049.88 L479.43 1050.52 L480.02 1051.15 L480.61 1051.79 L481.19 1052.42 L481.78 1053.05 L482.38 1053.69 L482.97 1054.32 L483.56 1054.95 L484.15 1055.58 L484.74 1056.21 L485.34 1056.84 L485.93 1057.47 L486.52 1058.1 L487.12 1058.73 L487.72 1059.35 L488.31 1059.98 L488.91 1060.61 L489.51 1061.23 L490.11 1061.85 L490.71 1062.47 L491.31 1063.09 L491.92 1063.71 L492.52 1064.33 L493.13 1064.95 L493.73 1065.57 L494.34 1066.18 L494.95 1066.8 L495.56 1067.41 L496.17 1068.02 L496.79 1068.63 L497.4 1069.24 L498.02 1069.85 L498.64 1070.45 L499.26 1071.06 L499.88 1071.66 L500.5 1072.26 L501.13 1072.86 L501.75 1073.46 L502.38 1074.06 L503.01 1074.65 L503.65 1075.25 L504.28 1075.84 L504.92 1076.43 L505.55 1077.02 L506.19 1077.6 L506.83 1078.19 L507.48 1078.77 L508.12 1079.35 L508.77 1079.93 L509.42 1080.51 L510.07 1081.09 L510.73 1081.66 L511.38 1082.23 L512.04 1082.8 L512.7 1083.37 L513.36 1083.93 L514.02 1084.5 L514.69 1085.06 L515.36 1085.61 L516.03 1086.17 L516.7 1086.73 L517.38 1087.28 L518.06 1087.83 L518.74 1088.37 L519.42 1088.92 L520.1 1089.46 L520.79 1090 L521.48 1090.54 L522.17 1091.07 L522.86 1091.6 L523.56 1092.13 L524.26 1092.66 L524.96 1093.19 L525.67 1093.71 L526.37 1094.23 L527.08 1094.74 L527.79 1095.26 L528.51 1095.77 L529.23 1096.27 L529.94 1096.78 L530.67 1097.28 L535.58 1100.73" stroke="#009e73"/>
<path d="M99.83 1168.09 L103.04 1163.02 L103.59 1162.15 L104.13 1161.29 L104.68 1160.43 L105.23 1159.56 L105.78 1158.7 L106.32 1157.84 L106.88 1156.98 L107.43 1156.13 L107.98 1155.27 L108.53 1154.41 L109.08 1153.56 L109.64 1152.7 L110.19 1151.85 L110.75 1151 L111.3 1150.14 L111.86 1149.29 L112.42 1148.44 L112.97 1147.59 L113.53 1146.75 L114.09 1145.9 L114.65 1145.05 L115.21 1144.21 L115.77 1143.36 L116.33 1142.52 L116.9 1141.67 L117.46 1140.83 L118.02 1139.99 L118.59 1139.15 L119.15 1138.31 L119.72 1137.47 L120.28 1136.63 L120.85 1135.8 L121.42 1134.96 L121.99 1134.12 L122.56 1133.29 L123.13 1132.45 L123.7 1131.62 L124.27 1130.79 L124.84 1129.96 L125.41 1129.12 L125.98 1128.29 L126.56 1127.46 L127.13 1126.63 L127.71 1125.81 L128.28 1124.98 L128.86 1124.15 L129.43 1123.33 L130.01 1122.5 L130.59 1121.68 L131.17 1120.85 L131.74 1120.03 L132.32 1119.21 L132.9 1118.38 L133.48 1117.56 L134.07 1116.74 L134.65 1115.92 L135.23 1115.1 L135.81 1114.29 L136.4 1113.47 L136.98 1112.65 L137.56 1111.83 L138.15 1111.02 L138.74 1110.2 L139.32 1109.39 L139.91 1108.57 L140.5 1107.76 L141.08 1106.95 L141.67 1106.14 L142.26 1105.32 L142.85 1104.51 L143.44 1103.7 L144.03 1102.89 L144.62 1102.08 L145.21 1101.28 L145.81 1100.47 L146.4 1099.66 L146.99 1098.85 L147.59 1098.05 L148.18 1097.24 L148.77 1096.44 L149.37 1095.63 L149.97 1094.83 L150.56 1094.02 L151.16 1093.22 L151.76 1092.42 L152.35 1091.62 L152.95 1090.81 L153.55 1090.01 L154.15 1089.21 L154.75 1088.41 L155.35 1087.61 L155.95 1086.81 L156.55 1086.02 L157.15 1085.22 L157.76 1084.42 L158.36 1083.62 L158.96 1082.83 L159.56 1082.03 L160.17 1081.23 L160.77 1080.44 L161.38 1079.64 L161.98 1078.85 L162.59 1078.06 L163.2 1077.26 L163.8 1076.47 L164.41 1075.68 L165.02 1074.88 L165.62 1074.09 L166.23 1073.3 L166.84 1072.51 L167.45 1071.72 L168.06 1070.93 L168.67 1070.14 L169.28 1069.35 L169.89 1068.56 L170.5 1067.77 L171.12 1066.98 L171.73 1066.19 L172.34 1065.41 L172.95 1064.62 L173.57 1063.83 L174.18 1063.04 L174.8 1062.26 L175.41 1061.47 L176.03 1060.69 L176.64 1059.9 L177.26 1059.11 L177.87 1058.33 L178.49 1057.55 L179.11 1056.76 L179.72 1055.98 L180.34 1055.19 L180.96 1054.41 L181.58 1053.63 L182.2 1052.84 L182.82 1052.06 L183.43 1051.28 L184.05 1050.5 L184.67 1049.71 L185.3 1048.93 L185.92 1048.15 L186.54 1047.37 L187.16 1046.59 L187.78 1045.81 L188.4 1045.03 L189.03 1044.25 L189.65 1043.47 L190.27 1042.69 L190.9 1041.91 L191.52 1041.13 L192.14 1040.35 L192.77 1039.57 L193.39 1038.79 L194.02 1038.01 L194.64 1037.23 L195.27 1036.45 L195.9 1035.67 L196.52 1034.89 L197.15 1034.12 L197.78 1033.34 L198.4 1032.56 L199.03 1031.78 L199.66 1031 L200.29 1030.23 L200.91 1029.45 L201.54 1028.67 L202.17 1027.89 L202.8 1027.12 L203.43 1026.34 L204.06 1025.56 L204.69 1024.79 L205.32 1024.01 L205.95 1023.23 L206.58 1022.45 L207.21 1021.68 L207.84 1020.9 L208.48 1020.12 L209.11 1019.35 L209.74 1018.57 L210.37 1017.79 L211 1017.02 L211.64 1016.24 L212.27 1015.46 L212.9 1014.69 L213.54 1013.91 L214.17 1013.13 L214.8 1012.36 L215.44 1011.58 L216.07 1010.81 L216.71 1010.03 L217.34 1009.25 L217.98 1008.48 L218.61 1007.7 L219.25 1006.92 L219.88 1006.15 L220.52 1005.37 L221.15 1004.59 L221.79 1003.81 L222.43 1003.04 L223.06 1002.26 L223.7 1001.48 L224.34 1000.71 L224.97 999.93 L225.61 999.15 L226.25 998.37 L226.89 997.6 L227.52 996.82 L228.16 996.04 L228.8 995.26 L229.44 994.48 L230.08 993.7 L230.72 992.93 L231.35 992.15 L231.99 991.37 L232.63 990.59 L233.27 989.81 L233.91 989.03 L234.55 988.25 L235.19 987.47 L235.83 986.69 L236.47 985.91 L237.11 985.13 L237.75 984.35 L238.39 983.57 L239.03 982.79 L239.67 982.01 L240.31 981.23 L240.95 980.45 L241.59 979.67 L242.23 978.88 L242.87 978.1 L243.51 977.32 L244.16 976.54 L244.8 975.76 L245.44 974.97 L246.08 974.19 L246.72 973.41 L247.37 972.63 L248.01 971.85 L248.65 971.07 L249.3 970.28 L249.94 969.5 L250.59 968.72 L251.23 967.94 L251.88 967.16 L252.53 966.38 L253.17 965.6 L253.82 964.82 L254.47 964.04 L255.12 963.26 L255.76 962.48 L256.41 961.71 L257.06 960.93 L257.72 960.15 L258.37 959.38 L259.02 958.6 L259.67 957.83 L260.33 957.05 L260.98 956.28 L261.64 955.51 L262.29 954.73 L262.95 953.96 L263.61 953.19 L264.27 952.42 L264.92 951.65 L265.59 950.89 L266.25 950.12 L266.91 949.35 L267.57 948.59 L268.24 947.82 L268.9 947.06 L269.57 946.3 L270.24 945.54 L270.9 944.78 L271.57 944.02 L272.24 943.26 L272.92 942.51 L273.59 941.75 L274.26 941 L274.94 940.25 L275.61 939.49 L276.29 938.75 L276.97 938 L277.65 937.25 L278.33 936.5 L279.01 935.76 L279.7 935.02 L280.38 934.28 L281.07 933.54 L281.76 932.8 L282.45 932.06 L283.14 931.33 L283.83 930.6 L284.53 929.86 L285.22 929.14 L285.92 928.41 L286.62 927.68 L287.32 926.96 L288.02 926.24 L288.72 925.51 L289.43 924.8 L290.14 924.08 L290.84 923.37 L291.55 922.65 L292.27 921.94 L292.98 921.23 L293.69 920.53 L294.41 919.82 L295.13 919.12 L295.85 918.42 L296.57 917.72 L297.3 917.03 L298.02 916.33 L298.75 915.64 L299.48 914.95 L300.21 914.27 L300.95 913.58 L301.68 912.9 L302.42 912.22 L303.16 911.54 L303.9 910.87 L304.65 910.2 L305.39 909.53 L306.14 908.86 L306.89 908.2 L307.64 907.54 L308.4 906.88 L309.15 906.22 L309.91 905.57 L310.67 904.92 L311.44 904.27 L312.2 903.62 L312.97 902.98 L313.74 902.34 L314.51 901.7 L315.29 901.07 L316.07 900.44 L316.84 899.81 L317.63 899.19 L318.41 898.57 L319.2 897.95 L319.99 897.33 L320.78 896.72 L321.57 896.11 L322.37 895.5 L323.17 894.9 L323.97 894.3 L324.78 893.7 L325.58 893.11 L326.39 892.52 L327.21 891.93 L328.02 891.35 L328.84 890.77 L329.66 890.19 L330.48 889.62 L331.31 889.05 L332.14 888.49 L332.97 887.92 L333.8 887.36 L334.64 886.81 L335.48 886.26 L336.33 885.71 L337.17 885.17 L338.02 884.62 L338.87 884.09 L339.73 883.56 L340.58 883.03 L341.45 882.5 L342.31 881.98 L343.18 881.46 L344.05 880.95 L344.92 880.44 L345.8 879.93 L346.67 879.43 L347.56 878.93 L348.44 878.44 L349.33 877.95 L350.22 877.47 L351.12 876.98 L352.02 876.51 L352.92 876.04 L353.82 875.57 L354.73 875.11 L355.64 874.66 L356.55 874.21 L357.46 873.77 L358.38 873.33 L359.3 872.9 L360.22 872.48 L361.14 872.06 L362.07 871.65 L363 871.25 L363.93 870.86 L364.86 870.47 L365.79 870.1 L366.73 869.73 L367.67 869.37 L368.61 869.02 L369.55 868.68 L370.49 868.34 L371.43 868.02 L372.38 867.71 L373.32 867.4 L374.27 867.11 L375.22 866.83 L376.17 866.56 L377.12 866.3 L378.07 866.05 L379.02 865.81 L379.97 865.59 L380.92 865.37 L381.88 865.17 L382.83 864.98 L383.79 864.8 L384.74 864.64 L385.7 864.49 L386.65 864.35 L387.61 864.23 L388.56 864.12 L389.52 864.02 L390.47 863.94 L391.43 863.87 L392.38 863.82 L393.34 863.78 L394.29 863.76 L395.25 863.75 L396.2 863.76 L397.15 863.78 L398.1 863.82 L399.05 863.88 L400 863.95 L400.95 864.04 L401.9 864.15 L402.85 864.27 L403.79 864.41 L404.74 864.57 L405.68 864.75 L406.62 864.94 L407.56 865.15 L408.5 865.38 L409.44 865.62 L410.38 865.88 L411.31 866.15 L412.24 866.44 L413.17 866.75 L414.1 867.06 L415.03 867.4 L415.95 867.74 L416.87 868.1 L417.79 868.48 L418.71 868.87 L419.62 869.27 L420.53 869.68 L421.44 870.11 L422.35 870.55 L423.25 871 L424.15 871.46 L425.05 871.93 L425.95 872.42 L426.84 872.91 L427.73 873.42 L428.61 873.93 L429.5 874.46 L430.38 874.99 L431.25 875.54 L432.12 876.09 L432.99 876.66 L433.86 877.23 L434.72 877.81 L435.57 878.4 L436.43 878.99 L437.28 879.6 L438.12 880.21 L438.96 880.83 L439.8 881.45 L440.63 882.08 L441.46 882.72 L442.29 883.36 L443.11 884.01 L443.92 884.66 L444.73 885.32 L445.54 885.99 L446.34 886.66 L447.13 887.33 L447.92 888 L448.71 888.68 L449.49 889.37 L450.27 890.05 L451.04 890.74 L451.8 891.43 L452.56 892.13 L453.32 892.82 L454.07 893.52 L454.81 894.22 L455.55 894.93 L456.29 895.63 L457.02 896.34 L457.74 897.05 L458.47 897.76 L459.19 898.47 L459.9 899.18 L460.61 899.9 L461.32 900.62 L462.02 901.33 L462.72 902.06 L463.42 902.78 L464.11 903.5 L464.81 904.22 L465.5 904.95 L466.18 905.68 L466.87 906.4 L467.55 907.13 L468.23 907.86 L468.9 908.59 L469.58 909.32 L470.25 910.06 L470.93 910.79 L471.6 911.52 L472.27 912.26 L472.93 912.99 L473.6 913.73 L474.27 914.46 L474.94 915.2 L475.6 915.93 L476.27 916.67 L476.93 917.4 L477.59 918.14 L478.26 918.88 L478.92 919.61 L479.59 920.35 L480.26 921.08 L480.92 921.82 L481.59 922.55 L482.26 923.29 L482.93 924.02 L483.6 924.76 L484.27 925.49 L484.94 926.22 L485.61 926.95 L486.29 927.68 L486.97 928.41 L487.65 929.14 L488.33 929.87 L489.01 930.6 L489.7 931.32 L490.39 932.05 L491.08 932.77 L491.78 933.5 L492.48 934.22 L493.18 934.94 L493.88 935.65 L494.59 936.37 L495.3 937.09 L496.01 937.8 L496.72 938.51 L497.44 939.22 L498.16 939.93 L498.88 940.63 L499.6 941.34 L500.33 942.04 L501.06 942.74 L501.79 943.44 L502.52 944.13 L503.26 944.82 L504 945.51 L504.74 946.2 L505.48 946.89 L506.23 947.57 L506.97 948.25 L507.72 948.93 L508.48 949.6 L509.23 950.28 L509.99 950.94 L510.75 951.61 L511.51 952.27 L512.27 952.93 L513.03 953.59 L513.8 954.24 L514.57 954.89 L515.34 955.54 L516.12 956.19 L516.89 956.83 L517.67 957.46 L518.45 958.1 L519.23 958.72 L520.01 959.35 L520.8 959.97 L521.59 960.59 L522.37 961.2 L523.16 961.81 L523.96 962.42 L524.75 963.02 L525.55 963.62 L526.35 964.21 L527.14 964.8 L527.95 965.39 L528.75 965.97 L529.55 966.54 L530.36 967.11 L535.24 970.61" stroke="#9400d3"/>
<path d="M54.05 799.09 L529.7 694.74" stroke="#9400d3" stroke-dasharray="4 3.6"/>
<path d="M54.05 996.29 L529.7 891.73" stroke="#009e73" stroke-dasharray="4 3.6"/>
<path d="M54.05 1124.13 L529.7 1019.99" stroke="#56b4e9" stroke-dasharray="4 3.6"/>
</g>
<path d="M107.1 1162.6 v-2.4 M107.1 618.6 v2.4 M138.13 1162.6 v-2.4 M138.13 618.6 v2.4 M160.15 1162.6 v-2.4 M160.15 618.6 v2.4 M177.23 1162.6 v-2.4 M177.23 618.6 v2.4 M191.19 1162.6 v-2.4 M191.19 618.6 v2.4 M202.98 1162.6 v-2.4 M202.98 618.6 v2.4 M213.21 1162.6 v-2.4 M213.21 618.6 v2.4 M222.22 1162.6 v-2.4 M222.22 618.6 v2.4 M230.28 1162.6 v-4.8 M230.28 618.6 v4.8 M283.34 1162.6 v-2.4 M283.34 618.6 v2.4 M314.37 1162.6 v-2.4 M314.37 618.6 v2.4 M336.39 1162.6 v-2.4 M336.39 618.6 v2.4 M353.47 1162.6 v-2.4 M353.47 618.6 v2.4 M367.42 1162.6 v-2.4 M367.42 618.6 v2.4 M379.22 1162.6 v-2.4 M379.22 618.6 v2.4 M389.44 1162.6 v-2.4 M389.44 618.6 v2.4 M398.45 1162.6 v-2.4 M398.45 618.6 v2.4 M406.52 1162.6 v-4.8 M406.52 618.6 v4.8 M459.57 1162.6 v-2.4 M459.57 618.6 v2.4 M490.6 1162.6 v-2.4 M490.6 618.6 v2.4 M512.62 1162.6 v-2.4 M512.62 618.6 v2.4 M54.05 1162.6 h4.8 M529.7 1162.6 h-4.8 M54.05 1084.89 h4.8 M529.7 1084.89 h-4.8 M54.05 1007.17 h4.8 M529.7 1007.17 h-4.8 M54.05 929.46 h4.8 M529.7 929.46 h-4.8 M54.05 851.74 h4.8 M529.7 851.74 h-4.8 M54.05 774.03 h4.8 M529.7 774.03 h-4.8 M54.05 696.31 h4.8 M529.7 696.31 h-4.8 M54.05 618.6 h4.8 M529.7 618.6 h-4.8 M54.05 1123.74 h2.4 M529.7 1123.74 h-2.4 M54.05 1046.03 h2.4 M529.7 1046.03 h-2.4 M54.05 968.31 h2.4 M529.7 968.31 h-2.4 M54.05 890.6 h2.4 M529.7 890.6 h-2.4 M54.05 812.89 h2.4 M529.7 812.89 h-2.4 M54.05 735.17 h2.4 M529.7 735.17 h-2.4 M54.05 657.46 h2.4 M529.7 657.46 h-2.4" stroke="#000" stroke-width="0.9" fill="none"/>
<rect x="54.05" y="618.6" width="475.65" height="544" fill="none" stroke="#000" stroke-width="0.85"/>
<text x="46.55" y="1168" text-anchor="end" font-size="14.7">10<tspan dy="-5.4" font-size="11.7">-6</tspan></text>
<text x="46.55" y="1090.29" text-anchor="end" font-size="14.7">10<tspan dy="-5.4" font-size="11.7">-4</tspan></text>
<text x="46.55" y="1012.57" text-anchor="end" font-size="14.7">10<tspan dy="-5.4" font-size="11.7">-2</tspan></text>
<text x="46.55" y="934.86" text-anchor="end" font-size="14.7">10<tspan dy="-5.4" font-size="11.7">0</tspan></text>
<text x="46.55" y="857.14" text-anchor="end" font-size="14.7">10<tspan dy="-5.4" font-size="11.7">2</tspan></text>
<text x="46.55" y="779.43" text-anchor="end" font-size="14.7">10<tspan dy="-5.4" font-size="11.7">4</tspan></text>
<text x="46.55" y="701.71" text-anchor="end" font-size="14.7">10<tspan dy="-5.4" font-size="11.7">6</tspan></text>
<text x="46.55" y="624" text-anchor="end" font-size="14.7">10<tspan dy="-5.4" font-size="11.7">8</tspan></text>
<text x="54.05" y="1181.4" text-anchor="middle" font-size="14.7">10<tspan dy="-5.4" font-size="11.7">0</tspan></text>
<text x="230.28" y="1181.4" text-anchor="middle" font-size="14.7">10<tspan dy="-5.4" font-size="11.7">1</tspan></text>
<text x="406.52" y="1181.4" text-anchor="middle" font-size="14.7">10<tspan dy="-5.4" font-size="11.7">2</tspan></text>
<text x="291.88" y="1203" text-anchor="middle" font-size="18.6">Time (days)</text>
<text transform="translate(18.75 890.6) rotate(-90)" text-anchor="middle" font-size="18.6">Flux Density (mJy)</text>
<text x="115.05" y="635" text-anchor="middle" font-size="13.0" textLength="99.9" lengthAdjust="spacingAndGlyphs">Jet (Synchrotron)</text>
<text x="81.1" y="648.2" text-anchor="middle" font-size="13.0">hom</text>
<text x="80.35" y="660.8" text-anchor="middle" font-size="13.0">wind</text>
<path d="M104.6 643.2 H138.6" stroke="#000" stroke-width="1.5"/>
<path d="M104.6 656 H138.6" stroke="#000" stroke-width="1.5" stroke-dasharray="4 3.6"/>
<text x="292" y="648" text-anchor="middle" font-size="18.4" fill="#9400d3">Radio @ 6 GHz</text>
<text x="292" y="669.65" text-anchor="middle" font-size="18.4" fill="#009e73">Optical @ 1 eV</text>
<text x="292" y="691.3" text-anchor="middle" font-size="18.4" fill="#56b4e9">X-ray @ 1 keV</text>
<clipPath id="clipBR"><rect x="619.5" y="618.6" width="468.7" height="544"/></clipPath>
<g clip-path="url(#clipBR)" fill="none" stroke-width="1.5" stroke-linejoin="round">
<path d="M780.7 1166.99 L784.73 1162.54 L785.17 1162.04 L785.62 1161.55 L786.07 1161.05 L786.52 1160.56 L786.96 1160.07 L787.41 1159.57 L787.85 1159.08 L788.29 1158.59 L788.74 1158.1 L789.18 1157.61 L789.62 1157.11 L790.06 1156.63 L790.5 1156.14 L790.94 1155.65 L791.38 1155.16 L791.81 1154.67 L792.25 1154.18 L792.69 1153.7 L793.13 1153.21 L793.56 1152.73 L794 1152.24 L794.43 1151.76 L794.86 1151.27 L795.3 1150.79 L795.73 1150.3 L796.16 1149.82 L796.6 1149.34 L797.03 1148.86 L797.46 1148.38 L797.89 1147.9 L798.32 1147.42 L798.75 1146.94 L799.18 1146.46 L799.61 1145.98 L800.04 1145.5 L800.46 1145.02 L800.89 1144.55 L801.32 1144.07 L801.75 1143.6 L802.17 1143.12 L802.6 1142.65 L803.03 1142.17 L803.45 1141.7 L803.88 1141.22 L804.3 1140.75 L804.73 1140.28 L805.15 1139.81 L805.58 1139.33 L806 1138.86 L806.42 1138.39 L806.85 1137.92 L807.27 1137.45 L807.7 1136.98 L808.12 1136.52 L808.54 1136.05 L808.97 1135.58 L809.39 1135.11 L809.81 1134.65 L810.23 1134.18 L810.66 1133.71 L811.08 1133.25 L811.5 1132.78 L811.92 1132.32 L812.34 1131.86 L812.77 1131.39 L813.19 1130.93 L813.61 1130.47 L814.03 1130.01 L814.45 1129.55 L814.88 1129.08 L815.3 1128.62 L815.72 1128.16 L816.14 1127.7 L816.57 1127.25 L816.99 1126.79 L817.41 1126.33 L817.83 1125.87 L818.25 1125.41 L818.68 1124.96 L819.1 1124.5 L819.52 1124.04 L819.95 1123.59 L820.37 1123.13 L820.79 1122.68 L821.22 1122.23 L821.64 1121.77 L822.06 1121.32 L822.49 1120.87 L822.91 1120.41 L823.34 1119.96 L823.76 1119.51 L824.19 1119.06 L824.61 1118.61 L825.04 1118.16 L825.46 1117.71 L825.89 1117.26 L826.32 1116.81 L826.74 1116.36 L827.17 1115.92 L827.6 1115.47 L828.03 1115.02 L828.46 1114.57 L828.88 1114.13 L829.31 1113.68 L829.74 1113.24 L830.17 1112.79 L830.6 1112.35 L831.04 1111.9 L831.47 1111.46 L831.9 1111.02 L832.33 1110.57 L832.76 1110.13 L833.2 1109.69 L833.63 1109.25 L834.07 1108.81 L834.5 1108.37 L834.94 1107.93 L835.37 1107.49 L835.81 1107.05 L836.25 1106.61 L836.68 1106.17 L837.12 1105.73 L837.56 1105.29 L838 1104.86 L838.44 1104.42 L838.88 1103.98 L839.32 1103.55 L839.77 1103.11 L840.21 1102.68 L840.65 1102.24 L841.1 1101.81 L841.54 1101.37 L841.99 1100.94 L842.44 1100.51 L842.88 1100.07 L843.33 1099.64 L843.78 1099.21 L844.23 1098.78 L844.68 1098.35 L845.13 1097.91 L845.58 1097.48 L846.04 1097.05 L846.49 1096.62 L846.95 1096.19 L847.4 1095.77 L847.86 1095.34 L848.32 1094.91 L848.77 1094.48 L849.23 1094.05 L849.69 1093.63 L850.15 1093.2 L850.62 1092.77 L851.08 1092.35 L851.54 1091.92 L852.01 1091.5 L852.48 1091.07 L852.94 1090.65 L853.41 1090.22 L853.88 1089.8 L854.35 1089.38 L854.82 1088.95 L855.29 1088.53 L855.77 1088.11 L856.24 1087.69 L856.72 1087.27 L857.19 1086.84 L857.67 1086.42 L858.15 1086 L858.63 1085.58 L859.11 1085.16 L859.59 1084.74 L860.08 1084.32 L860.56 1083.91 L861.05 1083.49 L861.54 1083.07 L862.02 1082.65 L862.51 1082.24 L863 1081.82 L863.5 1081.4 L863.99 1080.99 L864.48 1080.57 L864.98 1080.16 L865.47 1079.75 L865.97 1079.33 L866.47 1078.92 L866.97 1078.51 L867.47 1078.1 L867.97 1077.69 L868.48 1077.28 L868.98 1076.87 L869.48 1076.47 L869.99 1076.06 L870.5 1075.65 L871.01 1075.25 L871.52 1074.84 L872.03 1074.44 L872.54 1074.04 L873.05 1073.64 L873.56 1073.24 L874.08 1072.84 L874.6 1072.44 L875.11 1072.04 L875.63 1071.65 L876.15 1071.25 L876.67 1070.86 L877.19 1070.46 L877.71 1070.07 L878.24 1069.68 L878.76 1069.29 L879.28 1068.9 L879.81 1068.52 L880.34 1068.13 L880.87 1067.75 L881.39 1067.36 L881.93 1066.98 L882.46 1066.6 L882.99 1066.22 L883.52 1065.84 L884.06 1065.47 L884.59 1065.09 L885.13 1064.72 L885.66 1064.34 L886.2 1063.97 L886.74 1063.6 L887.28 1063.24 L887.82 1062.87 L888.36 1062.51 L888.91 1062.14 L889.45 1061.78 L889.99 1061.42 L890.54 1061.06 L891.09 1060.71 L891.63 1060.35 L892.18 1060 L892.73 1059.65 L893.28 1059.3 L893.83 1058.95 L894.39 1058.61 L894.94 1058.26 L895.49 1057.92 L896.05 1057.58 L896.6 1057.24 L897.16 1056.9 L897.72 1056.57 L898.28 1056.24 L898.84 1055.91 L899.4 1055.58 L899.96 1055.25 L900.52 1054.93 L901.08 1054.6 L901.64 1054.28 L902.21 1053.96 L902.77 1053.65 L903.34 1053.33 L903.91 1053.02 L904.48 1052.71 L905.04 1052.41 L905.61 1052.1 L906.18 1051.8 L906.75 1051.5 L907.33 1051.21 L907.9 1050.92 L908.47 1050.63 L909.05 1050.34 L909.62 1050.05 L910.2 1049.77 L910.78 1049.49 L911.35 1049.22 L911.93 1048.95 L912.51 1048.68 L913.09 1048.42 L913.67 1048.15 L914.25 1047.9 L914.84 1047.64 L915.42 1047.39 L916 1047.14 L916.59 1046.9 L917.17 1046.66 L917.76 1046.42 L918.35 1046.19 L918.93 1045.97 L919.52 1045.74 L920.11 1045.52 L920.7 1045.31 L921.29 1045.09 L921.88 1044.89 L922.47 1044.69 L923.07 1044.49 L923.66 1044.29 L924.25 1044.1 L924.85 1043.92 L925.44 1043.74 L926.04 1043.56 L926.64 1043.39 L927.24 1043.23 L927.83 1043.07 L928.43 1042.91 L929.03 1042.76 L929.63 1042.62 L930.23 1042.48 L930.84 1042.34 L931.44 1042.21 L932.04 1042.09 L932.64 1041.97 L933.25 1041.85 L933.85 1041.75 L934.46 1041.64 L935.07 1041.55 L935.67 1041.46 L936.28 1041.37 L936.89 1041.29 L937.5 1041.22 L938.11 1041.15 L938.72 1041.09 L939.33 1041.03 L939.94 1040.98 L940.55 1040.94 L941.16 1040.9 L941.78 1040.87 L942.39 1040.85 L943 1040.83 L943.62 1040.82 L944.23 1040.81 L944.85 1040.81 L945.46 1040.82 L946.08 1040.83 L946.69 1040.85 L947.31 1040.87 L947.92 1040.9 L948.54 1040.94 L949.16 1040.98 L949.77 1041.03 L950.39 1041.08 L951 1041.14 L951.62 1041.21 L952.23 1041.28 L952.85 1041.35 L953.46 1041.43 L954.08 1041.52 L954.69 1041.62 L955.31 1041.71 L955.92 1041.82 L956.53 1041.93 L957.14 1042.04 L957.75 1042.16 L958.36 1042.29 L958.97 1042.42 L959.58 1042.56 L960.19 1042.7 L960.79 1042.85 L961.4 1043 L962.01 1043.15 L962.61 1043.32 L963.21 1043.48 L963.81 1043.66 L964.41 1043.84 L965.01 1044.02 L965.61 1044.21 L966.21 1044.4 L966.8 1044.6 L967.4 1044.8 L967.99 1045.01 L968.58 1045.22 L969.17 1045.43 L969.76 1045.66 L970.34 1045.88 L970.93 1046.11 L971.51 1046.35 L972.09 1046.59 L972.67 1046.83 L973.24 1047.08 L973.82 1047.34 L974.39 1047.6 L974.96 1047.86 L975.53 1048.13 L976.1 1048.4 L976.67 1048.68 L977.23 1048.96 L977.79 1049.24 L978.35 1049.53 L978.91 1049.82 L979.46 1050.12 L980.02 1050.42 L980.57 1050.73 L981.12 1051.04 L981.66 1051.35 L982.21 1051.67 L982.75 1051.99 L983.29 1052.32 L983.83 1052.65 L984.37 1052.98 L984.9 1053.32 L985.43 1053.66 L985.96 1054.01 L986.49 1054.36 L987.02 1054.71 L987.54 1055.07 L988.06 1055.43 L988.58 1055.79 L989.09 1056.16 L989.61 1056.53 L990.12 1056.9 L990.63 1057.28 L991.13 1057.66 L991.64 1058.05 L992.14 1058.44 L992.64 1058.83 L993.14 1059.22 L993.63 1059.62 L994.12 1060.03 L994.61 1060.43 L995.1 1060.84 L995.59 1061.25 L996.07 1061.67 L996.55 1062.08 L997.02 1062.5 L997.5 1062.93 L997.97 1063.36 L998.44 1063.79 L998.91 1064.22 L999.37 1064.66 L999.83 1065.09 L1000.29 1065.54 L1000.75 1065.98 L1001.2 1066.43 L1001.65 1066.88 L1002.1 1067.33 L1002.54 1067.79 L1002.99 1068.25 L1003.43 1068.71 L1003.86 1069.17 L1004.3 1069.64 L1004.73 1070.11 L1005.16 1070.58 L1005.58 1071.05 L1006 1071.53 L1006.42 1072.01 L1006.84 1072.49 L1007.26 1072.97 L1007.67 1073.46 L1008.08 1073.94 L1008.48 1074.43 L1008.89 1074.93 L1009.29 1075.42 L1009.69 1075.92 L1010.08 1076.42 L1010.47 1076.92 L1010.87 1077.42 L1011.25 1077.93 L1011.64 1078.44 L1012.02 1078.95 L1012.4 1079.46 L1012.78 1079.97 L1013.16 1080.49 L1013.53 1081.01 L1013.91 1081.53 L1014.27 1082.05 L1014.64 1082.57 L1015.01 1083.1 L1015.37 1083.62 L1015.73 1084.15 L1016.09 1084.68 L1016.44 1085.22 L1016.8 1085.75 L1017.15 1086.29 L1017.5 1086.82 L1017.85 1087.36 L1018.19 1087.9 L1018.54 1088.44 L1018.88 1088.99 L1019.22 1089.53 L1019.56 1090.08 L1019.89 1090.63 L1020.23 1091.18 L1020.56 1091.73 L1020.89 1092.28 L1021.22 1092.83 L1021.55 1093.39 L1021.87 1093.95 L1022.2 1094.5 L1022.52 1095.06 L1022.84 1095.62 L1023.16 1096.18 L1023.47 1096.74 L1023.79 1097.31 L1024.1 1097.87 L1024.42 1098.44 L1024.73 1099 L1025.04 1099.57 L1025.34 1100.14 L1025.65 1100.71 L1025.96 1101.28 L1026.26 1101.85 L1026.56 1102.42 L1026.86 1103 L1027.16 1103.57 L1027.46 1104.15 L1027.76 1104.72 L1028.05 1105.3 L1028.35 1105.88 L1028.64 1106.45 L1028.93 1107.03 L1029.22 1107.61 L1029.51 1108.19 L1029.8 1108.77 L1030.09 1109.35 L1030.38 1109.93 L1030.66 1110.51 L1030.95 1111.1 L1031.23 1111.68 L1031.51 1112.26 L1031.79 1112.85 L1032.07 1113.43 L1032.35 1114.01 L1032.63 1114.6 L1032.91 1115.18 L1033.19 1115.77 L1033.47 1116.35 L1033.74 1116.94 L1034.02 1117.52 L1034.29 1118.11 L1034.56 1118.7 L1034.84 1119.28 L1035.11 1119.87 L1035.38 1120.45 L1035.65 1121.04 L1035.92 1121.63 L1036.19 1122.21 L1036.46 1122.8 L1036.73 1123.38 L1037 1123.97 L1037.27 1124.56 L1037.54 1125.14 L1037.81 1125.73 L1038.07 1126.31 L1038.34 1126.9 L1038.61 1127.48 L1038.87 1128.06 L1039.14 1128.65 L1039.4 1129.23 L1039.67 1129.81 L1039.93 1130.4 L1040.2 1130.98 L1040.47 1131.56 L1040.73 1132.14 L1040.99 1132.72 L1041.26 1133.3 L1041.52 1133.88 L1041.79 1134.46 L1042.05 1135.04 L1042.32 1135.62 L1042.58 1136.19 L1042.85 1136.77 L1043.11 1137.35 L1043.38 1137.92 L1043.64 1138.49 L1043.91 1139.07 L1044.17 1139.64 L1044.44 1140.21 L1044.71 1140.78 L1044.97 1141.35 L1045.24 1141.92 L1045.51 1142.49 L1045.77 1143.05 L1046.04 1143.62 L1046.31 1144.18 L1046.58 1144.74 L1046.85 1145.31 L1047.12 1145.87 L1047.39 1146.43 L1047.66 1146.98 L1047.93 1147.54 L1048.2 1148.1 L1048.47 1148.65 L1048.75 1149.21 L1049.02 1149.76 L1049.3 1150.31 L1049.57 1150.86 L1049.85 1151.41 L1050.12 1151.95 L1050.4 1152.5 L1050.68 1153.04 L1050.96 1153.58 L1051.24 1154.12 L1051.52 1154.66 L1051.8 1155.2 L1052.08 1155.73 L1052.36 1156.27 L1052.65 1156.8 L1052.93 1157.33 L1053.22 1157.86 L1053.51 1158.38 L1053.8 1158.91 L1054.09 1159.43 L1054.38 1159.95 L1054.67 1160.47 L1054.96 1160.99 L1055.26 1161.5 L1055.55 1162.02 L1058.53 1167.23" stroke="#56b4e9"/>
<path d="M703.79 1167.31 L707.57 1162.65 L708.19 1161.87 L708.82 1161.1 L709.44 1160.33 L710.07 1159.55 L710.69 1158.78 L711.31 1158.01 L711.94 1157.24 L712.56 1156.47 L713.18 1155.7 L713.8 1154.92 L714.42 1154.15 L715.03 1153.38 L715.65 1152.61 L716.27 1151.84 L716.89 1151.07 L717.5 1150.3 L718.12 1149.53 L718.73 1148.76 L719.34 1147.99 L719.96 1147.22 L720.57 1146.46 L721.18 1145.69 L721.79 1144.92 L722.4 1144.15 L723.01 1143.38 L723.62 1142.62 L724.23 1141.85 L724.83 1141.08 L725.44 1140.32 L726.05 1139.55 L726.65 1138.78 L727.26 1138.02 L727.87 1137.25 L728.47 1136.48 L729.07 1135.72 L729.68 1134.95 L730.28 1134.19 L730.88 1133.42 L731.49 1132.66 L732.09 1131.9 L732.69 1131.13 L733.29 1130.37 L733.89 1129.61 L734.49 1128.84 L735.09 1128.08 L735.69 1127.32 L736.29 1126.55 L736.89 1125.79 L737.49 1125.03 L738.08 1124.27 L738.68 1123.51 L739.28 1122.75 L739.87 1121.98 L740.47 1121.22 L741.07 1120.46 L741.66 1119.7 L742.26 1118.94 L742.85 1118.18 L743.45 1117.43 L744.04 1116.67 L744.64 1115.91 L745.23 1115.15 L745.83 1114.39 L746.42 1113.63 L747.02 1112.88 L747.61 1112.12 L748.2 1111.36 L748.79 1110.6 L749.39 1109.85 L749.98 1109.09 L750.57 1108.33 L751.17 1107.58 L751.76 1106.82 L752.35 1106.07 L752.94 1105.31 L753.53 1104.56 L754.13 1103.8 L754.72 1103.05 L755.31 1102.3 L755.9 1101.54 L756.49 1100.79 L757.09 1100.04 L757.68 1099.28 L758.27 1098.53 L758.86 1097.78 L759.45 1097.03 L760.04 1096.28 L760.64 1095.52 L761.23 1094.77 L761.82 1094.02 L762.41 1093.27 L763 1092.52 L763.59 1091.77 L764.19 1091.02 L764.78 1090.27 L765.37 1089.53 L765.96 1088.78 L766.55 1088.03 L767.15 1087.28 L767.74 1086.53 L768.33 1085.79 L768.93 1085.04 L769.52 1084.29 L770.11 1083.54 L770.7 1082.8 L771.3 1082.05 L771.89 1081.31 L772.49 1080.56 L773.08 1079.82 L773.67 1079.07 L774.27 1078.33 L774.86 1077.58 L775.46 1076.84 L776.06 1076.1 L776.65 1075.35 L777.25 1074.61 L777.84 1073.87 L778.44 1073.13 L779.04 1072.38 L779.63 1071.64 L780.23 1070.9 L780.83 1070.16 L781.43 1069.42 L782.03 1068.68 L782.63 1067.94 L783.23 1067.2 L783.83 1066.46 L784.43 1065.72 L785.03 1064.98 L785.63 1064.25 L786.23 1063.51 L786.83 1062.77 L787.43 1062.03 L788.04 1061.3 L788.64 1060.56 L789.25 1059.82 L789.85 1059.09 L790.45 1058.35 L791.06 1057.62 L791.67 1056.88 L792.27 1056.15 L792.88 1055.41 L793.49 1054.68 L794.1 1053.95 L794.7 1053.21 L795.31 1052.48 L795.92 1051.75 L796.53 1051.01 L797.15 1050.28 L797.76 1049.55 L798.37 1048.82 L798.98 1048.09 L799.6 1047.36 L800.21 1046.63 L800.83 1045.9 L801.44 1045.17 L802.06 1044.44 L802.68 1043.71 L803.29 1042.98 L803.91 1042.26 L804.53 1041.53 L805.15 1040.8 L805.77 1040.07 L806.39 1039.35 L807.02 1038.62 L807.64 1037.89 L808.26 1037.17 L808.89 1036.44 L809.51 1035.72 L810.14 1035 L810.77 1034.27 L811.39 1033.55 L812.02 1032.82 L812.65 1032.1 L813.28 1031.38 L813.92 1030.66 L814.55 1029.93 L815.18 1029.21 L815.82 1028.49 L816.45 1027.77 L817.09 1027.05 L817.72 1026.33 L818.36 1025.61 L819 1024.89 L819.64 1024.17 L820.28 1023.46 L820.92 1022.74 L821.57 1022.02 L822.21 1021.3 L822.85 1020.59 L823.5 1019.87 L824.15 1019.15 L824.79 1018.44 L825.44 1017.72 L826.09 1017.01 L826.74 1016.29 L827.4 1015.58 L828.05 1014.86 L828.7 1014.15 L829.36 1013.44 L830.02 1012.72 L830.67 1012.01 L831.33 1011.3 L831.99 1010.59 L832.65 1009.88 L833.32 1009.17 L833.98 1008.46 L834.65 1007.75 L835.31 1007.04 L835.98 1006.33 L836.65 1005.62 L837.32 1004.91 L837.99 1004.2 L838.66 1003.5 L839.33 1002.79 L840.01 1002.08 L840.68 1001.38 L841.36 1000.67 L842.04 999.96 L842.72 999.26 L843.4 998.56 L844.08 997.85 L844.77 997.15 L845.45 996.44 L846.14 995.74 L846.83 995.04 L847.51 994.34 L848.21 993.64 L848.9 992.94 L849.59 992.24 L850.29 991.54 L850.98 990.84 L851.68 990.15 L852.38 989.45 L853.08 988.76 L853.78 988.07 L854.48 987.38 L855.19 986.69 L855.9 986 L856.6 985.31 L857.31 984.62 L858.02 983.94 L858.74 983.25 L859.45 982.57 L860.17 981.89 L860.88 981.21 L861.6 980.54 L862.32 979.86 L863.04 979.19 L863.77 978.51 L864.49 977.85 L865.22 977.18 L865.94 976.51 L866.67 975.85 L867.41 975.19 L868.14 974.53 L868.87 973.87 L869.61 973.21 L870.35 972.56 L871.09 971.91 L871.83 971.26 L872.57 970.61 L873.31 969.97 L874.06 969.33 L874.81 968.69 L875.56 968.05 L876.31 967.42 L877.06 966.79 L877.82 966.16 L878.57 965.54 L879.33 964.92 L880.09 964.3 L880.85 963.68 L881.62 963.07 L882.38 962.46 L883.15 961.85 L883.92 961.24 L884.69 960.64 L885.46 960.05 L886.24 959.45 L887.01 958.86 L887.79 958.27 L888.57 957.69 L889.35 957.11 L890.14 956.53 L890.92 955.96 L891.71 955.39 L892.5 954.82 L893.29 954.26 L894.08 953.7 L894.88 953.14 L895.68 952.59 L896.47 952.04 L897.28 951.5 L898.08 950.96 L898.88 950.43 L899.69 949.9 L900.5 949.37 L901.31 948.85 L902.12 948.33 L902.94 947.81 L903.76 947.31 L904.57 946.8 L905.4 946.3 L906.22 945.81 L907.04 945.32 L907.87 944.84 L908.7 944.36 L909.53 943.89 L910.37 943.43 L911.2 942.97 L912.04 942.52 L912.88 942.07 L913.72 941.63 L914.57 941.2 L915.41 940.78 L916.26 940.36 L917.11 939.96 L917.96 939.55 L918.82 939.16 L919.68 938.78 L920.54 938.4 L921.4 938.03 L922.26 937.67 L923.13 937.32 L924 936.98 L924.87 936.65 L925.74 936.33 L926.61 936.01 L927.49 935.71 L928.37 935.42 L929.25 935.13 L930.14 934.86 L931.02 934.6 L931.91 934.34 L932.8 934.1 L933.7 933.87 L934.59 933.65 L935.49 933.45 L936.39 933.25 L937.29 933.06 L938.2 932.89 L939.11 932.73 L940.02 932.58 L940.93 932.45 L941.84 932.32 L942.76 932.21 L943.68 932.11 L944.6 932.03 L945.53 931.96 L946.46 931.9 L947.39 931.86 L948.32 931.83 L949.25 931.81 L950.19 931.81 L951.13 931.82 L952.07 931.84 L953.01 931.88 L953.95 931.94 L954.89 932 L955.84 932.08 L956.78 932.18 L957.72 932.28 L958.67 932.4 L959.61 932.54 L960.55 932.69 L961.49 932.85 L962.43 933.02 L963.37 933.21 L964.3 933.41 L965.23 933.63 L966.16 933.86 L967.09 934.1 L968.01 934.35 L968.93 934.62 L969.85 934.9 L970.76 935.2 L971.67 935.5 L972.57 935.82 L973.47 936.16 L974.36 936.5 L975.25 936.86 L976.13 937.23 L977 937.62 L977.87 938.01 L978.73 938.42 L979.59 938.85 L980.44 939.28 L981.28 939.73 L982.11 940.19 L982.94 940.66 L983.76 941.14 L984.58 941.64 L985.38 942.14 L986.18 942.66 L986.98 943.18 L987.77 943.72 L988.55 944.27 L989.33 944.83 L990.1 945.4 L990.86 945.98 L991.62 946.57 L992.37 947.16 L993.11 947.77 L993.85 948.39 L994.58 949.01 L995.31 949.65 L996.03 950.29 L996.75 950.94 L997.46 951.6 L998.16 952.27 L998.86 952.94 L999.55 953.63 L1000.24 954.32 L1000.92 955.02 L1001.59 955.72 L1002.26 956.43 L1002.93 957.15 L1003.59 957.87 L1004.24 958.61 L1004.89 959.34 L1005.53 960.09 L1006.17 960.83 L1006.8 961.59 L1007.43 962.35 L1008.05 963.11 L1008.67 963.88 L1009.28 964.66 L1009.89 965.43 L1010.49 966.22 L1011.09 967.01 L1011.68 967.8 L1012.27 968.59 L1012.86 969.39 L1013.44 970.19 L1014.01 971 L1014.58 971.81 L1015.15 972.62 L1015.71 973.43 L1016.26 974.25 L1016.81 975.07 L1017.36 975.89 L1017.91 976.71 L1018.45 977.53 L1018.98 978.36 L1019.51 979.19 L1020.04 980.01 L1020.56 980.84 L1021.08 981.67 L1021.59 982.5 L1022.11 983.34 L1022.61 984.17 L1023.12 985 L1023.62 985.84 L1024.11 986.67 L1024.61 987.51 L1025.1 988.35 L1025.58 989.18 L1026.07 990.02 L1026.55 990.86 L1027.03 991.7 L1027.5 992.54 L1027.97 993.38 L1028.44 994.23 L1028.91 995.07 L1029.37 995.91 L1029.84 996.76 L1030.3 997.61 L1030.75 998.45 L1031.21 999.3 L1031.66 1000.15 L1032.11 1000.99 L1032.56 1001.84 L1033.01 1002.69 L1033.45 1003.54 L1033.9 1004.39 L1034.34 1005.24 L1034.78 1006.1 L1035.22 1006.95 L1035.65 1007.8 L1036.09 1008.66 L1036.53 1009.51 L1036.96 1010.36 L1037.39 1011.22 L1037.82 1012.07 L1038.26 1012.93 L1038.69 1013.79 L1039.12 1014.64 L1039.55 1015.5 L1039.97 1016.36 L1040.4 1017.22 L1040.83 1018.07 L1041.26 1018.93 L1041.68 1019.79 L1042.11 1020.65 L1042.54 1021.51 L1042.97 1022.37 L1043.39 1023.23 L1043.82 1024.09 L1044.25 1024.95 L1044.68 1025.81 L1045.11 1026.68 L1045.53 1027.54 L1045.96 1028.4 L1046.39 1029.26 L1046.82 1030.12 L1047.25 1030.99 L1047.68 1031.85 L1048.11 1032.71 L1048.54 1033.58 L1048.98 1034.44 L1049.41 1035.3 L1049.84 1036.17 L1050.27 1037.03 L1050.7 1037.89 L1051.14 1038.76 L1051.57 1039.62 L1052 1040.48 L1052.44 1041.35 L1052.87 1042.21 L1053.31 1043.07 L1053.74 1043.94 L1054.18 1044.8 L1054.61 1045.67 L1055.05 1046.53 L1055.48 1047.39 L1055.92 1048.26 L1056.36 1049.12 L1056.79 1049.98 L1057.23 1050.85 L1057.67 1051.71 L1058.11 1052.57 L1058.55 1053.43 L1058.99 1054.3 L1059.43 1055.16 L1059.86 1056.02 L1060.3 1056.88 L1060.75 1057.74 L1061.19 1058.6 L1061.63 1059.47 L1062.07 1060.33 L1062.51 1061.19 L1062.95 1062.05 L1063.4 1062.91 L1063.84 1063.77 L1064.28 1064.63 L1064.72 1065.49 L1065.17 1066.34 L1065.61 1067.2 L1066.06 1068.06 L1066.5 1068.92 L1066.95 1069.77 L1067.39 1070.63 L1067.84 1071.49 L1068.28 1072.34 L1068.73 1073.2 L1069.18 1074.05 L1069.62 1074.91 L1070.07 1075.76 L1070.52 1076.61 L1070.96 1077.47 L1071.41 1078.32 L1071.86 1079.17 L1072.31 1080.02 L1072.76 1080.87 L1073.21 1081.72 L1073.66 1082.57 L1074.11 1083.42 L1074.56 1084.27 L1075.01 1085.11 L1075.46 1085.96 L1075.91 1086.8 L1076.36 1087.65 L1076.81 1088.49 L1077.26 1089.34 L1077.71 1090.18 L1078.16 1091.02 L1078.62 1091.86 L1079.07 1092.71 L1079.52 1093.55 L1079.97 1094.38 L1080.43 1095.22 L1080.88 1096.06 L1081.33 1096.9 L1081.79 1097.73 L1082.24 1098.57 L1082.7 1099.4 L1083.15 1100.23 L1083.61 1101.07 L1084.06 1101.9 L1084.52 1102.73 L1084.97 1103.56 L1085.43 1104.39 L1085.88 1105.21 L1086.34 1106.04 L1086.8 1106.86 L1087.25 1107.69 L1087.71 1108.51 L1088.16 1109.33 L1091.07 1114.58" stroke="#009e73"/>
<path d="M725.11 1167.4 L728.07 1162.18 L728.57 1161.3 L729.07 1160.42 L729.57 1159.54 L730.07 1158.66 L730.57 1157.77 L731.07 1156.89 L731.57 1156 L732.06 1155.12 L732.56 1154.23 L733.06 1153.35 L733.56 1152.46 L734.06 1151.58 L734.56 1150.69 L735.06 1149.8 L735.56 1148.91 L736.06 1148.02 L736.56 1147.13 L737.06 1146.24 L737.56 1145.35 L738.05 1144.46 L738.55 1143.57 L739.05 1142.67 L739.55 1141.78 L740.05 1140.89 L740.55 1139.99 L741.05 1139.1 L741.55 1138.2 L742.04 1137.31 L742.54 1136.41 L743.04 1135.52 L743.54 1134.62 L744.04 1133.72 L744.54 1132.82 L745.04 1131.93 L745.54 1131.03 L746.04 1130.13 L746.53 1129.23 L747.03 1128.33 L747.53 1127.43 L748.03 1126.53 L748.53 1125.63 L749.03 1124.73 L749.53 1123.82 L750.03 1122.92 L750.53 1122.02 L751.03 1121.12 L751.53 1120.21 L752.02 1119.31 L752.52 1118.41 L753.02 1117.5 L753.52 1116.6 L754.02 1115.69 L754.52 1114.79 L755.02 1113.88 L755.52 1112.98 L756.02 1112.07 L756.52 1111.16 L757.02 1110.26 L757.52 1109.35 L758.02 1108.44 L758.52 1107.54 L759.02 1106.63 L759.52 1105.72 L760.02 1104.81 L760.52 1103.9 L761.02 1103 L761.52 1102.09 L762.02 1101.18 L762.52 1100.27 L763.03 1099.36 L763.53 1098.45 L764.03 1097.54 L764.53 1096.63 L765.03 1095.72 L765.53 1094.81 L766.03 1093.9 L766.53 1092.99 L767.04 1092.08 L767.54 1091.16 L768.04 1090.25 L768.54 1089.34 L769.04 1088.43 L769.55 1087.52 L770.05 1086.61 L770.55 1085.7 L771.05 1084.78 L771.56 1083.87 L772.06 1082.96 L772.56 1082.05 L773.07 1081.14 L773.57 1080.22 L774.07 1079.31 L774.58 1078.4 L775.08 1077.49 L775.58 1076.57 L776.09 1075.66 L776.59 1074.75 L777.1 1073.84 L777.6 1072.92 L778.11 1072.01 L778.61 1071.1 L779.12 1070.19 L779.62 1069.27 L780.13 1068.36 L780.63 1067.45 L781.14 1066.54 L781.65 1065.62 L782.15 1064.71 L782.66 1063.8 L783.16 1062.89 L783.67 1061.97 L784.18 1061.06 L784.69 1060.15 L785.19 1059.24 L785.7 1058.33 L786.21 1057.41 L786.72 1056.5 L787.22 1055.59 L787.73 1054.68 L788.24 1053.77 L788.75 1052.86 L789.26 1051.95 L789.77 1051.03 L790.28 1050.12 L790.79 1049.21 L791.3 1048.3 L791.81 1047.39 L792.32 1046.48 L792.83 1045.57 L793.34 1044.66 L793.85 1043.75 L794.36 1042.84 L794.87 1041.93 L795.39 1041.02 L795.9 1040.11 L796.41 1039.21 L796.92 1038.3 L797.44 1037.39 L797.95 1036.48 L798.46 1035.57 L798.98 1034.67 L799.49 1033.76 L800 1032.85 L800.52 1031.95 L801.03 1031.04 L801.55 1030.13 L802.06 1029.23 L802.58 1028.32 L803.09 1027.42 L803.61 1026.51 L804.13 1025.61 L804.64 1024.7 L805.16 1023.8 L805.68 1022.9 L806.2 1021.99 L806.71 1021.09 L807.23 1020.19 L807.75 1019.28 L808.27 1018.38 L808.79 1017.48 L809.31 1016.58 L809.83 1015.68 L810.35 1014.78 L810.87 1013.88 L811.39 1012.98 L811.91 1012.08 L812.43 1011.18 L812.95 1010.28 L813.47 1009.39 L814 1008.49 L814.52 1007.59 L815.04 1006.7 L815.56 1005.8 L816.09 1004.9 L816.61 1004.01 L817.14 1003.11 L817.66 1002.22 L818.19 1001.33 L818.71 1000.43 L819.24 999.54 L819.76 998.65 L820.29 997.76 L820.82 996.87 L821.34 995.98 L821.87 995.09 L822.4 994.2 L822.93 993.31 L823.45 992.42 L823.98 991.53 L824.51 990.64 L825.04 989.76 L825.57 988.87 L826.1 987.99 L826.63 987.1 L827.17 986.22 L827.7 985.33 L828.23 984.45 L828.76 983.57 L829.29 982.69 L829.83 981.8 L830.36 980.92 L830.9 980.04 L831.43 979.16 L831.96 978.29 L832.5 977.41 L833.04 976.53 L833.57 975.65 L834.11 974.78 L834.65 973.9 L835.18 973.03 L835.72 972.15 L836.26 971.28 L836.8 970.41 L837.34 969.54 L837.88 968.67 L838.42 967.8 L838.96 966.93 L839.5 966.06 L840.04 965.19 L840.58 964.32 L841.12 963.46 L841.67 962.59 L842.21 961.73 L842.75 960.86 L843.3 960 L843.84 959.14 L844.39 958.27 L844.93 957.41 L845.48 956.55 L846.02 955.69 L846.57 954.84 L847.12 953.98 L847.67 953.12 L848.22 952.26 L848.77 951.41 L849.32 950.55 L849.87 949.7 L850.42 948.85 L850.97 947.99 L851.53 947.14 L852.08 946.29 L852.64 945.44 L853.19 944.59 L853.75 943.74 L854.31 942.89 L854.87 942.04 L855.43 941.19 L855.99 940.35 L856.55 939.5 L857.11 938.66 L857.68 937.81 L858.24 936.97 L858.81 936.12 L859.38 935.28 L859.95 934.44 L860.52 933.59 L861.09 932.75 L861.66 931.91 L862.24 931.07 L862.81 930.23 L863.39 929.39 L863.97 928.55 L864.55 927.71 L865.13 926.88 L865.71 926.04 L866.3 925.2 L866.88 924.36 L867.47 923.53 L868.06 922.69 L868.65 921.86 L869.25 921.02 L869.84 920.19 L870.44 919.35 L871.03 918.52 L871.63 917.69 L872.24 916.85 L872.84 916.02 L873.44 915.19 L874.05 914.36 L874.66 913.53 L875.27 912.7 L875.88 911.87 L876.5 911.04 L877.12 910.21 L877.73 909.38 L878.36 908.55 L878.98 907.72 L879.6 906.89 L880.23 906.06 L880.86 905.23 L881.49 904.4 L882.13 903.58 L882.76 902.75 L883.4 901.92 L884.04 901.1 L884.68 900.27 L885.33 899.44 L885.98 898.62 L886.63 897.79 L887.28 896.97 L887.94 896.14 L888.59 895.31 L889.25 894.49 L889.92 893.66 L890.58 892.84 L891.25 892.02 L891.92 891.19 L892.6 890.37 L893.27 889.55 L893.95 888.73 L894.63 887.91 L895.32 887.09 L896 886.27 L896.69 885.46 L897.39 884.64 L898.08 883.83 L898.78 883.02 L899.48 882.21 L900.19 881.41 L900.89 880.61 L901.6 879.81 L902.32 879.01 L903.03 878.21 L903.75 877.42 L904.48 876.63 L905.2 875.85 L905.93 875.07 L906.66 874.29 L907.4 873.51 L908.14 872.74 L908.88 871.98 L909.63 871.21 L910.38 870.46 L911.13 869.7 L911.88 868.95 L912.64 868.21 L913.4 867.47 L914.17 866.73 L914.94 866 L915.71 865.28 L916.49 864.56 L917.27 863.84 L918.05 863.13 L918.84 862.43 L919.63 861.73 L920.43 861.04 L921.22 860.36 L922.03 859.68 L922.83 859.01 L923.64 858.34 L924.46 857.68 L925.27 857.03 L926.1 856.39 L926.92 855.75 L927.75 855.12 L928.58 854.5 L929.42 853.88 L930.26 853.27 L931.11 852.67 L931.96 852.08 L932.81 851.5 L933.67 850.92 L934.53 850.36 L935.39 849.8 L936.26 849.25 L937.13 848.71 L938.01 848.19 L938.89 847.67 L939.78 847.16 L940.66 846.67 L941.56 846.18 L942.45 845.71 L943.35 845.25 L944.25 844.8 L945.16 844.37 L946.07 843.95 L946.98 843.54 L947.9 843.14 L948.82 842.76 L949.74 842.4 L950.66 842.04 L951.59 841.71 L952.53 841.39 L953.46 841.08 L954.4 840.79 L955.34 840.51 L956.29 840.26 L957.23 840.01 L958.18 839.79 L959.14 839.58 L960.09 839.39 L961.05 839.22 L962.02 839.07 L962.98 838.94 L963.95 838.82 L964.92 838.73 L965.89 838.65 L966.87 838.59 L967.85 838.56 L968.83 838.54 L969.81 838.55 L970.8 838.57 L971.78 838.62 L972.77 838.69 L973.77 838.79 L974.76 838.9 L975.76 839.04 L976.76 839.2 L977.76 839.38 L978.76 839.59 L979.76 839.81 L980.77 840.06 L981.77 840.33 L982.77 840.63 L983.77 840.94 L984.76 841.27 L985.75 841.62 L986.74 841.99 L987.72 842.38 L988.7 842.79 L989.67 843.21 L990.64 843.65 L991.6 844.11 L992.55 844.59 L993.49 845.08 L994.42 845.59 L995.35 846.12 L996.26 846.66 L997.16 847.21 L998.05 847.78 L998.93 848.37 L999.8 848.96 L1000.65 849.57 L1001.49 850.2 L1002.32 850.83 L1003.13 851.48 L1003.93 852.14 L1004.71 852.81 L1005.49 853.49 L1006.25 854.18 L1007 854.88 L1007.74 855.6 L1008.47 856.32 L1009.19 857.05 L1009.9 857.78 L1010.6 858.53 L1011.29 859.28 L1011.98 860.04 L1012.66 860.81 L1013.32 861.59 L1013.99 862.37 L1014.64 863.15 L1015.29 863.94 L1015.93 864.74 L1016.57 865.54 L1017.2 866.35 L1017.83 867.15 L1018.45 867.97 L1019.07 868.78 L1019.69 869.6 L1020.3 870.43 L1020.9 871.25 L1021.5 872.08 L1022.1 872.92 L1022.69 873.76 L1023.28 874.6 L1023.86 875.44 L1024.44 876.29 L1025.02 877.14 L1025.59 878 L1026.16 878.86 L1026.72 879.72 L1027.28 880.58 L1027.84 881.45 L1028.39 882.32 L1028.94 883.19 L1029.48 884.07 L1030.03 884.94 L1030.57 885.82 L1031.1 886.71 L1031.63 887.59 L1032.16 888.48 L1032.69 889.38 L1033.21 890.27 L1033.73 891.17 L1034.24 892.06 L1034.76 892.97 L1035.27 893.87 L1035.77 894.78 L1036.28 895.68 L1036.78 896.59 L1037.28 897.5 L1037.78 898.42 L1038.27 899.33 L1038.76 900.25 L1039.25 901.17 L1039.74 902.09 L1040.22 903.02 L1040.7 903.94 L1041.18 904.87 L1041.66 905.8 L1042.14 906.73 L1042.61 907.66 L1043.08 908.59 L1043.55 909.52 L1044.02 910.46 L1044.48 911.4 L1044.95 912.33 L1045.41 913.27 L1045.87 914.21 L1046.33 915.15 L1046.79 916.1 L1047.25 917.04 L1047.7 917.98 L1048.15 918.93 L1048.61 919.87 L1049.06 920.82 L1049.51 921.77 L1049.96 922.72 L1050.41 923.66 L1050.85 924.61 L1051.3 925.56 L1051.75 926.51 L1052.19 927.46 L1052.63 928.41 L1053.08 929.36 L1053.52 930.31 L1053.96 931.27 L1054.4 932.22 L1054.84 933.17 L1055.29 934.12 L1055.73 935.07 L1056.17 936.02 L1056.61 936.97 L1057.05 937.92 L1057.49 938.87 L1057.93 939.83 L1058.37 940.78 L1058.81 941.72 L1059.25 942.67 L1059.69 943.62 L1060.13 944.57 L1060.57 945.52 L1061.01 946.46 L1061.45 947.41 L1061.89 948.36 L1062.34 949.3 L1062.78 950.24 L1063.23 951.19 L1063.67 952.13 L1064.12 953.07 L1064.56 954.01 L1065.01 954.95 L1065.46 955.88 L1065.91 956.82 L1066.36 957.75 L1066.81 958.69 L1067.27 959.62 L1067.72 960.55 L1068.18 961.48 L1068.63 962.41 L1069.09 963.33 L1069.55 964.26 L1070.02 965.18 L1070.48 966.1 L1070.95 967.02 L1071.41 967.93 L1071.88 968.85 L1072.35 969.76 L1072.82 970.67 L1073.3 971.58 L1073.78 972.49 L1074.26 973.39 L1074.74 974.3 L1075.22 975.2 L1075.71 976.09 L1076.19 976.99 L1076.68 977.88 L1077.18 978.77 L1077.67 979.66 L1078.17 980.54 L1078.67 981.43 L1079.17 982.31 L1079.68 983.18 L1080.19 984.06 L1080.7 984.93 L1081.22 985.8 L1081.73 986.66 L1082.26 987.52 L1082.78 988.38 L1083.31 989.24 L1083.84 990.09 L1084.37 990.94 L1084.91 991.79 L1085.45 992.63 L1085.99 993.47 L1086.54 994.31 L1087.09 995.14 L1087.65 995.97 L1090.96 1000.97" stroke="#9400d3"/>
<path d="M619.5 808.03 L1088.2 661.37" stroke="#9400d3" stroke-dasharray="4 3.6"/>
<path d="M619.5 1007.26 L1088.2 861.25" stroke="#009e73" stroke-dasharray="4 3.6"/>
<path d="M762.82 1162.6 L1088.2 1061.47" stroke="#56b4e9" stroke-dasharray="4 3.6"/>
</g>
<path d="M671.78 1162.6 v-2.4 M671.78 618.6 v2.4 M702.36 1162.6 v-2.4 M702.36 618.6 v2.4 M724.05 1162.6 v-2.4 M724.05 618.6 v2.4 M740.88 1162.6 v-2.4 M740.88 618.6 v2.4 M754.63 1162.6 v-2.4 M754.63 618.6 v2.4 M766.26 1162.6 v-2.4 M766.26 618.6 v2.4 M776.33 1162.6 v-2.4 M776.33 618.6 v2.4 M785.21 1162.6 v-2.4 M785.21 618.6 v2.4 M793.16 1162.6 v-4.8 M793.16 618.6 v4.8 M845.44 1162.6 v-2.4 M845.44 618.6 v2.4 M876.02 1162.6 v-2.4 M876.02 618.6 v2.4 M897.71 1162.6 v-2.4 M897.71 618.6 v2.4 M914.54 1162.6 v-2.4 M914.54 618.6 v2.4 M928.29 1162.6 v-2.4 M928.29 618.6 v2.4 M939.92 1162.6 v-2.4 M939.92 618.6 v2.4 M949.99 1162.6 v-2.4 M949.99 618.6 v2.4 M958.87 1162.6 v-2.4 M958.87 618.6 v2.4 M966.82 1162.6 v-4.8 M966.82 618.6 v4.8 M1019.09 1162.6 v-2.4 M1019.09 618.6 v2.4 M1049.67 1162.6 v-2.4 M1049.67 618.6 v2.4 M1071.37 1162.6 v-2.4 M1071.37 618.6 v2.4 M619.5 1162.6 h4.8 M1088.2 1162.6 h-4.8 M619.5 1102.16 h4.8 M1088.2 1102.16 h-4.8 M619.5 1041.71 h4.8 M1088.2 1041.71 h-4.8 M619.5 981.27 h4.8 M1088.2 981.27 h-4.8 M619.5 920.82 h4.8 M1088.2 920.82 h-4.8 M619.5 860.38 h4.8 M1088.2 860.38 h-4.8 M619.5 799.93 h4.8 M1088.2 799.93 h-4.8 M619.5 739.49 h4.8 M1088.2 739.49 h-4.8 M619.5 679.04 h4.8 M1088.2 679.04 h-4.8 M619.5 618.6 h4.8 M1088.2 618.6 h-4.8" stroke="#000" stroke-width="0.9" fill="none"/>
<rect x="619.5" y="618.6" width="468.7" height="544" fill="none" stroke="#000" stroke-width="0.85"/>
<text x="612" y="1168" text-anchor="end" font-size="14.7">10<tspan dy="-5.4" font-size="11.7">-15</tspan></text>
<text x="612" y="1107.56" text-anchor="end" font-size="14.7">10<tspan dy="-5.4" font-size="11.7">-14</tspan></text>
<text x="612" y="1047.11" text-anchor="end" font-size="14.7">10<tspan dy="-5.4" font-size="11.7">-13</tspan></text>
<text x="612" y="986.67" text-anchor="end" font-size="14.7">10<tspan dy="-5.4" font-size="11.7">-12</tspan></text>
<text x="612" y="926.22" text-anchor="end" font-size="14.7">10<tspan dy="-5.4" font-size="11.7">-11</tspan></text>
<text x="612" y="865.78" text-anchor="end" font-size="14.7">10<tspan dy="-5.4" font-size="11.7">-10</tspan></text>
<text x="612" y="805.33" text-anchor="end" font-size="14.7">10<tspan dy="-5.4" font-size="11.7">-9</tspan></text>
<text x="612" y="744.89" text-anchor="end" font-size="14.7">10<tspan dy="-5.4" font-size="11.7">-8</tspan></text>
<text x="612" y="684.44" text-anchor="end" font-size="14.7">10<tspan dy="-5.4" font-size="11.7">-7</tspan></text>
<text x="612" y="624" text-anchor="end" font-size="14.7">10<tspan dy="-5.4" font-size="11.7">-6</tspan></text>
<text x="619.5" y="1181.4" text-anchor="middle" font-size="14.7">10<tspan dy="-5.4" font-size="11.7">0</tspan></text>
<text x="793.16" y="1181.4" text-anchor="middle" font-size="14.7">10<tspan dy="-5.4" font-size="11.7">1</tspan></text>
<text x="966.82" y="1181.4" text-anchor="middle" font-size="14.7">10<tspan dy="-5.4" font-size="11.7">2</tspan></text>
<text x="853.85" y="1203" text-anchor="middle" font-size="18.6">Time (days)</text>
<text transform="translate(577.5 890.6) rotate(-90)" text-anchor="middle" font-size="18.6">Flux Density (mJy)</text>
<text x="668.5" y="635" text-anchor="middle" font-size="13.0" textLength="56.6" lengthAdjust="spacingAndGlyphs">Jet (SSC)</text>
<text x="646.5" y="648.2" text-anchor="middle" font-size="13.0">hom</text>
<text x="645.9" y="660.8" text-anchor="middle" font-size="13.0">wind</text>
<path d="M670 643.2 H703.9" stroke="#000" stroke-width="1.5"/>
<path d="M670 656 H703.9" stroke="#000" stroke-width="1.5" stroke-dasharray="4 3.6"/>
<text x="853.5" y="648" text-anchor="middle" font-size="18.4" fill="#9400d3">X-ray @ 100 keV</text>
<text x="853.5" y="669.65" text-anchor="middle" font-size="18.4" fill="#009e73">γ-ray @ 100 MeV</text>
<text x="853.5" y="691.3" text-anchor="middle" font-size="18.4" fill="#56b4e9">γ-ray @ 100 GeV</text>
<rect x="0" y="598.8" width="1110" height="6" fill="#fff"/>
</svg>
</body></html>
